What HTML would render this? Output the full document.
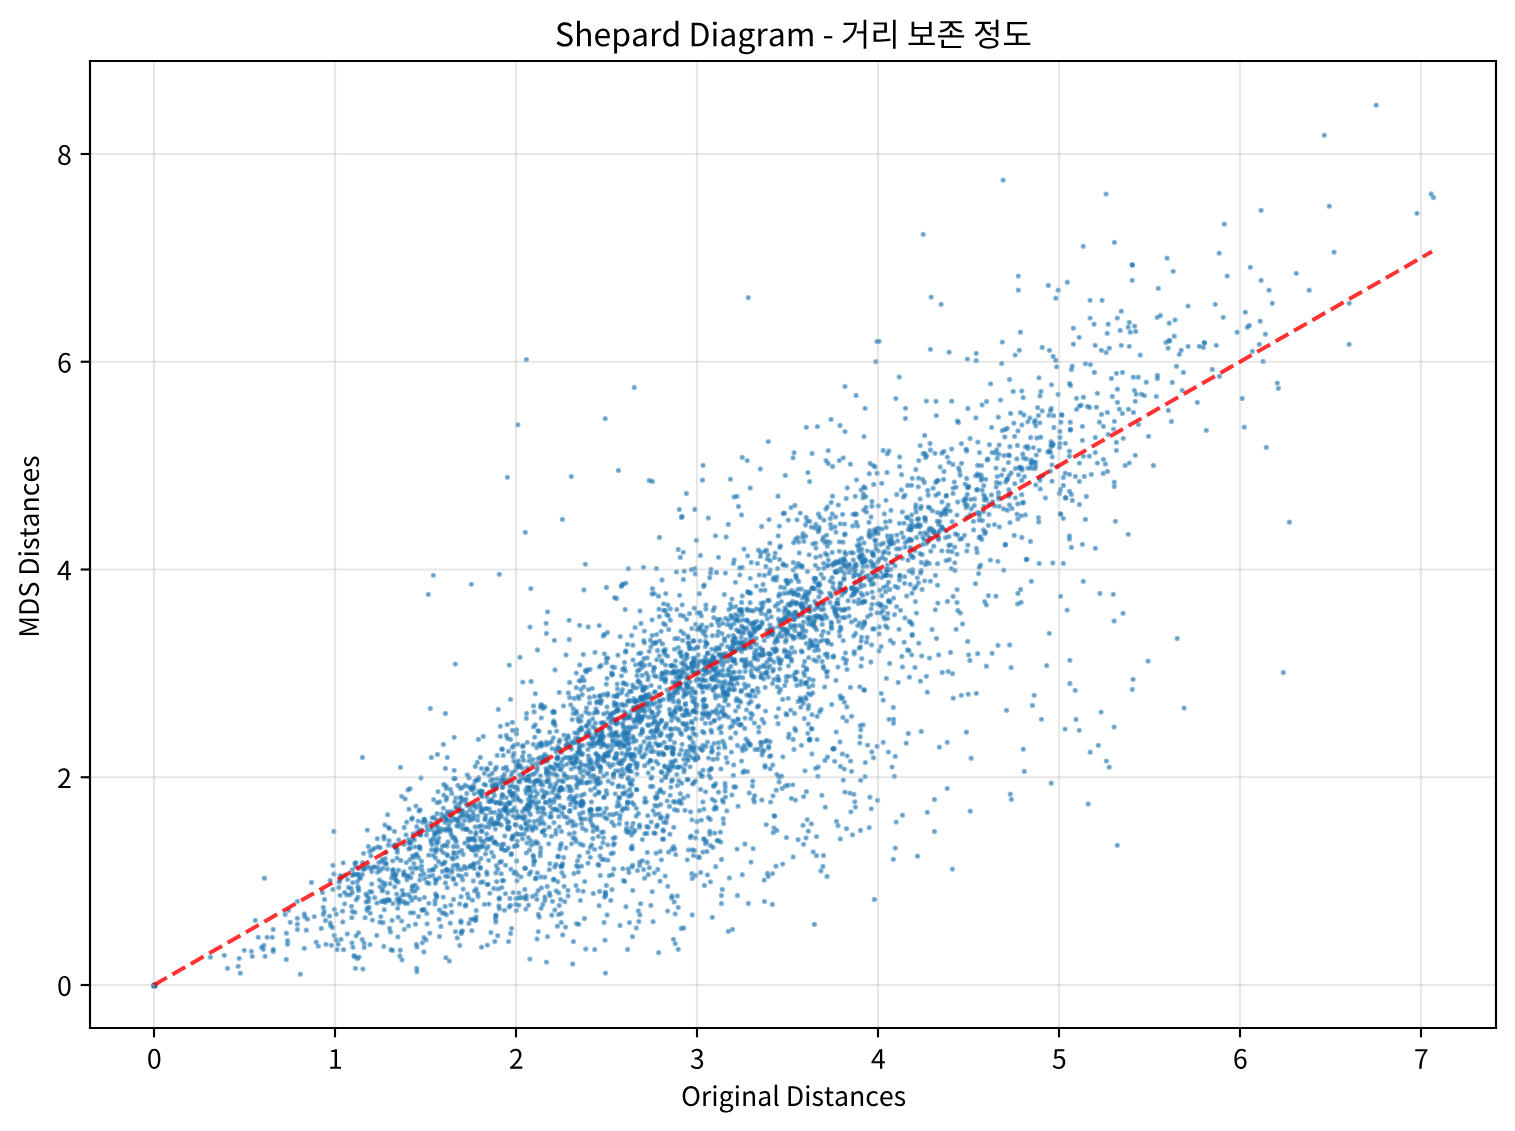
<!DOCTYPE html><html><head><meta charset="utf-8"><style>html,body{margin:0;padding:0;background:#fff;font-family:"Liberation Sans",sans-serif;}svg{display:block;width:1515px;height:1131px}</style></head><body><svg width="1515" height="1131" viewBox="0 0 568.125 424.125" version="1.1">
 
 <defs>
  <style type="text/css">*{stroke-linejoin: round; stroke-linecap: butt}</style>
 </defs>
 <defs><clipPath id="axclip"><rect x="90.0" y="61.0" width="1406.0" height="967.0"/></clipPath></defs><g id="figure_1">
  <g id="patch_1">
   <path d="M 0 424.125 
L 568.125 424.125 
L 568.125 0 
L 0 0 
z
" style="fill: #ffffff"/>
  </g>
  <g id="axes_1">
   <g id="patch_2">
    <path d="M 33.75 385.5 
L 561 385.5 
L 561 22.875 
L 33.75 22.875 
z
" style="fill: #ffffff"/>
   </g>
   <g transform="scale(0.375)"><g fill="#1f77b4" stroke="#1f77b4" fill-opacity="0.5" stroke-opacity="0.5" stroke-width="2.667" clip-path="url(#axclip)"><circle cx="154.45" cy="985.45" r="3.3" fill-opacity="1" stroke="none"/><circle cx="416.9" cy="971.8" r="1.333"/><circle cx="476.1" cy="916.9" r="1.333"/><circle cx="365.1" cy="917.7" r="1.333"/><circle cx="510.4" cy="905.3" r="1.333"/><circle cx="402.9" cy="894.6" r="1.333"/><circle cx="399.2" cy="899.9" r="1.333"/><circle cx="427.1" cy="923.8" r="1.333"/><circle cx="371.8" cy="892.0" r="1.333"/><circle cx="362.9" cy="969.0" r="1.333"/><circle cx="435.6" cy="893.9" r="1.333"/><circle cx="385.4" cy="902.3" r="1.333"/><circle cx="390.5" cy="931.9" r="1.333"/><circle cx="368.9" cy="898.4" r="1.333"/><circle cx="422.3" cy="909.8" r="1.333"/><circle cx="422.2" cy="910.2" r="1.333"/><circle cx="383.8" cy="946.5" r="1.333"/><circle cx="352.2" cy="892.4" r="1.333"/><circle cx="436.9" cy="896.9" r="1.333"/><circle cx="358.6" cy="890.6" r="1.333"/><circle cx="504.4" cy="910.3" r="1.333"/><circle cx="344.6" cy="903.8" r="1.333"/><circle cx="459.6" cy="903.9" r="1.333"/><circle cx="358.6" cy="932.8" r="1.333"/><circle cx="491.0" cy="932.5" r="1.333"/><circle cx="505.4" cy="893.6" r="1.333"/><circle cx="404.1" cy="894.6" r="1.333"/><circle cx="473.2" cy="919.1" r="1.333"/><circle cx="474.6" cy="890.9" r="1.333"/><circle cx="516.0" cy="898.6" r="1.333"/><circle cx="494.8" cy="941.5" r="1.333"/><circle cx="495.9" cy="915.1" r="1.333"/><circle cx="399.9" cy="897.8" r="1.333"/><circle cx="436.4" cy="895.8" r="1.333"/><circle cx="348.6" cy="887.4" r="1.333"/><circle cx="390.1" cy="883.7" r="1.333"/><circle cx="350.2" cy="894.8" r="1.333"/><circle cx="338.8" cy="887.5" r="1.333"/><circle cx="411.8" cy="891.0" r="1.333"/><circle cx="472.5" cy="900.2" r="1.333"/><circle cx="352.7" cy="882.6" r="1.333"/><circle cx="357.4" cy="958.6" r="1.333"/><circle cx="379.9" cy="922.2" r="1.333"/><circle cx="439.1" cy="919.2" r="1.333"/><circle cx="509.9" cy="898.5" r="1.333"/><circle cx="389.6" cy="900.3" r="1.333"/><circle cx="468.6" cy="897.9" r="1.333"/><circle cx="435.2" cy="900.5" r="1.333"/><circle cx="475.6" cy="920.5" r="1.333"/><circle cx="341.0" cy="939.4" r="1.333"/><circle cx="461.1" cy="896.7" r="1.333"/><circle cx="462.4" cy="930.8" r="1.333"/><circle cx="439.5" cy="909.9" r="1.333"/><circle cx="379.9" cy="886.8" r="1.333"/><circle cx="403.7" cy="901.5" r="1.333"/><circle cx="336.2" cy="914.2" r="1.333"/><circle cx="355.4" cy="968.3" r="1.333"/><circle cx="408.1" cy="894.6" r="1.333"/><circle cx="443.3" cy="897.1" r="1.333"/><circle cx="382.1" cy="882.1" r="1.333"/><circle cx="435.0" cy="904.1" r="1.333"/><circle cx="399.8" cy="956.0" r="1.333"/><circle cx="465.8" cy="904.8" r="1.333"/><circle cx="449.3" cy="961.0" r="1.333"/><circle cx="496.6" cy="881.6" r="1.333"/><circle cx="445.4" cy="882.9" r="1.333"/><circle cx="493.8" cy="888.5" r="1.333"/><circle cx="389.6" cy="928.3" r="1.333"/><circle cx="390.9" cy="949.7" r="1.333"/><circle cx="445.9" cy="957.7" r="1.333"/><circle cx="374.7" cy="897.7" r="1.333"/><circle cx="366.0" cy="894.1" r="1.333"/><circle cx="344.6" cy="892.3" r="1.333"/><circle cx="356.2" cy="899.8" r="1.333"/><circle cx="440.9" cy="926.4" r="1.333"/><circle cx="371.7" cy="883.9" r="1.333"/><circle cx="356.2" cy="935.8" r="1.333"/><circle cx="358.5" cy="888.5" r="1.333"/><circle cx="340.1" cy="895.3" r="1.333"/><circle cx="495.8" cy="915.9" r="1.333"/><circle cx="415.0" cy="891.2" r="1.333"/><circle cx="435.4" cy="883.3" r="1.333"/><circle cx="412.6" cy="885.9" r="1.333"/><circle cx="495.8" cy="922.0" r="1.333"/><circle cx="481.5" cy="947.2" r="1.333"/><circle cx="412.0" cy="900.3" r="1.333"/><circle cx="424.0" cy="937.7" r="1.333"/><circle cx="338.2" cy="944.2" r="1.333"/><circle cx="480.6" cy="882.5" r="1.333"/><circle cx="497.7" cy="935.7" r="1.333"/><circle cx="427.0" cy="882.7" r="1.333"/><circle cx="415.3" cy="897.4" r="1.333"/><circle cx="453.5" cy="899.5" r="1.333"/><circle cx="351.5" cy="906.3" r="1.333"/><circle cx="515.7" cy="904.3" r="1.333"/><circle cx="424.5" cy="909.5" r="1.333"/><circle cx="451.7" cy="912.2" r="1.333"/><circle cx="498.2" cy="888.9" r="1.333"/><circle cx="426.8" cy="913.5" r="1.333"/><circle cx="461.3" cy="933.4" r="1.333"/><circle cx="401.7" cy="921.1" r="1.333"/><circle cx="499.2" cy="898.9" r="1.333"/><circle cx="400.3" cy="901.6" r="1.333"/><circle cx="369.2" cy="907.5" r="1.333"/><circle cx="478.1" cy="896.6" r="1.333"/><circle cx="415.3" cy="885.1" r="1.333"/><circle cx="511.6" cy="928.3" r="1.333"/><circle cx="354.0" cy="955.6" r="1.333"/><circle cx="385.0" cy="883.5" r="1.333"/><circle cx="460.9" cy="920.9" r="1.333"/><circle cx="426.1" cy="939.9" r="1.333"/><circle cx="398.7" cy="903.4" r="1.333"/><circle cx="446.4" cy="914.8" r="1.333"/><circle cx="351.8" cy="917.7" r="1.333"/><circle cx="495.6" cy="918.7" r="1.333"/><circle cx="396.7" cy="894.1" r="1.333"/><circle cx="339.1" cy="882.2" r="1.333"/><circle cx="461.0" cy="922.6" r="1.333"/><circle cx="428.9" cy="883.5" r="1.333"/><circle cx="398.2" cy="917.2" r="1.333"/><circle cx="476.3" cy="889.0" r="1.333"/><circle cx="342.8" cy="922.0" r="1.333"/><circle cx="477.8" cy="893.4" r="1.333"/><circle cx="499.4" cy="898.0" r="1.333"/><circle cx="471.8" cy="930.7" r="1.333"/><circle cx="351.3" cy="888.4" r="1.333"/><circle cx="336.0" cy="939.9" r="1.333"/><circle cx="424.4" cy="897.4" r="1.333"/><circle cx="423.9" cy="951.9" r="1.333"/><circle cx="470.8" cy="919.3" r="1.333"/><circle cx="402.2" cy="890.3" r="1.333"/><circle cx="367.4" cy="908.1" r="1.333"/><circle cx="450.3" cy="923.2" r="1.333"/><circle cx="412.2" cy="887.6" r="1.333"/><circle cx="501.8" cy="887.6" r="1.333"/><circle cx="397.0" cy="899.5" r="1.333"/><circle cx="357.9" cy="897.2" r="1.333"/><circle cx="488.2" cy="884.3" r="1.333"/><circle cx="398.2" cy="882.2" r="1.333"/><circle cx="429.8" cy="933.1" r="1.333"/><circle cx="343.6" cy="949.7" r="1.333"/><circle cx="357.2" cy="881.9" r="1.333"/><circle cx="337.1" cy="949.6" r="1.333"/><circle cx="410.5" cy="912.8" r="1.333"/><circle cx="383.5" cy="901.4" r="1.333"/><circle cx="388.4" cy="900.2" r="1.333"/><circle cx="513.2" cy="892.6" r="1.333"/><circle cx="355.0" cy="912.4" r="1.333"/><circle cx="407.8" cy="903.2" r="1.333"/><circle cx="417.3" cy="888.2" r="1.333"/><circle cx="416.7" cy="968.4" r="1.333"/><circle cx="366.1" cy="901.9" r="1.333"/><circle cx="413.6" cy="912.8" r="1.333"/><circle cx="487.1" cy="884.6" r="1.333"/><circle cx="447.2" cy="887.7" r="1.333"/><circle cx="442.1" cy="913.0" r="1.333"/><circle cx="455.9" cy="884.1" r="1.333"/><circle cx="408.6" cy="925.9" r="1.333"/><circle cx="402.0" cy="959.8" r="1.333"/><circle cx="428.8" cy="903.3" r="1.333"/><circle cx="455.5" cy="931.6" r="1.333"/><circle cx="372.4" cy="920.1" r="1.333"/><circle cx="384.3" cy="885.5" r="1.333"/><circle cx="383.1" cy="922.7" r="1.333"/><circle cx="404.3" cy="929.3" r="1.333"/><circle cx="347.3" cy="933.9" r="1.333"/><circle cx="342.5" cy="911.2" r="1.333"/><circle cx="415.5" cy="924.2" r="1.333"/><circle cx="484.4" cy="904.3" r="1.333"/><circle cx="487.4" cy="945.1" r="1.333"/><circle cx="346.9" cy="895.0" r="1.333"/><circle cx="376.9" cy="903.1" r="1.333"/><circle cx="418.6" cy="916.5" r="1.333"/><circle cx="405.2" cy="903.3" r="1.333"/><circle cx="476.2" cy="910.5" r="1.333"/><circle cx="367.2" cy="896.0" r="1.333"/><circle cx="397.7" cy="908.3" r="1.333"/><circle cx="499.3" cy="908.8" r="1.333"/><circle cx="382.3" cy="891.1" r="1.333"/><circle cx="387.5" cy="899.4" r="1.333"/><circle cx="376.8" cy="935.4" r="1.333"/><circle cx="439.5" cy="936.5" r="1.333"/><circle cx="380.8" cy="916.6" r="1.333"/><circle cx="369.8" cy="891.6" r="1.333"/><circle cx="381.0" cy="901.6" r="1.333"/><circle cx="359.1" cy="957.1" r="1.333"/><circle cx="422.3" cy="942.8" r="1.333"/><circle cx="510.5" cy="933.4" r="1.333"/><circle cx="352.3" cy="911.5" r="1.333"/><circle cx="382.7" cy="889.3" r="1.333"/><circle cx="509.1" cy="907.0" r="1.333"/><circle cx="394.8" cy="886.8" r="1.333"/><circle cx="498.9" cy="905.9" r="1.333"/><circle cx="465.3" cy="905.9" r="1.333"/><circle cx="400.3" cy="950.2" r="1.333"/><circle cx="368.3" cy="901.5" r="1.333"/><circle cx="410.3" cy="897.0" r="1.333"/><circle cx="362.2" cy="939.5" r="1.333"/><circle cx="461.5" cy="931.9" r="1.333"/><circle cx="352.0" cy="943.0" r="1.333"/><circle cx="444.4" cy="913.1" r="1.333"/><circle cx="392.1" cy="920.3" r="1.333"/><circle cx="364.2" cy="947.4" r="1.333"/><circle cx="353.0" cy="947.3" r="1.333"/><circle cx="364.1" cy="943.1" r="1.333"/><circle cx="416.4" cy="944.3" r="1.333"/><circle cx="367.0" cy="910.3" r="1.333"/><circle cx="483.0" cy="881.8" r="1.333"/><circle cx="357.9" cy="886.6" r="1.333"/><circle cx="508.6" cy="941.6" r="1.333"/><circle cx="392.6" cy="950.4" r="1.333"/><circle cx="419.5" cy="899.4" r="1.333"/><circle cx="468.9" cy="923.4" r="1.333"/><circle cx="489.8" cy="893.3" r="1.333"/><circle cx="384.2" cy="900.2" r="1.333"/><circle cx="457.3" cy="937.9" r="1.333"/><circle cx="463.2" cy="889.1" r="1.333"/><circle cx="354.7" cy="956.7" r="1.333"/><circle cx="475.5" cy="919.6" r="1.333"/><circle cx="384.3" cy="909.7" r="1.333"/><circle cx="459.8" cy="945.5" r="1.333"/><circle cx="370.0" cy="944.6" r="1.333"/><circle cx="489.0" cy="904.1" r="1.333"/><circle cx="450.8" cy="905.1" r="1.333"/><circle cx="467.5" cy="894.0" r="1.333"/><circle cx="387.6" cy="892.7" r="1.333"/><circle cx="397.9" cy="936.9" r="1.333"/><circle cx="370.2" cy="913.2" r="1.333"/><circle cx="393.0" cy="903.6" r="1.333"/><circle cx="445.1" cy="906.4" r="1.333"/><circle cx="416.9" cy="947.1" r="1.333"/><circle cx="525.8" cy="909.1" r="1.333"/><circle cx="536.1" cy="894.6" r="1.333"/><circle cx="580.4" cy="900.4" r="1.333"/><circle cx="526.3" cy="895.6" r="1.333"/><circle cx="542.9" cy="904.5" r="1.333"/><circle cx="544.8" cy="896.9" r="1.333"/><circle cx="605.5" cy="973.1" r="1.333"/><circle cx="572.7" cy="963.9" r="1.333"/><circle cx="639.9" cy="914.9" r="1.333"/><circle cx="640.6" cy="903.7" r="1.333"/><circle cx="560.7" cy="899.5" r="1.333"/><circle cx="605.7" cy="893.5" r="1.333"/><circle cx="547.5" cy="936.6" r="1.333"/><circle cx="599.6" cy="891.4" r="1.333"/><circle cx="518.9" cy="905.2" r="1.333"/><circle cx="526.3" cy="899.0" r="1.333"/><circle cx="692.2" cy="914.9" r="1.333"/><circle cx="612.0" cy="889.6" r="1.333"/><circle cx="578.0" cy="890.5" r="1.333"/><circle cx="675.2" cy="914.0" r="1.333"/><circle cx="565.5" cy="927.1" r="1.333"/><circle cx="605.0" cy="940.2" r="1.333"/><circle cx="678.2" cy="949.3" r="1.333"/><circle cx="607.1" cy="914.9" r="1.333"/><circle cx="532.4" cy="896.5" r="1.333"/><circle cx="551.8" cy="915.2" r="1.333"/><circle cx="650.9" cy="905.4" r="1.333"/><circle cx="629.4" cy="922.6" r="1.333"/><circle cx="546.5" cy="962.1" r="1.333"/><circle cx="636.3" cy="928.0" r="1.333"/><circle cx="561.2" cy="922.5" r="1.333"/><circle cx="620.0" cy="925.4" r="1.333"/><circle cx="557.4" cy="926.2" r="1.333"/><circle cx="653.1" cy="921.7" r="1.333"/><circle cx="667.8" cy="886.3" r="1.333"/><circle cx="632.5" cy="936.7" r="1.333"/><circle cx="632.8" cy="890.4" r="1.333"/><circle cx="554.8" cy="910.0" r="1.333"/><circle cx="524.9" cy="898.2" r="1.333"/><circle cx="652.2" cy="891.7" r="1.333"/><circle cx="604.1" cy="922.5" r="1.333"/><circle cx="599.1" cy="905.7" r="1.333"/><circle cx="683.8" cy="928.0" r="1.333"/><circle cx="516.3" cy="910.6" r="1.333"/><circle cx="681.3" cy="928.4" r="1.333"/><circle cx="573.4" cy="941.6" r="1.333"/><circle cx="539.2" cy="917.1" r="1.333"/><circle cx="578.8" cy="924.3" r="1.333"/><circle cx="529.9" cy="959.1" r="1.333"/><circle cx="558.8" cy="892.9" r="1.333"/><circle cx="627.6" cy="949.5" r="1.333"/><circle cx="538.3" cy="914.3" r="1.333"/><circle cx="585.8" cy="949.0" r="1.333"/><circle cx="584.7" cy="881.6" r="1.333"/><circle cx="576.4" cy="923.6" r="1.333"/><circle cx="610.8" cy="900.4" r="1.333"/><circle cx="671.7" cy="897.9" r="1.333"/><circle cx="677.3" cy="896.0" r="1.333"/><circle cx="550.0" cy="895.7" r="1.333"/><circle cx="576.0" cy="885.6" r="1.333"/><circle cx="562.7" cy="934.9" r="1.333"/><circle cx="521.6" cy="897.5" r="1.333"/><circle cx="660.0" cy="881.2" r="1.333"/><circle cx="528.5" cy="905.2" r="1.333"/><circle cx="561.4" cy="913.5" r="1.333"/><circle cx="673.5" cy="939.3" r="1.333"/><circle cx="584.5" cy="918.5" r="1.333"/><circle cx="638.3" cy="910.9" r="1.333"/><circle cx="583.2" cy="891.3" r="1.333"/><circle cx="593.3" cy="893.5" r="1.333"/><circle cx="594.7" cy="949.5" r="1.333"/><circle cx="568.0" cy="890.3" r="1.333"/><circle cx="552.5" cy="901.3" r="1.333"/><circle cx="678.2" cy="907.3" r="1.333"/><circle cx="568.1" cy="895.9" r="1.333"/><circle cx="541.1" cy="908.3" r="1.333"/><circle cx="604.7" cy="897.1" r="1.333"/><circle cx="626.0" cy="906.7" r="1.333"/><circle cx="658.7" cy="952.7" r="1.333"/><circle cx="605.3" cy="892.2" r="1.333"/><circle cx="544.9" cy="900.5" r="1.333"/><circle cx="538.1" cy="890.6" r="1.333"/><circle cx="559.2" cy="905.5" r="1.333"/><circle cx="524.8" cy="889.4" r="1.333"/><circle cx="606.4" cy="885.4" r="1.333"/><circle cx="674.2" cy="901.9" r="1.333"/><circle cx="541.4" cy="887.9" r="1.333"/><circle cx="564.1" cy="886.3" r="1.333"/><circle cx="556.1" cy="890.8" r="1.333"/><circle cx="518.9" cy="892.8" r="1.333"/><circle cx="547.2" cy="886.5" r="1.333"/><circle cx="667.6" cy="911.1" r="1.333"/><circle cx="537.0" cy="939.0" r="1.333"/><circle cx="518.9" cy="897.9" r="1.333"/><circle cx="549.4" cy="893.0" r="1.333"/><circle cx="624.8" cy="881.6" r="1.333"/><circle cx="675.2" cy="943.6" r="1.333"/><circle cx="558.5" cy="914.6" r="1.333"/><circle cx="536.9" cy="899.3" r="1.333"/><circle cx="557.8" cy="881.7" r="1.333"/><circle cx="605.5" cy="895.5" r="1.333"/><circle cx="538.3" cy="931.6" r="1.333"/><circle cx="672.0" cy="895.9" r="1.333"/><circle cx="564.8" cy="901.7" r="1.333"/><circle cx="638.9" cy="921.4" r="1.333"/><circle cx="685.6" cy="665.5" r="1.333"/><circle cx="665.7" cy="671.3" r="1.333"/><circle cx="694.2" cy="648.9" r="1.333"/><circle cx="658.6" cy="596.2" r="1.333"/><circle cx="692.9" cy="671.9" r="1.333"/><circle cx="640.9" cy="653.0" r="1.333"/><circle cx="639.5" cy="669.8" r="1.333"/><circle cx="682.4" cy="672.6" r="1.333"/><circle cx="693.7" cy="640.9" r="1.333"/><circle cx="607.4" cy="632.5" r="1.333"/><circle cx="678.3" cy="647.6" r="1.333"/><circle cx="687.3" cy="668.8" r="1.333"/><circle cx="691.2" cy="667.3" r="1.333"/><circle cx="665.5" cy="665.1" r="1.333"/><circle cx="675.6" cy="660.8" r="1.333"/><circle cx="678.0" cy="638.5" r="1.333"/><circle cx="666.8" cy="614.5" r="1.333"/><circle cx="679.5" cy="652.6" r="1.333"/><circle cx="569.1" cy="620.3" r="1.333"/><circle cx="635.1" cy="627.6" r="1.333"/><circle cx="661.1" cy="631.3" r="1.333"/><circle cx="665.0" cy="654.6" r="1.333"/><circle cx="652.0" cy="594.0" r="1.333"/><circle cx="632.9" cy="645.2" r="1.333"/><circle cx="647.3" cy="657.9" r="1.333"/><circle cx="599.5" cy="666.9" r="1.333"/><circle cx="661.7" cy="660.3" r="1.333"/><circle cx="637.5" cy="671.0" r="1.333"/><circle cx="686.8" cy="655.1" r="1.333"/><circle cx="662.5" cy="673.1" r="1.333"/><circle cx="682.7" cy="669.2" r="1.333"/><circle cx="679.6" cy="671.6" r="1.333"/><circle cx="695.3" cy="573.9" r="1.333"/><circle cx="689.2" cy="646.3" r="1.333"/><circle cx="663.7" cy="610.3" r="1.333"/><circle cx="665.5" cy="610.5" r="1.333"/><circle cx="555.0" cy="669.9" r="1.333"/><circle cx="665.8" cy="593.6" r="1.333"/><circle cx="659.0" cy="609.2" r="1.333"/><circle cx="625.3" cy="670.9" r="1.333"/><circle cx="656.7" cy="659.8" r="1.333"/><circle cx="606.3" cy="662.7" r="1.333"/><circle cx="641.0" cy="623.4" r="1.333"/><circle cx="530.0" cy="627.1" r="1.333"/><circle cx="662.0" cy="580.0" r="1.333"/><circle cx="671.9" cy="665.9" r="1.333"/><circle cx="680.9" cy="631.1" r="1.333"/><circle cx="595.0" cy="652.3" r="1.333"/><circle cx="566.0" cy="654.9" r="1.333"/><circle cx="622.6" cy="669.4" r="1.333"/><circle cx="588.2" cy="626.9" r="1.333"/><circle cx="614.6" cy="667.5" r="1.333"/><circle cx="604.4" cy="653.8" r="1.333"/><circle cx="622.0" cy="585.0" r="1.333"/><circle cx="606.5" cy="587.4" r="1.333"/><circle cx="530.8" cy="588.6" r="1.333"/><circle cx="649.8" cy="664.7" r="1.333"/><circle cx="667.7" cy="656.2" r="1.333"/><circle cx="696.9" cy="667.0" r="1.333"/><circle cx="607.9" cy="658.0" r="1.333"/><circle cx="693.2" cy="663.4" r="1.333"/><circle cx="677.9" cy="670.9" r="1.333"/><circle cx="684.2" cy="571.2" r="1.333"/><circle cx="683.7" cy="616.1" r="1.333"/><circle cx="665.4" cy="624.8" r="1.333"/><circle cx="674.6" cy="649.2" r="1.333"/><circle cx="687.1" cy="657.7" r="1.333"/><circle cx="670.7" cy="665.6" r="1.333"/><circle cx="680.9" cy="655.3" r="1.333"/><circle cx="687.7" cy="667.8" r="1.333"/><circle cx="676.8" cy="609.5" r="1.333"/><circle cx="694.0" cy="661.3" r="1.333"/><circle cx="659.3" cy="655.8" r="1.333"/><circle cx="625.7" cy="652.0" r="1.333"/><circle cx="579.7" cy="664.9" r="1.333"/><circle cx="520.0" cy="657.3" r="1.333"/><circle cx="683.7" cy="633.7" r="1.333"/><circle cx="656.5" cy="634.6" r="1.333"/><circle cx="682.7" cy="640.4" r="1.333"/><circle cx="650.9" cy="647.0" r="1.333"/><circle cx="616.6" cy="598.5" r="1.333"/><circle cx="686.5" cy="619.3" r="1.333"/><circle cx="682.2" cy="604.8" r="1.333"/><circle cx="663.4" cy="651.0" r="1.333"/><circle cx="546.4" cy="633.4" r="1.333"/><circle cx="639.7" cy="664.0" r="1.333"/><circle cx="684.0" cy="672.2" r="1.333"/><circle cx="663.5" cy="623.5" r="1.333"/><circle cx="606.4" cy="658.7" r="1.333"/><circle cx="653.3" cy="671.6" r="1.333"/><circle cx="649.2" cy="651.3" r="1.333"/><circle cx="643.9" cy="658.4" r="1.333"/><circle cx="586.2" cy="671.9" r="1.333"/><circle cx="692.2" cy="671.3" r="1.333"/><circle cx="692.4" cy="667.1" r="1.333"/><circle cx="689.4" cy="648.3" r="1.333"/><circle cx="667.8" cy="605.0" r="1.333"/><circle cx="668.7" cy="672.6" r="1.333"/><circle cx="662.5" cy="643.9" r="1.333"/><circle cx="695.0" cy="672.9" r="1.333"/><circle cx="654.3" cy="593.7" r="1.333"/><circle cx="673.5" cy="671.5" r="1.333"/><circle cx="696.3" cy="672.1" r="1.333"/><circle cx="689.5" cy="613.7" r="1.333"/><circle cx="670.3" cy="608.9" r="1.333"/><circle cx="694.4" cy="608.2" r="1.333"/><circle cx="655.5" cy="643.3" r="1.333"/><circle cx="653.9" cy="668.3" r="1.333"/><circle cx="683.4" cy="579.5" r="1.333"/><circle cx="674.1" cy="672.0" r="1.333"/><circle cx="691.7" cy="663.3" r="1.333"/><circle cx="652.1" cy="619.9" r="1.333"/><circle cx="695.6" cy="624.3" r="1.333"/><circle cx="623.1" cy="584.2" r="1.333"/><circle cx="635.5" cy="664.8" r="1.333"/><circle cx="691.8" cy="663.6" r="1.333"/><circle cx="673.7" cy="672.1" r="1.333"/><circle cx="692.5" cy="667.1" r="1.333"/><circle cx="665.2" cy="649.4" r="1.333"/><circle cx="614.6" cy="597.6" r="1.333"/><circle cx="642.0" cy="662.3" r="1.333"/><circle cx="603.3" cy="636.0" r="1.333"/><circle cx="693.0" cy="663.4" r="1.333"/><circle cx="640.6" cy="664.0" r="1.333"/><circle cx="604.3" cy="634.4" r="1.333"/><circle cx="601.1" cy="665.4" r="1.333"/><circle cx="587.4" cy="669.9" r="1.333"/><circle cx="659.6" cy="640.9" r="1.333"/><circle cx="624.5" cy="662.5" r="1.333"/><circle cx="693.3" cy="640.8" r="1.333"/><circle cx="664.6" cy="651.6" r="1.333"/><circle cx="583.3" cy="654.5" r="1.333"/><circle cx="655.7" cy="642.1" r="1.333"/><circle cx="625.7" cy="650.9" r="1.333"/><circle cx="650.5" cy="640.2" r="1.333"/><circle cx="546.1" cy="623.3" r="1.333"/><circle cx="687.8" cy="636.0" r="1.333"/><circle cx="627.5" cy="644.4" r="1.333"/><circle cx="652.2" cy="635.4" r="1.333"/><circle cx="547.6" cy="611.8" r="1.333"/><circle cx="621.2" cy="586.4" r="1.333"/><circle cx="583.9" cy="589.9" r="1.333"/><circle cx="599.3" cy="625.6" r="1.333"/><circle cx="672.0" cy="673.3" r="1.333"/><circle cx="554.3" cy="640.3" r="1.333"/><circle cx="696.2" cy="665.2" r="1.333"/><circle cx="625.9" cy="583.1" r="1.333"/><circle cx="644.4" cy="631.1" r="1.333"/><circle cx="653.0" cy="643.4" r="1.333"/><circle cx="585.5" cy="670.5" r="1.333"/><circle cx="624.4" cy="668.0" r="1.333"/><circle cx="680.4" cy="615.2" r="1.333"/><circle cx="674.9" cy="638.7" r="1.333"/><circle cx="579.6" cy="625.3" r="1.333"/><circle cx="638.7" cy="653.6" r="1.333"/><circle cx="684.9" cy="660.0" r="1.333"/><circle cx="675.4" cy="666.5" r="1.333"/><circle cx="640.0" cy="611.0" r="1.333"/><circle cx="644.7" cy="665.4" r="1.333"/><circle cx="683.4" cy="664.2" r="1.333"/><circle cx="617.9" cy="655.2" r="1.333"/><circle cx="687.9" cy="643.1" r="1.333"/><circle cx="652.5" cy="588.7" r="1.333"/><circle cx="537.5" cy="650.0" r="1.333"/><circle cx="689.3" cy="643.3" r="1.333"/><circle cx="681.0" cy="651.8" r="1.333"/><circle cx="576.3" cy="673.1" r="1.333"/><circle cx="611.6" cy="673.0" r="1.333"/><circle cx="690.3" cy="648.7" r="1.333"/><circle cx="688.3" cy="637.9" r="1.333"/><circle cx="659.4" cy="616.6" r="1.333"/><circle cx="681.6" cy="663.0" r="1.333"/><circle cx="672.5" cy="665.3" r="1.333"/><circle cx="643.8" cy="640.7" r="1.333"/><circle cx="631.6" cy="635.5" r="1.333"/><circle cx="620.2" cy="636.6" r="1.333"/><circle cx="642.0" cy="667.4" r="1.333"/><circle cx="569.3" cy="639.5" r="1.333"/><circle cx="657.5" cy="650.5" r="1.333"/><circle cx="676.4" cy="571.9" r="1.333"/><circle cx="691.8" cy="628.6" r="1.333"/><circle cx="654.4" cy="667.4" r="1.333"/><circle cx="663.6" cy="603.8" r="1.333"/><circle cx="670.3" cy="620.2" r="1.333"/><circle cx="679.6" cy="595.3" r="1.333"/><circle cx="644.5" cy="642.8" r="1.333"/><circle cx="676.2" cy="673.2" r="1.333"/><circle cx="590.0" cy="669.4" r="1.333"/><circle cx="646.3" cy="673.2" r="1.333"/><circle cx="612.2" cy="666.8" r="1.333"/><circle cx="668.7" cy="629.5" r="1.333"/><circle cx="662.0" cy="662.5" r="1.333"/><circle cx="682.0" cy="656.8" r="1.333"/><circle cx="668.4" cy="615.8" r="1.333"/><circle cx="633.0" cy="659.9" r="1.333"/><circle cx="686.4" cy="654.2" r="1.333"/><circle cx="695.2" cy="658.2" r="1.333"/><circle cx="693.7" cy="661.4" r="1.333"/><circle cx="693.1" cy="658.1" r="1.333"/><circle cx="625.1" cy="609.5" r="1.333"/><circle cx="809.1" cy="554.8" r="1.333"/><circle cx="800.1" cy="565.9" r="1.333"/><circle cx="875.2" cy="532.3" r="1.333"/><circle cx="877.8" cy="562.1" r="1.333"/><circle cx="827.4" cy="546.2" r="1.333"/><circle cx="827.4" cy="506.8" r="1.333"/><circle cx="823.7" cy="568.3" r="1.333"/><circle cx="853.2" cy="559.9" r="1.333"/><circle cx="800.3" cy="513.1" r="1.333"/><circle cx="877.4" cy="568.2" r="1.333"/><circle cx="860.4" cy="559.0" r="1.333"/><circle cx="875.9" cy="544.9" r="1.333"/><circle cx="739.6" cy="568.0" r="1.333"/><circle cx="844.3" cy="565.9" r="1.333"/><circle cx="823.7" cy="563.3" r="1.333"/><circle cx="859.9" cy="544.3" r="1.333"/><circle cx="838.3" cy="505.0" r="1.333"/><circle cx="805.7" cy="536.2" r="1.333"/><circle cx="827.2" cy="555.1" r="1.333"/><circle cx="869.0" cy="522.3" r="1.333"/><circle cx="855.3" cy="496.3" r="1.333"/><circle cx="849.4" cy="564.4" r="1.333"/><circle cx="844.7" cy="534.8" r="1.333"/><circle cx="851.2" cy="569.1" r="1.333"/><circle cx="860.4" cy="556.3" r="1.333"/><circle cx="796.4" cy="566.8" r="1.333"/><circle cx="818.4" cy="568.7" r="1.333"/><circle cx="798.2" cy="563.3" r="1.333"/><circle cx="863.5" cy="562.0" r="1.333"/><circle cx="856.3" cy="514.4" r="1.333"/><circle cx="751.2" cy="562.4" r="1.333"/><circle cx="846.2" cy="498.5" r="1.333"/><circle cx="872.0" cy="501.4" r="1.333"/><circle cx="877.0" cy="531.9" r="1.333"/><circle cx="809.8" cy="521.3" r="1.333"/><circle cx="780.4" cy="546.0" r="1.333"/><circle cx="733.4" cy="563.4" r="1.333"/><circle cx="858.7" cy="550.8" r="1.333"/><circle cx="750.2" cy="488.0" r="1.333"/><circle cx="871.1" cy="517.0" r="1.333"/><circle cx="862.9" cy="566.5" r="1.333"/><circle cx="856.3" cy="522.4" r="1.333"/><circle cx="823.9" cy="520.2" r="1.333"/><circle cx="768.2" cy="554.8" r="1.333"/><circle cx="803.9" cy="541.3" r="1.333"/><circle cx="843.6" cy="558.9" r="1.333"/><circle cx="846.0" cy="565.9" r="1.333"/><circle cx="778.2" cy="535.8" r="1.333"/><circle cx="835.1" cy="561.9" r="1.333"/><circle cx="831.2" cy="502.5" r="1.333"/><circle cx="801.9" cy="565.7" r="1.333"/><circle cx="779.8" cy="547.4" r="1.333"/><circle cx="760.3" cy="469.0" r="1.333"/><circle cx="872.6" cy="554.3" r="1.333"/><circle cx="718.5" cy="557.3" r="1.333"/><circle cx="827.3" cy="566.1" r="1.333"/><circle cx="832.6" cy="466.5" r="1.333"/><circle cx="835.6" cy="517.0" r="1.333"/><circle cx="726.1" cy="537.0" r="1.333"/><circle cx="828.3" cy="560.1" r="1.333"/><circle cx="869.3" cy="473.7" r="1.333"/><circle cx="877.1" cy="473.2" r="1.333"/><circle cx="807.2" cy="521.1" r="1.333"/><circle cx="838.1" cy="562.8" r="1.333"/><circle cx="797.6" cy="537.6" r="1.333"/><circle cx="816.0" cy="548.0" r="1.333"/><circle cx="875.0" cy="540.1" r="1.333"/><circle cx="702.5" cy="480.2" r="1.333"/><circle cx="793.3" cy="562.5" r="1.333"/><circle cx="819.2" cy="527.3" r="1.333"/><circle cx="863.7" cy="510.1" r="1.333"/><circle cx="815.9" cy="524.5" r="1.333"/><circle cx="825.9" cy="509.1" r="1.333"/><circle cx="844.6" cy="524.1" r="1.333"/><circle cx="872.5" cy="563.5" r="1.333"/><circle cx="857.6" cy="526.1" r="1.333"/><circle cx="843.4" cy="563.6" r="1.333"/><circle cx="835.4" cy="563.7" r="1.333"/><circle cx="873.3" cy="534.7" r="1.333"/><circle cx="802.4" cy="537.2" r="1.333"/><circle cx="747.7" cy="555.9" r="1.333"/><circle cx="876.0" cy="548.8" r="1.333"/><circle cx="770.2" cy="560.7" r="1.333"/><circle cx="827.1" cy="541.3" r="1.333"/><circle cx="809.6" cy="481.6" r="1.333"/><circle cx="864.1" cy="542.9" r="1.333"/><circle cx="848.8" cy="565.1" r="1.333"/><circle cx="826.7" cy="535.1" r="1.333"/><circle cx="872.2" cy="566.4" r="1.333"/><circle cx="857.2" cy="545.4" r="1.333"/><circle cx="863.4" cy="494.2" r="1.333"/><circle cx="863.8" cy="486.8" r="1.333"/><circle cx="711.0" cy="569.3" r="1.333"/><circle cx="775.2" cy="553.1" r="1.333"/><circle cx="798.7" cy="542.0" r="1.333"/><circle cx="844.1" cy="559.5" r="1.333"/><circle cx="769.9" cy="543.2" r="1.333"/><circle cx="823.5" cy="537.2" r="1.333"/><circle cx="744.0" cy="549.1" r="1.333"/><circle cx="834.9" cy="526.9" r="1.333"/><circle cx="764.5" cy="551.4" r="1.333"/><circle cx="855.5" cy="563.8" r="1.333"/><circle cx="866.5" cy="512.1" r="1.333"/><circle cx="832.3" cy="513.9" r="1.333"/><circle cx="866.0" cy="507.4" r="1.333"/><circle cx="847.1" cy="568.6" r="1.333"/><circle cx="856.6" cy="565.4" r="1.333"/><circle cx="832.2" cy="552.4" r="1.333"/><circle cx="859.0" cy="556.6" r="1.333"/><circle cx="700.4" cy="555.5" r="1.333"/><circle cx="858.6" cy="540.1" r="1.333"/><circle cx="730.4" cy="479.2" r="1.333"/><circle cx="794.9" cy="505.5" r="1.333"/><circle cx="785.3" cy="475.4" r="1.333"/><circle cx="873.1" cy="553.9" r="1.333"/><circle cx="840.4" cy="559.8" r="1.333"/><circle cx="865.9" cy="496.6" r="1.333"/><circle cx="830.4" cy="518.5" r="1.333"/><circle cx="853.1" cy="514.3" r="1.333"/><circle cx="873.6" cy="555.9" r="1.333"/><circle cx="815.7" cy="543.1" r="1.333"/><circle cx="734.1" cy="496.9" r="1.333"/><circle cx="861.4" cy="538.1" r="1.333"/><circle cx="777.6" cy="568.6" r="1.333"/><circle cx="814.8" cy="528.1" r="1.333"/><circle cx="853.1" cy="552.9" r="1.333"/><circle cx="874.2" cy="529.9" r="1.333"/><circle cx="870.6" cy="561.4" r="1.333"/><circle cx="741.5" cy="514.9" r="1.333"/><circle cx="783.2" cy="563.9" r="1.333"/><circle cx="738.5" cy="506.4" r="1.333"/><circle cx="864.4" cy="559.0" r="1.333"/><circle cx="830.5" cy="524.5" r="1.333"/><circle cx="862.0" cy="562.0" r="1.333"/><circle cx="861.4" cy="553.6" r="1.333"/><circle cx="863.0" cy="497.9" r="1.333"/><circle cx="861.1" cy="489.8" r="1.333"/><circle cx="855.3" cy="514.0" r="1.333"/><circle cx="842.6" cy="514.3" r="1.333"/><circle cx="766.6" cy="550.2" r="1.333"/><circle cx="737.0" cy="496.3" r="1.333"/><circle cx="779.5" cy="559.4" r="1.333"/><circle cx="769.0" cy="519.6" r="1.333"/><circle cx="876.9" cy="528.9" r="1.333"/><circle cx="858.9" cy="547.5" r="1.333"/><circle cx="825.3" cy="553.5" r="1.333"/><circle cx="818.3" cy="531.7" r="1.333"/><circle cx="855.1" cy="569.0" r="1.333"/><circle cx="818.8" cy="529.9" r="1.333"/><circle cx="843.0" cy="542.2" r="1.333"/><circle cx="832.9" cy="563.9" r="1.333"/><circle cx="734.2" cy="559.8" r="1.333"/><circle cx="837.5" cy="561.7" r="1.333"/><circle cx="869.2" cy="533.6" r="1.333"/><circle cx="860.6" cy="557.6" r="1.333"/><circle cx="839.4" cy="541.8" r="1.333"/><circle cx="760.8" cy="552.6" r="1.333"/><circle cx="844.9" cy="552.2" r="1.333"/><circle cx="867.0" cy="566.2" r="1.333"/><circle cx="797.0" cy="519.8" r="1.333"/><circle cx="802.1" cy="567.2" r="1.333"/><circle cx="795.4" cy="539.5" r="1.333"/><circle cx="788.2" cy="520.1" r="1.333"/><circle cx="767.3" cy="559.0" r="1.333"/><circle cx="836.0" cy="532.2" r="1.333"/><circle cx="856.5" cy="479.8" r="1.333"/><circle cx="761.6" cy="526.5" r="1.333"/><circle cx="778.0" cy="496.2" r="1.333"/><circle cx="847.3" cy="487.9" r="1.333"/><circle cx="874.1" cy="565.3" r="1.333"/><circle cx="845.3" cy="561.5" r="1.333"/><circle cx="791.0" cy="507.6" r="1.333"/><circle cx="832.5" cy="496.2" r="1.333"/><circle cx="840.9" cy="562.4" r="1.333"/><circle cx="807.9" cy="472.6" r="1.333"/><circle cx="850.5" cy="552.6" r="1.333"/><circle cx="806.2" cy="517.4" r="1.333"/><circle cx="852.8" cy="526.0" r="1.333"/><circle cx="871.9" cy="506.2" r="1.333"/><circle cx="783.3" cy="565.1" r="1.333"/><circle cx="854.3" cy="566.3" r="1.333"/><circle cx="845.8" cy="554.5" r="1.333"/><circle cx="861.9" cy="549.3" r="1.333"/><circle cx="765.9" cy="566.4" r="1.333"/><circle cx="728.3" cy="524.4" r="1.333"/><circle cx="870.1" cy="537.1" r="1.333"/><circle cx="865.2" cy="488.1" r="1.333"/><circle cx="784.5" cy="513.2" r="1.333"/><circle cx="815.4" cy="565.3" r="1.333"/><circle cx="803.0" cy="533.6" r="1.333"/><circle cx="815.8" cy="557.3" r="1.333"/><circle cx="822.5" cy="540.0" r="1.333"/><circle cx="872.1" cy="552.1" r="1.333"/><circle cx="783.1" cy="513.4" r="1.333"/><circle cx="840.2" cy="523.8" r="1.333"/><circle cx="863.0" cy="555.6" r="1.333"/><circle cx="865.8" cy="560.5" r="1.333"/><circle cx="875.1" cy="466.9" r="1.333"/><circle cx="825.0" cy="542.7" r="1.333"/><circle cx="812.8" cy="543.8" r="1.333"/><circle cx="831.2" cy="528.4" r="1.333"/><circle cx="805.5" cy="525.0" r="1.333"/><circle cx="758.5" cy="550.2" r="1.333"/><circle cx="862.7" cy="562.6" r="1.333"/><circle cx="818.5" cy="514.0" r="1.333"/><circle cx="779.4" cy="526.1" r="1.333"/><circle cx="841.0" cy="568.4" r="1.333"/><circle cx="829.9" cy="542.5" r="1.333"/><circle cx="799.2" cy="552.9" r="1.333"/><circle cx="867.4" cy="550.8" r="1.333"/><circle cx="774.5" cy="557.5" r="1.333"/><circle cx="757.4" cy="563.5" r="1.333"/><circle cx="873.7" cy="484.4" r="1.333"/><circle cx="875.4" cy="540.6" r="1.333"/><circle cx="760.4" cy="556.4" r="1.333"/><circle cx="864.8" cy="560.7" r="1.333"/><circle cx="742.2" cy="567.5" r="1.333"/><circle cx="828.2" cy="565.1" r="1.333"/><circle cx="715.5" cy="535.8" r="1.333"/><circle cx="845.0" cy="533.9" r="1.333"/><circle cx="869.7" cy="530.7" r="1.333"/><circle cx="786.3" cy="565.6" r="1.333"/><circle cx="708.3" cy="518.0" r="1.333"/><circle cx="793.6" cy="542.8" r="1.333"/><circle cx="832.8" cy="565.2" r="1.333"/><circle cx="820.3" cy="556.1" r="1.333"/><circle cx="811.4" cy="527.1" r="1.333"/><circle cx="820.0" cy="517.3" r="1.333"/><circle cx="869.0" cy="535.6" r="1.333"/><circle cx="839.3" cy="551.3" r="1.333"/><circle cx="909.1" cy="571.0" r="1.333"/><circle cx="910.2" cy="584.4" r="1.333"/><circle cx="887.8" cy="613.5" r="1.333"/><circle cx="937.8" cy="603.1" r="1.333"/><circle cx="921.2" cy="570.5" r="1.333"/><circle cx="881.8" cy="595.7" r="1.333"/><circle cx="886.9" cy="569.8" r="1.333"/><circle cx="957.0" cy="602.5" r="1.333"/><circle cx="906.7" cy="596.0" r="1.333"/><circle cx="879.5" cy="603.9" r="1.333"/><circle cx="915.0" cy="667.4" r="1.333"/><circle cx="935.5" cy="575.5" r="1.333"/><circle cx="895.1" cy="586.4" r="1.333"/><circle cx="911.7" cy="654.8" r="1.333"/><circle cx="938.7" cy="654.9" r="1.333"/><circle cx="968.6" cy="654.8" r="1.333"/><circle cx="929.5" cy="658.1" r="1.333"/><circle cx="909.3" cy="621.4" r="1.333"/><circle cx="962.6" cy="623.9" r="1.333"/><circle cx="904.6" cy="583.3" r="1.333"/><circle cx="986.4" cy="604.9" r="1.333"/><circle cx="879.1" cy="633.9" r="1.333"/><circle cx="986.4" cy="666.2" r="1.333"/><circle cx="936.5" cy="638.5" r="1.333"/><circle cx="899.7" cy="576.2" r="1.333"/><circle cx="920.5" cy="573.0" r="1.333"/><circle cx="978.6" cy="573.6" r="1.333"/><circle cx="957.1" cy="589.6" r="1.333"/><circle cx="1046.7" cy="665.6" r="1.333"/><circle cx="909.0" cy="650.7" r="1.333"/><circle cx="922.1" cy="589.4" r="1.333"/><circle cx="904.2" cy="642.2" r="1.333"/><circle cx="977.7" cy="653.7" r="1.333"/><circle cx="950.6" cy="652.4" r="1.333"/><circle cx="942.2" cy="672.4" r="1.333"/><circle cx="896.6" cy="606.6" r="1.333"/><circle cx="879.3" cy="627.0" r="1.333"/><circle cx="893.3" cy="643.1" r="1.333"/><circle cx="881.3" cy="604.9" r="1.333"/><circle cx="918.8" cy="643.2" r="1.333"/><circle cx="886.7" cy="586.0" r="1.333"/><circle cx="902.5" cy="667.0" r="1.333"/><circle cx="916.4" cy="613.1" r="1.333"/><circle cx="912.5" cy="569.7" r="1.333"/><circle cx="967.7" cy="641.4" r="1.333"/><circle cx="995.9" cy="596.2" r="1.333"/><circle cx="887.4" cy="627.8" r="1.333"/><circle cx="880.8" cy="571.8" r="1.333"/><circle cx="916.0" cy="586.7" r="1.333"/><circle cx="890.8" cy="575.8" r="1.333"/><circle cx="894.5" cy="614.7" r="1.333"/><circle cx="988.4" cy="595.7" r="1.333"/><circle cx="886.8" cy="574.8" r="1.333"/><circle cx="914.1" cy="588.6" r="1.333"/><circle cx="881.7" cy="577.6" r="1.333"/><circle cx="975.5" cy="583.7" r="1.333"/><circle cx="881.1" cy="606.3" r="1.333"/><circle cx="992.1" cy="653.3" r="1.333"/><circle cx="885.7" cy="607.0" r="1.333"/><circle cx="1009.7" cy="644.9" r="1.333"/><circle cx="1003.8" cy="570.2" r="1.333"/><circle cx="960.4" cy="613.1" r="1.333"/><circle cx="888.6" cy="600.5" r="1.333"/><circle cx="924.7" cy="580.8" r="1.333"/><circle cx="1031.4" cy="581.3" r="1.333"/><circle cx="884.8" cy="619.1" r="1.333"/><circle cx="904.6" cy="576.7" r="1.333"/><circle cx="899.1" cy="629.3" r="1.333"/><circle cx="948.2" cy="671.5" r="1.333"/><circle cx="1020.6" cy="589.4" r="1.333"/><circle cx="886.8" cy="571.3" r="1.333"/><circle cx="888.6" cy="582.2" r="1.333"/><circle cx="912.6" cy="573.0" r="1.333"/><circle cx="887.7" cy="618.6" r="1.333"/><circle cx="947.4" cy="601.4" r="1.333"/><circle cx="899.8" cy="575.1" r="1.333"/><circle cx="899.5" cy="579.9" r="1.333"/><circle cx="881.2" cy="646.7" r="1.333"/><circle cx="885.3" cy="575.6" r="1.333"/><circle cx="912.2" cy="624.5" r="1.333"/><circle cx="921.7" cy="656.0" r="1.333"/><circle cx="889.6" cy="663.4" r="1.333"/><circle cx="904.9" cy="617.9" r="1.333"/><circle cx="957.8" cy="610.5" r="1.333"/><circle cx="998.0" cy="645.3" r="1.333"/><circle cx="915.4" cy="601.6" r="1.333"/><circle cx="882.9" cy="610.7" r="1.333"/><circle cx="879.0" cy="651.0" r="1.333"/><circle cx="889.7" cy="589.5" r="1.333"/><circle cx="912.1" cy="635.4" r="1.333"/><circle cx="935.3" cy="609.8" r="1.333"/><circle cx="1049.3" cy="633.3" r="1.333"/><circle cx="879.7" cy="590.2" r="1.333"/><circle cx="912.3" cy="634.3" r="1.333"/><circle cx="888.7" cy="601.6" r="1.333"/><circle cx="897.9" cy="587.7" r="1.333"/><circle cx="912.0" cy="593.2" r="1.333"/><circle cx="1021.1" cy="602.3" r="1.333"/><circle cx="953.1" cy="596.5" r="1.333"/><circle cx="893.6" cy="598.1" r="1.333"/><circle cx="917.3" cy="577.8" r="1.333"/><circle cx="890.2" cy="602.0" r="1.333"/><circle cx="885.6" cy="591.7" r="1.333"/><circle cx="886.2" cy="575.2" r="1.333"/><circle cx="883.7" cy="575.5" r="1.333"/><circle cx="901.9" cy="656.4" r="1.333"/><circle cx="1011.1" cy="667.6" r="1.333"/><circle cx="880.6" cy="612.8" r="1.333"/><circle cx="932.1" cy="629.5" r="1.333"/><circle cx="885.5" cy="625.8" r="1.333"/><circle cx="883.6" cy="616.8" r="1.333"/><circle cx="955.0" cy="570.4" r="1.333"/><circle cx="918.4" cy="582.9" r="1.333"/><circle cx="907.5" cy="649.9" r="1.333"/><circle cx="890.4" cy="640.5" r="1.333"/><circle cx="910.8" cy="622.5" r="1.333"/><circle cx="969.9" cy="660.4" r="1.333"/><circle cx="883.5" cy="587.3" r="1.333"/><circle cx="930.4" cy="581.2" r="1.333"/><circle cx="984.6" cy="601.6" r="1.333"/><circle cx="1017.7" cy="603.9" r="1.333"/><circle cx="900.5" cy="610.3" r="1.333"/><circle cx="1017.9" cy="593.4" r="1.333"/><circle cx="956.1" cy="629.3" r="1.333"/><circle cx="937.6" cy="585.2" r="1.333"/><circle cx="1047.8" cy="452.0" r="1.333"/><circle cx="989.4" cy="444.7" r="1.333"/><circle cx="1009.4" cy="455.6" r="1.333"/><circle cx="977.9" cy="442.1" r="1.333"/><circle cx="1051.1" cy="446.5" r="1.333"/><circle cx="1001.6" cy="363.4" r="1.333"/><circle cx="925.0" cy="453.4" r="1.333"/><circle cx="1020.5" cy="412.7" r="1.333"/><circle cx="1040.8" cy="437.2" r="1.333"/><circle cx="1039.9" cy="422.8" r="1.333"/><circle cx="1050.6" cy="452.2" r="1.333"/><circle cx="998.3" cy="417.2" r="1.333"/><circle cx="961.6" cy="463.3" r="1.333"/><circle cx="1051.5" cy="384.8" r="1.333"/><circle cx="1031.5" cy="459.8" r="1.333"/><circle cx="1013.9" cy="423.2" r="1.333"/><circle cx="941.9" cy="453.2" r="1.333"/><circle cx="899.2" cy="377.0" r="1.333"/><circle cx="1052.0" cy="464.8" r="1.333"/><circle cx="943.9" cy="451.4" r="1.333"/><circle cx="1009.9" cy="446.7" r="1.333"/><circle cx="1004.0" cy="455.6" r="1.333"/><circle cx="966.1" cy="449.2" r="1.333"/><circle cx="951.7" cy="449.0" r="1.333"/><circle cx="947.3" cy="457.1" r="1.333"/><circle cx="1048.9" cy="415.3" r="1.333"/><circle cx="961.4" cy="443.6" r="1.333"/><circle cx="1035.8" cy="425.8" r="1.333"/><circle cx="982.1" cy="404.9" r="1.333"/><circle cx="899.7" cy="457.0" r="1.333"/><circle cx="1053.3" cy="443.8" r="1.333"/><circle cx="1040.0" cy="395.9" r="1.333"/><circle cx="1036.3" cy="455.1" r="1.333"/><circle cx="905.4" cy="418.4" r="1.333"/><circle cx="986.6" cy="401.5" r="1.333"/><circle cx="926.4" cy="401.1" r="1.333"/><circle cx="1005.1" cy="429.5" r="1.333"/><circle cx="1008.4" cy="455.0" r="1.333"/><circle cx="918.8" cy="460.6" r="1.333"/><circle cx="975.9" cy="417.9" r="1.333"/><circle cx="920.2" cy="445.6" r="1.333"/><circle cx="1027.6" cy="446.3" r="1.333"/><circle cx="1028.0" cy="448.6" r="1.333"/><circle cx="1041.0" cy="391.5" r="1.333"/><circle cx="1052.2" cy="456.8" r="1.333"/><circle cx="991.6" cy="427.4" r="1.333"/><circle cx="1000.6" cy="400.1" r="1.333"/><circle cx="977.7" cy="465.4" r="1.333"/><circle cx="997.2" cy="458.4" r="1.333"/><circle cx="1056.6" cy="366.8" r="1.333"/><circle cx="1021.8" cy="391.0" r="1.333"/><circle cx="1018.0" cy="430.9" r="1.333"/><circle cx="966.7" cy="451.0" r="1.333"/><circle cx="1039.0" cy="377.8" r="1.333"/><circle cx="987.1" cy="460.0" r="1.333"/><circle cx="1050.5" cy="410.8" r="1.333"/><circle cx="998.9" cy="454.2" r="1.333"/><circle cx="936.3" cy="415.6" r="1.333"/><circle cx="883.2" cy="450.5" r="1.333"/><circle cx="905.5" cy="408.3" r="1.333"/><circle cx="1036.9" cy="438.0" r="1.333"/><circle cx="1037.7" cy="407.7" r="1.333"/><circle cx="996.7" cy="449.8" r="1.333"/><circle cx="979.5" cy="452.6" r="1.333"/><circle cx="1031.2" cy="464.2" r="1.333"/><circle cx="1035.7" cy="462.2" r="1.333"/><circle cx="999.2" cy="445.0" r="1.333"/><circle cx="1058.1" cy="394.5" r="1.333"/><circle cx="1021.9" cy="425.0" r="1.333"/><circle cx="1010.6" cy="413.4" r="1.333"/><circle cx="1029.9" cy="418.0" r="1.333"/><circle cx="926.6" cy="455.8" r="1.333"/><circle cx="949.0" cy="462.3" r="1.333"/><circle cx="936.0" cy="401.3" r="1.333"/><circle cx="1053.6" cy="415.7" r="1.333"/><circle cx="1008.4" cy="462.6" r="1.333"/><circle cx="987.9" cy="459.0" r="1.333"/><circle cx="895.8" cy="398.6" r="1.333"/><circle cx="951.7" cy="401.2" r="1.333"/><circle cx="1023.2" cy="397.6" r="1.333"/><circle cx="1027.8" cy="421.8" r="1.333"/><circle cx="957.4" cy="421.0" r="1.333"/><circle cx="1022.8" cy="453.9" r="1.333"/><circle cx="967.9" cy="408.5" r="1.333"/><circle cx="1013.2" cy="391.4" r="1.333"/><circle cx="1033.4" cy="447.6" r="1.333"/><circle cx="1014.6" cy="436.4" r="1.333"/><circle cx="970.1" cy="438.5" r="1.333"/><circle cx="1034.4" cy="422.4" r="1.333"/><circle cx="1053.9" cy="427.5" r="1.333"/><circle cx="1002.3" cy="430.6" r="1.333"/><circle cx="1023.9" cy="415.0" r="1.333"/><circle cx="952.9" cy="464.5" r="1.333"/><circle cx="1023.5" cy="458.0" r="1.333"/><circle cx="992.0" cy="452.6" r="1.333"/><circle cx="1052.7" cy="445.6" r="1.333"/><circle cx="1009.6" cy="379.5" r="1.333"/><circle cx="924.7" cy="435.4" r="1.333"/><circle cx="1051.1" cy="441.6" r="1.333"/><circle cx="1042.2" cy="410.9" r="1.333"/><circle cx="1017.5" cy="445.4" r="1.333"/><circle cx="1016.8" cy="458.9" r="1.333"/><circle cx="1039.2" cy="450.3" r="1.333"/><circle cx="1007.3" cy="428.5" r="1.333"/><circle cx="930.5" cy="450.0" r="1.333"/><circle cx="1051.2" cy="408.4" r="1.333"/><circle cx="1051.3" cy="444.3" r="1.333"/><circle cx="1026.4" cy="458.9" r="1.333"/><circle cx="1049.4" cy="450.9" r="1.333"/><circle cx="930.0" cy="443.5" r="1.333"/><circle cx="923.1" cy="453.7" r="1.333"/><circle cx="958.4" cy="422.5" r="1.333"/><circle cx="1033.8" cy="462.3" r="1.333"/><circle cx="889.0" cy="450.9" r="1.333"/><circle cx="1004.8" cy="436.9" r="1.333"/><circle cx="990.6" cy="383.8" r="1.333"/><circle cx="887.4" cy="453.8" r="1.333"/><circle cx="1038.4" cy="415.6" r="1.333"/><circle cx="1030.6" cy="437.5" r="1.333"/><circle cx="1025.4" cy="446.8" r="1.333"/><circle cx="925.5" cy="457.5" r="1.333"/><circle cx="935.0" cy="453.3" r="1.333"/><circle cx="995.3" cy="453.0" r="1.333"/><circle cx="1035.2" cy="420.4" r="1.333"/><circle cx="1031.0" cy="462.1" r="1.333"/><circle cx="803.6" cy="796.6" r="1.333"/><circle cx="697.8" cy="857.0" r="1.333"/><circle cx="718.5" cy="792.2" r="1.333"/><circle cx="766.2" cy="824.6" r="1.333"/><circle cx="725.5" cy="797.1" r="1.333"/><circle cx="701.3" cy="820.1" r="1.333"/><circle cx="723.2" cy="818.7" r="1.333"/><circle cx="713.5" cy="786.2" r="1.333"/><circle cx="710.3" cy="819.5" r="1.333"/><circle cx="793.2" cy="856.9" r="1.333"/><circle cx="813.2" cy="852.0" r="1.333"/><circle cx="703.9" cy="838.9" r="1.333"/><circle cx="788.1" cy="785.1" r="1.333"/><circle cx="860.5" cy="830.4" r="1.333"/><circle cx="714.2" cy="785.8" r="1.333"/><circle cx="708.4" cy="817.7" r="1.333"/><circle cx="767.4" cy="873.5" r="1.333"/><circle cx="816.5" cy="836.6" r="1.333"/><circle cx="720.8" cy="842.1" r="1.333"/><circle cx="709.8" cy="831.2" r="1.333"/><circle cx="852.5" cy="834.8" r="1.333"/><circle cx="827.0" cy="876.5" r="1.333"/><circle cx="853.9" cy="794.3" r="1.333"/><circle cx="737.0" cy="849.1" r="1.333"/><circle cx="704.1" cy="839.5" r="1.333"/><circle cx="710.4" cy="845.6" r="1.333"/><circle cx="753.6" cy="799.1" r="1.333"/><circle cx="840.3" cy="839.0" r="1.333"/><circle cx="821.9" cy="795.3" r="1.333"/><circle cx="725.1" cy="791.2" r="1.333"/><circle cx="806.0" cy="837.9" r="1.333"/><circle cx="869.9" cy="797.2" r="1.333"/><circle cx="877.6" cy="800.3" r="1.333"/><circle cx="773.0" cy="795.8" r="1.333"/><circle cx="705.6" cy="791.8" r="1.333"/><circle cx="850.9" cy="811.8" r="1.333"/><circle cx="770.6" cy="802.1" r="1.333"/><circle cx="725.0" cy="783.4" r="1.333"/><circle cx="726.8" cy="810.9" r="1.333"/><circle cx="713.0" cy="847.4" r="1.333"/><circle cx="838.0" cy="825.6" r="1.333"/><circle cx="702.9" cy="802.0" r="1.333"/><circle cx="808.3" cy="831.2" r="1.333"/><circle cx="703.8" cy="809.2" r="1.333"/><circle cx="761.9" cy="800.0" r="1.333"/><circle cx="705.6" cy="843.7" r="1.333"/><circle cx="779.1" cy="781.9" r="1.333"/><circle cx="738.1" cy="806.2" r="1.333"/><circle cx="855.4" cy="807.1" r="1.333"/><circle cx="844.9" cy="792.1" r="1.333"/><circle cx="795.5" cy="800.1" r="1.333"/><circle cx="744.9" cy="844.0" r="1.333"/><circle cx="716.4" cy="808.5" r="1.333"/><circle cx="754.3" cy="801.9" r="1.333"/><circle cx="836.5" cy="821.3" r="1.333"/><circle cx="849.8" cy="793.1" r="1.333"/><circle cx="776.8" cy="830.4" r="1.333"/><circle cx="722.4" cy="799.9" r="1.333"/><circle cx="776.0" cy="866.2" r="1.333"/><circle cx="742.3" cy="874.7" r="1.333"/><circle cx="773.9" cy="827.8" r="1.333"/><circle cx="749.2" cy="793.0" r="1.333"/><circle cx="714.1" cy="809.2" r="1.333"/><circle cx="752.8" cy="781.2" r="1.333"/><circle cx="715.6" cy="783.7" r="1.333"/><circle cx="823.0" cy="866.4" r="1.333"/><circle cx="820.9" cy="871.0" r="1.333"/><circle cx="843.3" cy="780.1" r="1.333"/><circle cx="715.4" cy="806.8" r="1.333"/><circle cx="706.6" cy="841.4" r="1.333"/><circle cx="721.5" cy="859.4" r="1.333"/><circle cx="807.2" cy="819.6" r="1.333"/><circle cx="725.3" cy="787.1" r="1.333"/><circle cx="702.9" cy="852.1" r="1.333"/><circle cx="723.6" cy="823.5" r="1.333"/><circle cx="806.4" cy="791.7" r="1.333"/><circle cx="753.2" cy="848.6" r="1.333"/><circle cx="718.5" cy="840.7" r="1.333"/><circle cx="715.0" cy="801.1" r="1.333"/><circle cx="792.8" cy="784.8" r="1.333"/><circle cx="751.1" cy="862.1" r="1.333"/><circle cx="712.2" cy="799.3" r="1.333"/><circle cx="854.8" cy="801.8" r="1.333"/><circle cx="782.7" cy="864.1" r="1.333"/><circle cx="785.6" cy="785.9" r="1.333"/><circle cx="707.0" cy="851.4" r="1.333"/><circle cx="791.4" cy="798.3" r="1.333"/><circle cx="715.7" cy="866.7" r="1.333"/><circle cx="700.7" cy="872.5" r="1.333"/><circle cx="754.6" cy="795.6" r="1.333"/><circle cx="707.4" cy="874.9" r="1.333"/><circle cx="714.8" cy="833.1" r="1.333"/><circle cx="803.6" cy="844.3" r="1.333"/><circle cx="786.4" cy="837.6" r="1.333"/><circle cx="869.2" cy="827.6" r="1.333"/><circle cx="772.5" cy="873.6" r="1.333"/><circle cx="710.6" cy="778.1" r="1.333"/><circle cx="860.7" cy="780.3" r="1.333"/><circle cx="733.8" cy="787.0" r="1.333"/><circle cx="798.1" cy="839.7" r="1.333"/><circle cx="717.0" cy="840.6" r="1.333"/><circle cx="871.2" cy="808.8" r="1.333"/><circle cx="729.4" cy="877.9" r="1.333"/><circle cx="773.2" cy="832.7" r="1.333"/><circle cx="709.9" cy="834.2" r="1.333"/><circle cx="720.4" cy="832.2" r="1.333"/><circle cx="735.7" cy="787.0" r="1.333"/><circle cx="774.2" cy="815.6" r="1.333"/><circle cx="699.3" cy="810.7" r="1.333"/><circle cx="782.1" cy="788.5" r="1.333"/><circle cx="803.0" cy="825.3" r="1.333"/><circle cx="816.5" cy="855.7" r="1.333"/><circle cx="699.5" cy="857.5" r="1.333"/><circle cx="768.3" cy="876.6" r="1.333"/><circle cx="723.3" cy="802.2" r="1.333"/><circle cx="731.9" cy="795.0" r="1.333"/><circle cx="764.2" cy="880.2" r="1.333"/><circle cx="823.5" cy="855.5" r="1.333"/><circle cx="825.3" cy="807.2" r="1.333"/><circle cx="700.6" cy="789.4" r="1.333"/><circle cx="776.2" cy="790.2" r="1.333"/><circle cx="811.4" cy="823.8" r="1.333"/><circle cx="774.6" cy="816.3" r="1.333"/><circle cx="846.5" cy="828.7" r="1.333"/><circle cx="752.5" cy="786.1" r="1.333"/><circle cx="960.2" cy="475.2" r="1.333"/><circle cx="705.3" cy="657.0" r="1.333"/><circle cx="518.1" cy="766.1" r="1.333"/><circle cx="690.8" cy="692.5" r="1.333"/><circle cx="678.9" cy="720.6" r="1.333"/><circle cx="613.6" cy="774.4" r="1.333"/><circle cx="441.8" cy="814.2" r="1.333"/><circle cx="821.2" cy="618.6" r="1.333"/><circle cx="425.6" cy="822.1" r="1.333"/><circle cx="790.6" cy="635.3" r="1.333"/><circle cx="706.7" cy="712.7" r="1.333"/><circle cx="878.3" cy="550.8" r="1.333"/><circle cx="831.7" cy="704.4" r="1.333"/><circle cx="624.7" cy="746.7" r="1.333"/><circle cx="1052.0" cy="481.2" r="1.333"/><circle cx="911.4" cy="520.7" r="1.333"/><circle cx="695.7" cy="875.5" r="1.333"/><circle cx="795.5" cy="678.7" r="1.333"/><circle cx="584.2" cy="794.2" r="1.333"/><circle cx="738.4" cy="649.4" r="1.333"/><circle cx="1014.8" cy="483.7" r="1.333"/><circle cx="713.5" cy="657.9" r="1.333"/><circle cx="623.9" cy="773.5" r="1.333"/><circle cx="645.1" cy="711.1" r="1.333"/><circle cx="673.8" cy="827.3" r="1.333"/><circle cx="703.4" cy="705.4" r="1.333"/><circle cx="800.8" cy="684.6" r="1.333"/><circle cx="528.8" cy="806.4" r="1.333"/><circle cx="492.4" cy="787.0" r="1.333"/><circle cx="798.1" cy="589.2" r="1.333"/><circle cx="767.4" cy="636.4" r="1.333"/><circle cx="778.8" cy="596.2" r="1.333"/><circle cx="730.6" cy="625.2" r="1.333"/><circle cx="810.2" cy="640.1" r="1.333"/><circle cx="568.0" cy="786.3" r="1.333"/><circle cx="946.5" cy="508.4" r="1.333"/><circle cx="538.7" cy="808.2" r="1.333"/><circle cx="695.6" cy="759.5" r="1.333"/><circle cx="591.6" cy="744.0" r="1.333"/><circle cx="621.5" cy="675.8" r="1.333"/><circle cx="473.3" cy="846.8" r="1.333"/><circle cx="985.7" cy="479.3" r="1.333"/><circle cx="624.2" cy="717.7" r="1.333"/><circle cx="601.8" cy="733.6" r="1.333"/><circle cx="605.1" cy="723.9" r="1.333"/><circle cx="925.3" cy="520.9" r="1.333"/><circle cx="723.6" cy="696.2" r="1.333"/><circle cx="1009.4" cy="493.8" r="1.333"/><circle cx="944.0" cy="471.5" r="1.333"/><circle cx="971.2" cy="508.9" r="1.333"/><circle cx="872.6" cy="628.9" r="1.333"/><circle cx="529.2" cy="874.2" r="1.333"/><circle cx="702.9" cy="745.4" r="1.333"/><circle cx="673.5" cy="701.7" r="1.333"/><circle cx="681.7" cy="783.2" r="1.333"/><circle cx="517.1" cy="787.2" r="1.333"/><circle cx="710.6" cy="723.1" r="1.333"/><circle cx="584.5" cy="765.1" r="1.333"/><circle cx="636.2" cy="740.7" r="1.333"/><circle cx="677.1" cy="718.6" r="1.333"/><circle cx="822.1" cy="661.4" r="1.333"/><circle cx="541.3" cy="717.9" r="1.333"/><circle cx="378.9" cy="862.4" r="1.333"/><circle cx="717.4" cy="635.6" r="1.333"/><circle cx="730.1" cy="727.5" r="1.333"/><circle cx="568.9" cy="798.5" r="1.333"/><circle cx="389.1" cy="840.7" r="1.333"/><circle cx="818.9" cy="596.9" r="1.333"/><circle cx="712.4" cy="750.7" r="1.333"/><circle cx="732.0" cy="679.1" r="1.333"/><circle cx="603.0" cy="842.7" r="1.333"/><circle cx="816.6" cy="629.8" r="1.333"/><circle cx="540.4" cy="775.8" r="1.333"/><circle cx="677.4" cy="810.5" r="1.333"/><circle cx="382.5" cy="862.0" r="1.333"/><circle cx="555.2" cy="774.3" r="1.333"/><circle cx="875.4" cy="575.5" r="1.333"/><circle cx="626.4" cy="732.5" r="1.333"/><circle cx="941.6" cy="526.6" r="1.333"/><circle cx="710.6" cy="573.1" r="1.333"/><circle cx="588.6" cy="760.0" r="1.333"/><circle cx="979.5" cy="515.6" r="1.333"/><circle cx="642.2" cy="730.8" r="1.333"/><circle cx="729.2" cy="689.5" r="1.333"/><circle cx="557.8" cy="765.8" r="1.333"/><circle cx="526.6" cy="828.6" r="1.333"/><circle cx="793.3" cy="615.7" r="1.333"/><circle cx="678.7" cy="729.4" r="1.333"/><circle cx="677.7" cy="692.7" r="1.333"/><circle cx="840.3" cy="626.8" r="1.333"/><circle cx="592.9" cy="815.3" r="1.333"/><circle cx="745.6" cy="648.4" r="1.333"/><circle cx="369.7" cy="851.4" r="1.333"/><circle cx="446.0" cy="830.6" r="1.333"/><circle cx="809.3" cy="610.8" r="1.333"/><circle cx="538.7" cy="801.9" r="1.333"/><circle cx="451.3" cy="835.0" r="1.333"/><circle cx="419.6" cy="830.9" r="1.333"/><circle cx="611.2" cy="749.9" r="1.333"/><circle cx="546.8" cy="781.7" r="1.333"/><circle cx="618.9" cy="770.8" r="1.333"/><circle cx="701.8" cy="625.0" r="1.333"/><circle cx="716.6" cy="667.2" r="1.333"/><circle cx="626.2" cy="713.4" r="1.333"/><circle cx="891.4" cy="535.8" r="1.333"/><circle cx="741.7" cy="611.7" r="1.333"/><circle cx="999.8" cy="483.2" r="1.333"/><circle cx="518.8" cy="799.8" r="1.333"/><circle cx="762.7" cy="654.0" r="1.333"/><circle cx="897.0" cy="556.2" r="1.333"/><circle cx="705.9" cy="605.0" r="1.333"/><circle cx="609.0" cy="752.1" r="1.333"/><circle cx="543.0" cy="708.5" r="1.333"/><circle cx="675.1" cy="713.1" r="1.333"/><circle cx="630.3" cy="755.5" r="1.333"/><circle cx="805.2" cy="608.6" r="1.333"/><circle cx="743.0" cy="643.0" r="1.333"/><circle cx="561.1" cy="787.4" r="1.333"/><circle cx="661.5" cy="817.2" r="1.333"/><circle cx="421.5" cy="866.2" r="1.333"/><circle cx="475.9" cy="855.2" r="1.333"/><circle cx="1003.8" cy="469.6" r="1.333"/><circle cx="451.7" cy="821.0" r="1.333"/><circle cx="601.6" cy="700.7" r="1.333"/><circle cx="553.8" cy="789.6" r="1.333"/><circle cx="911.6" cy="527.3" r="1.333"/><circle cx="420.0" cy="848.9" r="1.333"/><circle cx="685.4" cy="764.2" r="1.333"/><circle cx="533.5" cy="857.0" r="1.333"/><circle cx="580.5" cy="772.6" r="1.333"/><circle cx="416.7" cy="854.2" r="1.333"/><circle cx="466.0" cy="799.2" r="1.333"/><circle cx="762.3" cy="751.5" r="1.333"/><circle cx="715.6" cy="698.1" r="1.333"/><circle cx="599.6" cy="696.2" r="1.333"/><circle cx="535.8" cy="878.2" r="1.333"/><circle cx="661.1" cy="732.8" r="1.333"/><circle cx="574.9" cy="742.7" r="1.333"/><circle cx="770.4" cy="654.1" r="1.333"/><circle cx="412.7" cy="838.2" r="1.333"/><circle cx="557.3" cy="758.5" r="1.333"/><circle cx="419.3" cy="847.0" r="1.333"/><circle cx="793.4" cy="676.0" r="1.333"/><circle cx="606.9" cy="794.1" r="1.333"/><circle cx="695.5" cy="780.9" r="1.333"/><circle cx="600.9" cy="815.0" r="1.333"/><circle cx="612.1" cy="734.4" r="1.333"/><circle cx="849.1" cy="616.2" r="1.333"/><circle cx="861.8" cy="658.6" r="1.333"/><circle cx="658.1" cy="763.8" r="1.333"/><circle cx="787.4" cy="593.0" r="1.333"/><circle cx="612.3" cy="783.6" r="1.333"/><circle cx="586.9" cy="726.2" r="1.333"/><circle cx="556.0" cy="830.4" r="1.333"/><circle cx="568.3" cy="692.9" r="1.333"/><circle cx="620.0" cy="763.4" r="1.333"/><circle cx="432.0" cy="827.1" r="1.333"/><circle cx="587.9" cy="749.4" r="1.333"/><circle cx="453.5" cy="879.6" r="1.333"/><circle cx="625.0" cy="740.0" r="1.333"/><circle cx="534.9" cy="843.6" r="1.333"/><circle cx="610.3" cy="766.6" r="1.333"/><circle cx="726.1" cy="757.6" r="1.333"/><circle cx="457.7" cy="869.1" r="1.333"/><circle cx="665.5" cy="777.2" r="1.333"/><circle cx="377.9" cy="867.5" r="1.333"/><circle cx="468.9" cy="846.8" r="1.333"/><circle cx="559.3" cy="826.8" r="1.333"/><circle cx="754.4" cy="723.1" r="1.333"/><circle cx="592.5" cy="739.2" r="1.333"/><circle cx="699.7" cy="748.2" r="1.333"/><circle cx="581.1" cy="804.5" r="1.333"/><circle cx="821.3" cy="592.8" r="1.333"/><circle cx="635.0" cy="708.5" r="1.333"/><circle cx="637.0" cy="774.1" r="1.333"/><circle cx="842.5" cy="617.6" r="1.333"/><circle cx="747.0" cy="620.5" r="1.333"/><circle cx="513.0" cy="810.6" r="1.333"/><circle cx="843.2" cy="640.6" r="1.333"/><circle cx="846.6" cy="721.0" r="1.333"/><circle cx="669.5" cy="806.5" r="1.333"/><circle cx="562.5" cy="759.6" r="1.333"/><circle cx="398.7" cy="839.8" r="1.333"/><circle cx="1022.0" cy="470.0" r="1.333"/><circle cx="675.2" cy="683.2" r="1.333"/><circle cx="694.4" cy="850.4" r="1.333"/><circle cx="466.1" cy="874.5" r="1.333"/><circle cx="649.0" cy="705.5" r="1.333"/><circle cx="391.6" cy="878.0" r="1.333"/><circle cx="815.6" cy="768.3" r="1.333"/><circle cx="476.0" cy="848.0" r="1.333"/><circle cx="628.5" cy="738.8" r="1.333"/><circle cx="902.2" cy="558.3" r="1.333"/><circle cx="435.9" cy="851.9" r="1.333"/><circle cx="753.0" cy="623.7" r="1.333"/><circle cx="649.6" cy="743.4" r="1.333"/><circle cx="527.3" cy="742.3" r="1.333"/><circle cx="615.7" cy="721.5" r="1.333"/><circle cx="758.2" cy="692.1" r="1.333"/><circle cx="637.2" cy="706.7" r="1.333"/><circle cx="816.5" cy="617.7" r="1.333"/><circle cx="837.8" cy="599.5" r="1.333"/><circle cx="711.4" cy="679.2" r="1.333"/><circle cx="773.3" cy="669.3" r="1.333"/><circle cx="461.3" cy="869.4" r="1.333"/><circle cx="802.9" cy="608.6" r="1.333"/><circle cx="854.2" cy="654.1" r="1.333"/><circle cx="686.0" cy="677.4" r="1.333"/><circle cx="543.5" cy="756.7" r="1.333"/><circle cx="528.9" cy="790.0" r="1.333"/><circle cx="804.9" cy="594.8" r="1.333"/><circle cx="624.4" cy="732.1" r="1.333"/><circle cx="715.1" cy="669.3" r="1.333"/><circle cx="531.1" cy="791.9" r="1.333"/><circle cx="872.6" cy="577.9" r="1.333"/><circle cx="556.5" cy="795.5" r="1.333"/><circle cx="503.8" cy="779.8" r="1.333"/><circle cx="561.3" cy="843.6" r="1.333"/><circle cx="639.6" cy="722.4" r="1.333"/><circle cx="739.3" cy="610.6" r="1.333"/><circle cx="540.2" cy="763.2" r="1.333"/><circle cx="937.4" cy="512.6" r="1.333"/><circle cx="996.4" cy="482.4" r="1.333"/><circle cx="915.6" cy="526.4" r="1.333"/><circle cx="594.8" cy="788.1" r="1.333"/><circle cx="950.2" cy="510.9" r="1.333"/><circle cx="659.8" cy="735.6" r="1.333"/><circle cx="735.2" cy="637.8" r="1.333"/><circle cx="604.5" cy="761.4" r="1.333"/><circle cx="507.6" cy="822.3" r="1.333"/><circle cx="728.9" cy="609.4" r="1.333"/><circle cx="758.8" cy="627.5" r="1.333"/><circle cx="655.2" cy="691.7" r="1.333"/><circle cx="651.5" cy="697.1" r="1.333"/><circle cx="787.3" cy="633.2" r="1.333"/><circle cx="597.8" cy="765.5" r="1.333"/><circle cx="785.4" cy="629.0" r="1.333"/><circle cx="660.4" cy="818.2" r="1.333"/><circle cx="438.1" cy="832.8" r="1.333"/><circle cx="487.0" cy="874.4" r="1.333"/><circle cx="750.7" cy="593.2" r="1.333"/><circle cx="474.2" cy="793.8" r="1.333"/><circle cx="525.7" cy="790.2" r="1.333"/><circle cx="522.6" cy="811.7" r="1.333"/><circle cx="490.5" cy="801.4" r="1.333"/><circle cx="528.8" cy="775.8" r="1.333"/><circle cx="629.1" cy="771.0" r="1.333"/><circle cx="855.8" cy="588.7" r="1.333"/><circle cx="740.2" cy="610.4" r="1.333"/><circle cx="787.4" cy="656.7" r="1.333"/><circle cx="695.6" cy="692.8" r="1.333"/><circle cx="880.7" cy="544.5" r="1.333"/><circle cx="899.6" cy="466.6" r="1.333"/><circle cx="512.0" cy="838.8" r="1.333"/><circle cx="692.5" cy="701.2" r="1.333"/><circle cx="855.4" cy="582.4" r="1.333"/><circle cx="719.4" cy="671.4" r="1.333"/><circle cx="698.5" cy="661.2" r="1.333"/><circle cx="581.5" cy="739.1" r="1.333"/><circle cx="1057.7" cy="466.3" r="1.333"/><circle cx="800.9" cy="604.3" r="1.333"/><circle cx="354.9" cy="874.1" r="1.333"/><circle cx="805.6" cy="591.7" r="1.333"/><circle cx="532.2" cy="764.4" r="1.333"/><circle cx="597.1" cy="778.0" r="1.333"/><circle cx="394.9" cy="877.0" r="1.333"/><circle cx="562.1" cy="865.8" r="1.333"/><circle cx="759.7" cy="667.2" r="1.333"/><circle cx="777.8" cy="603.7" r="1.333"/><circle cx="920.4" cy="525.2" r="1.333"/><circle cx="578.5" cy="739.1" r="1.333"/><circle cx="967.8" cy="487.9" r="1.333"/><circle cx="916.6" cy="537.5" r="1.333"/><circle cx="610.2" cy="728.0" r="1.333"/><circle cx="721.7" cy="644.8" r="1.333"/><circle cx="572.4" cy="763.3" r="1.333"/><circle cx="819.8" cy="584.8" r="1.333"/><circle cx="747.2" cy="609.0" r="1.333"/><circle cx="953.1" cy="493.4" r="1.333"/><circle cx="922.8" cy="479.5" r="1.333"/><circle cx="692.7" cy="749.5" r="1.333"/><circle cx="660.7" cy="744.7" r="1.333"/><circle cx="450.3" cy="829.8" r="1.333"/><circle cx="773.4" cy="628.1" r="1.333"/><circle cx="623.0" cy="761.0" r="1.333"/><circle cx="832.9" cy="587.4" r="1.333"/><circle cx="368.5" cy="846.4" r="1.333"/><circle cx="922.9" cy="537.4" r="1.333"/><circle cx="796.5" cy="616.0" r="1.333"/><circle cx="626.8" cy="823.5" r="1.333"/><circle cx="741.9" cy="609.7" r="1.333"/><circle cx="1006.7" cy="479.4" r="1.333"/><circle cx="773.9" cy="679.4" r="1.333"/><circle cx="931.3" cy="528.7" r="1.333"/><circle cx="507.9" cy="814.1" r="1.333"/><circle cx="685.2" cy="704.8" r="1.333"/><circle cx="719.8" cy="655.4" r="1.333"/><circle cx="780.3" cy="632.8" r="1.333"/><circle cx="749.1" cy="646.8" r="1.333"/><circle cx="651.1" cy="778.3" r="1.333"/><circle cx="642.9" cy="690.2" r="1.333"/><circle cx="813.3" cy="626.1" r="1.333"/><circle cx="781.6" cy="776.2" r="1.333"/><circle cx="760.8" cy="590.3" r="1.333"/><circle cx="866.2" cy="576.7" r="1.333"/><circle cx="927.1" cy="534.7" r="1.333"/><circle cx="776.7" cy="649.9" r="1.333"/><circle cx="652.9" cy="704.4" r="1.333"/><circle cx="704.9" cy="661.3" r="1.333"/><circle cx="666.7" cy="818.2" r="1.333"/><circle cx="760.4" cy="626.3" r="1.333"/><circle cx="1019.7" cy="468.1" r="1.333"/><circle cx="576.5" cy="713.7" r="1.333"/><circle cx="711.0" cy="730.1" r="1.333"/><circle cx="974.2" cy="505.7" r="1.333"/><circle cx="653.8" cy="832.9" r="1.333"/><circle cx="489.2" cy="792.7" r="1.333"/><circle cx="612.5" cy="736.4" r="1.333"/><circle cx="768.0" cy="668.0" r="1.333"/><circle cx="664.2" cy="742.3" r="1.333"/><circle cx="654.8" cy="737.6" r="1.333"/><circle cx="791.5" cy="661.2" r="1.333"/><circle cx="790.5" cy="624.9" r="1.333"/><circle cx="718.7" cy="654.6" r="1.333"/><circle cx="530.5" cy="814.5" r="1.333"/><circle cx="713.4" cy="679.8" r="1.333"/><circle cx="587.4" cy="782.4" r="1.333"/><circle cx="492.0" cy="799.1" r="1.333"/><circle cx="835.4" cy="614.0" r="1.333"/><circle cx="458.8" cy="826.4" r="1.333"/><circle cx="845.5" cy="653.0" r="1.333"/><circle cx="689.0" cy="755.2" r="1.333"/><circle cx="580.1" cy="844.0" r="1.333"/><circle cx="724.2" cy="692.9" r="1.333"/><circle cx="846.5" cy="660.1" r="1.333"/><circle cx="957.0" cy="515.1" r="1.333"/><circle cx="732.5" cy="660.3" r="1.333"/><circle cx="576.4" cy="796.0" r="1.333"/><circle cx="474.9" cy="804.6" r="1.333"/><circle cx="522.5" cy="818.1" r="1.333"/><circle cx="787.9" cy="583.1" r="1.333"/><circle cx="582.2" cy="804.2" r="1.333"/><circle cx="735.3" cy="679.2" r="1.333"/><circle cx="1034.9" cy="468.7" r="1.333"/><circle cx="1015.4" cy="497.8" r="1.333"/><circle cx="670.1" cy="713.0" r="1.333"/><circle cx="561.9" cy="872.6" r="1.333"/><circle cx="501.8" cy="848.9" r="1.333"/><circle cx="481.9" cy="791.4" r="1.333"/><circle cx="588.5" cy="689.6" r="1.333"/><circle cx="563.6" cy="857.4" r="1.333"/><circle cx="648.0" cy="745.9" r="1.333"/><circle cx="655.6" cy="743.2" r="1.333"/><circle cx="812.8" cy="685.5" r="1.333"/><circle cx="470.5" cy="865.6" r="1.333"/><circle cx="660.7" cy="804.5" r="1.333"/><circle cx="581.9" cy="729.2" r="1.333"/><circle cx="385.8" cy="852.7" r="1.333"/><circle cx="650.6" cy="702.2" r="1.333"/><circle cx="589.4" cy="810.3" r="1.333"/><circle cx="629.5" cy="748.6" r="1.333"/><circle cx="456.5" cy="864.8" r="1.333"/><circle cx="857.9" cy="625.6" r="1.333"/><circle cx="650.3" cy="760.4" r="1.333"/><circle cx="678.8" cy="676.1" r="1.333"/><circle cx="628.0" cy="779.1" r="1.333"/><circle cx="672.4" cy="779.7" r="1.333"/><circle cx="600.1" cy="856.0" r="1.333"/><circle cx="703.1" cy="770.1" r="1.333"/><circle cx="578.8" cy="783.4" r="1.333"/><circle cx="640.2" cy="701.4" r="1.333"/><circle cx="1012.0" cy="508.5" r="1.333"/><circle cx="778.9" cy="680.0" r="1.333"/><circle cx="445.0" cy="816.8" r="1.333"/><circle cx="798.1" cy="701.4" r="1.333"/><circle cx="581.2" cy="795.5" r="1.333"/><circle cx="778.9" cy="777.1" r="1.333"/><circle cx="438.0" cy="791.6" r="1.333"/><circle cx="704.3" cy="584.8" r="1.333"/><circle cx="581.0" cy="680.8" r="1.333"/><circle cx="692.5" cy="729.0" r="1.333"/><circle cx="466.8" cy="793.5" r="1.333"/><circle cx="555.2" cy="725.3" r="1.333"/><circle cx="478.1" cy="850.0" r="1.333"/><circle cx="904.0" cy="523.2" r="1.333"/><circle cx="800.3" cy="698.0" r="1.333"/><circle cx="818.6" cy="586.0" r="1.333"/><circle cx="765.0" cy="767.3" r="1.333"/><circle cx="699.8" cy="627.4" r="1.333"/><circle cx="899.4" cy="523.3" r="1.333"/><circle cx="466.9" cy="805.6" r="1.333"/><circle cx="452.0" cy="857.8" r="1.333"/><circle cx="550.1" cy="801.7" r="1.333"/><circle cx="499.7" cy="862.5" r="1.333"/><circle cx="600.5" cy="736.3" r="1.333"/><circle cx="811.0" cy="642.4" r="1.333"/><circle cx="450.4" cy="815.6" r="1.333"/><circle cx="597.2" cy="759.2" r="1.333"/><circle cx="519.8" cy="782.1" r="1.333"/><circle cx="675.9" cy="677.3" r="1.333"/><circle cx="613.4" cy="845.0" r="1.333"/><circle cx="592.0" cy="769.3" r="1.333"/><circle cx="600.2" cy="808.8" r="1.333"/><circle cx="794.0" cy="749.5" r="1.333"/><circle cx="618.0" cy="708.3" r="1.333"/><circle cx="719.5" cy="681.8" r="1.333"/><circle cx="623.9" cy="683.7" r="1.333"/><circle cx="410.9" cy="843.0" r="1.333"/><circle cx="920.2" cy="499.0" r="1.333"/><circle cx="733.6" cy="643.5" r="1.333"/><circle cx="779.8" cy="668.8" r="1.333"/><circle cx="617.4" cy="743.5" r="1.333"/><circle cx="484.0" cy="784.3" r="1.333"/><circle cx="699.4" cy="670.9" r="1.333"/><circle cx="814.6" cy="620.9" r="1.333"/><circle cx="627.9" cy="738.4" r="1.333"/><circle cx="571.8" cy="777.3" r="1.333"/><circle cx="528.9" cy="789.2" r="1.333"/><circle cx="550.2" cy="806.0" r="1.333"/><circle cx="634.6" cy="710.0" r="1.333"/><circle cx="882.3" cy="557.4" r="1.333"/><circle cx="623.4" cy="717.6" r="1.333"/><circle cx="780.4" cy="663.6" r="1.333"/><circle cx="545.0" cy="792.2" r="1.333"/><circle cx="661.7" cy="780.6" r="1.333"/><circle cx="462.7" cy="824.8" r="1.333"/><circle cx="501.2" cy="780.6" r="1.333"/><circle cx="685.3" cy="754.8" r="1.333"/><circle cx="506.5" cy="811.4" r="1.333"/><circle cx="395.9" cy="847.8" r="1.333"/><circle cx="702.4" cy="731.5" r="1.333"/><circle cx="606.8" cy="773.7" r="1.333"/><circle cx="486.7" cy="838.8" r="1.333"/><circle cx="504.7" cy="781.5" r="1.333"/><circle cx="420.4" cy="833.7" r="1.333"/><circle cx="630.3" cy="765.1" r="1.333"/><circle cx="470.7" cy="838.9" r="1.333"/><circle cx="798.7" cy="581.4" r="1.333"/><circle cx="482.2" cy="791.5" r="1.333"/><circle cx="826.8" cy="640.3" r="1.333"/><circle cx="710.1" cy="661.6" r="1.333"/><circle cx="966.0" cy="507.6" r="1.333"/><circle cx="787.2" cy="619.5" r="1.333"/><circle cx="616.6" cy="813.4" r="1.333"/><circle cx="740.3" cy="609.4" r="1.333"/><circle cx="485.2" cy="818.1" r="1.333"/><circle cx="513.3" cy="836.1" r="1.333"/><circle cx="615.0" cy="722.9" r="1.333"/><circle cx="498.8" cy="817.9" r="1.333"/><circle cx="581.7" cy="754.7" r="1.333"/><circle cx="711.3" cy="768.6" r="1.333"/><circle cx="582.9" cy="801.6" r="1.333"/><circle cx="528.3" cy="799.7" r="1.333"/><circle cx="421.9" cy="870.3" r="1.333"/><circle cx="563.9" cy="735.1" r="1.333"/><circle cx="687.8" cy="678.8" r="1.333"/><circle cx="355.7" cy="866.8" r="1.333"/><circle cx="620.2" cy="747.7" r="1.333"/><circle cx="730.7" cy="737.9" r="1.333"/><circle cx="538.0" cy="843.3" r="1.333"/><circle cx="709.0" cy="775.6" r="1.333"/><circle cx="671.6" cy="729.2" r="1.333"/><circle cx="735.5" cy="582.3" r="1.333"/><circle cx="505.0" cy="804.1" r="1.333"/><circle cx="685.6" cy="703.5" r="1.333"/><circle cx="610.7" cy="722.7" r="1.333"/><circle cx="370.9" cy="855.8" r="1.333"/><circle cx="769.8" cy="654.5" r="1.333"/><circle cx="501.8" cy="777.4" r="1.333"/><circle cx="725.6" cy="618.4" r="1.333"/><circle cx="595.3" cy="723.2" r="1.333"/><circle cx="656.6" cy="826.7" r="1.333"/><circle cx="789.3" cy="656.4" r="1.333"/><circle cx="648.3" cy="676.5" r="1.333"/><circle cx="602.4" cy="740.4" r="1.333"/><circle cx="559.1" cy="797.6" r="1.333"/><circle cx="511.4" cy="853.6" r="1.333"/><circle cx="802.1" cy="598.1" r="1.333"/><circle cx="458.5" cy="875.3" r="1.333"/><circle cx="549.1" cy="827.2" r="1.333"/><circle cx="515.2" cy="787.5" r="1.333"/><circle cx="638.1" cy="719.0" r="1.333"/><circle cx="464.7" cy="843.1" r="1.333"/><circle cx="385.2" cy="858.7" r="1.333"/><circle cx="631.8" cy="827.4" r="1.333"/><circle cx="680.4" cy="732.7" r="1.333"/><circle cx="773.2" cy="579.7" r="1.333"/><circle cx="456.4" cy="808.1" r="1.333"/><circle cx="428.8" cy="855.2" r="1.333"/><circle cx="433.7" cy="838.3" r="1.333"/><circle cx="815.6" cy="578.3" r="1.333"/><circle cx="714.3" cy="658.1" r="1.333"/><circle cx="579.3" cy="856.2" r="1.333"/><circle cx="538.3" cy="820.2" r="1.333"/><circle cx="640.5" cy="720.6" r="1.333"/><circle cx="340.1" cy="875.7" r="1.333"/><circle cx="685.7" cy="694.6" r="1.333"/><circle cx="487.0" cy="796.9" r="1.333"/><circle cx="363.5" cy="869.8" r="1.333"/><circle cx="769.0" cy="659.4" r="1.333"/><circle cx="723.3" cy="655.0" r="1.333"/><circle cx="442.5" cy="846.1" r="1.333"/><circle cx="362.4" cy="874.7" r="1.333"/><circle cx="712.4" cy="689.1" r="1.333"/><circle cx="519.6" cy="774.9" r="1.333"/><circle cx="527.2" cy="787.4" r="1.333"/><circle cx="779.5" cy="662.7" r="1.333"/><circle cx="709.6" cy="714.2" r="1.333"/><circle cx="347.6" cy="879.6" r="1.333"/><circle cx="622.1" cy="810.8" r="1.333"/><circle cx="523.1" cy="745.4" r="1.333"/><circle cx="622.5" cy="723.4" r="1.333"/><circle cx="573.9" cy="873.5" r="1.333"/><circle cx="543.3" cy="759.2" r="1.333"/><circle cx="633.5" cy="719.4" r="1.333"/><circle cx="682.7" cy="723.3" r="1.333"/><circle cx="560.6" cy="788.0" r="1.333"/><circle cx="542.7" cy="831.4" r="1.333"/><circle cx="466.4" cy="828.8" r="1.333"/><circle cx="522.3" cy="768.2" r="1.333"/><circle cx="667.5" cy="773.6" r="1.333"/><circle cx="484.2" cy="841.7" r="1.333"/><circle cx="447.1" cy="846.0" r="1.333"/><circle cx="929.8" cy="508.0" r="1.333"/><circle cx="719.2" cy="648.8" r="1.333"/><circle cx="393.1" cy="869.7" r="1.333"/><circle cx="641.7" cy="698.5" r="1.333"/><circle cx="517.0" cy="796.7" r="1.333"/><circle cx="509.9" cy="791.5" r="1.333"/><circle cx="556.6" cy="731.1" r="1.333"/><circle cx="498.1" cy="815.5" r="1.333"/><circle cx="734.5" cy="650.8" r="1.333"/><circle cx="642.4" cy="732.4" r="1.333"/><circle cx="808.4" cy="619.8" r="1.333"/><circle cx="577.3" cy="752.4" r="1.333"/><circle cx="546.3" cy="745.0" r="1.333"/><circle cx="707.7" cy="652.9" r="1.333"/><circle cx="737.4" cy="683.6" r="1.333"/><circle cx="547.9" cy="776.2" r="1.333"/><circle cx="589.1" cy="721.2" r="1.333"/><circle cx="414.0" cy="863.6" r="1.333"/><circle cx="471.8" cy="819.6" r="1.333"/><circle cx="495.0" cy="802.1" r="1.333"/><circle cx="741.2" cy="637.5" r="1.333"/><circle cx="404.1" cy="875.3" r="1.333"/><circle cx="432.1" cy="844.8" r="1.333"/><circle cx="495.7" cy="788.9" r="1.333"/><circle cx="461.1" cy="802.1" r="1.333"/><circle cx="370.3" cy="868.3" r="1.333"/><circle cx="640.8" cy="718.1" r="1.333"/><circle cx="759.8" cy="654.5" r="1.333"/><circle cx="392.9" cy="870.5" r="1.333"/><circle cx="655.3" cy="721.4" r="1.333"/><circle cx="427.0" cy="830.6" r="1.333"/><circle cx="486.5" cy="848.8" r="1.333"/><circle cx="772.7" cy="634.2" r="1.333"/><circle cx="553.4" cy="737.8" r="1.333"/><circle cx="530.5" cy="801.9" r="1.333"/><circle cx="513.4" cy="800.2" r="1.333"/><circle cx="481.4" cy="841.3" r="1.333"/><circle cx="461.4" cy="876.3" r="1.333"/><circle cx="678.5" cy="703.0" r="1.333"/><circle cx="494.2" cy="824.5" r="1.333"/><circle cx="589.6" cy="703.0" r="1.333"/><circle cx="591.0" cy="746.4" r="1.333"/><circle cx="822.8" cy="604.7" r="1.333"/><circle cx="590.9" cy="737.5" r="1.333"/><circle cx="741.4" cy="690.6" r="1.333"/><circle cx="714.0" cy="721.1" r="1.333"/><circle cx="703.3" cy="699.7" r="1.333"/><circle cx="496.2" cy="865.6" r="1.333"/><circle cx="646.9" cy="695.1" r="1.333"/><circle cx="883.2" cy="553.0" r="1.333"/><circle cx="475.9" cy="808.0" r="1.333"/><circle cx="589.7" cy="762.8" r="1.333"/><circle cx="446.8" cy="854.3" r="1.333"/><circle cx="612.6" cy="741.9" r="1.333"/><circle cx="533.4" cy="744.5" r="1.333"/><circle cx="512.8" cy="795.8" r="1.333"/><circle cx="761.5" cy="655.8" r="1.333"/><circle cx="527.1" cy="809.0" r="1.333"/><circle cx="656.4" cy="729.8" r="1.333"/><circle cx="502.1" cy="880.6" r="1.333"/><circle cx="548.8" cy="771.8" r="1.333"/><circle cx="770.9" cy="659.5" r="1.333"/><circle cx="497.1" cy="783.9" r="1.333"/><circle cx="613.6" cy="696.2" r="1.333"/><circle cx="492.3" cy="824.0" r="1.333"/><circle cx="673.6" cy="717.0" r="1.333"/><circle cx="671.0" cy="762.0" r="1.333"/><circle cx="657.2" cy="797.0" r="1.333"/><circle cx="839.3" cy="608.8" r="1.333"/><circle cx="620.8" cy="774.9" r="1.333"/><circle cx="635.0" cy="830.3" r="1.333"/><circle cx="424.1" cy="819.5" r="1.333"/><circle cx="633.4" cy="687.7" r="1.333"/><circle cx="814.9" cy="582.1" r="1.333"/><circle cx="600.6" cy="768.8" r="1.333"/><circle cx="866.6" cy="642.2" r="1.333"/><circle cx="742.6" cy="647.9" r="1.333"/><circle cx="598.2" cy="761.2" r="1.333"/><circle cx="818.2" cy="607.7" r="1.333"/><circle cx="636.5" cy="721.2" r="1.333"/><circle cx="778.6" cy="609.9" r="1.333"/><circle cx="607.8" cy="693.4" r="1.333"/><circle cx="640.8" cy="746.2" r="1.333"/><circle cx="937.2" cy="521.2" r="1.333"/><circle cx="721.1" cy="732.7" r="1.333"/><circle cx="821.1" cy="709.4" r="1.333"/><circle cx="506.1" cy="809.6" r="1.333"/><circle cx="536.8" cy="747.7" r="1.333"/><circle cx="809.6" cy="739.8" r="1.333"/><circle cx="860.7" cy="587.1" r="1.333"/><circle cx="914.8" cy="550.6" r="1.333"/><circle cx="530.8" cy="871.8" r="1.333"/><circle cx="912.1" cy="524.6" r="1.333"/><circle cx="578.1" cy="866.9" r="1.333"/><circle cx="600.3" cy="766.3" r="1.333"/><circle cx="791.0" cy="627.6" r="1.333"/><circle cx="747.5" cy="771.6" r="1.333"/><circle cx="601.6" cy="758.8" r="1.333"/><circle cx="578.3" cy="872.1" r="1.333"/><circle cx="706.7" cy="627.3" r="1.333"/><circle cx="806.0" cy="683.7" r="1.333"/><circle cx="753.2" cy="610.9" r="1.333"/><circle cx="377.3" cy="838.7" r="1.333"/><circle cx="707.4" cy="742.2" r="1.333"/><circle cx="597.9" cy="809.1" r="1.333"/><circle cx="439.3" cy="877.9" r="1.333"/><circle cx="458.8" cy="811.5" r="1.333"/><circle cx="738.1" cy="719.3" r="1.333"/><circle cx="549.9" cy="816.8" r="1.333"/><circle cx="474.2" cy="850.7" r="1.333"/><circle cx="916.1" cy="511.9" r="1.333"/><circle cx="784.5" cy="587.8" r="1.333"/><circle cx="470.1" cy="809.4" r="1.333"/><circle cx="704.2" cy="669.3" r="1.333"/><circle cx="623.7" cy="735.8" r="1.333"/><circle cx="453.7" cy="852.3" r="1.333"/><circle cx="515.4" cy="824.6" r="1.333"/><circle cx="728.8" cy="671.6" r="1.333"/><circle cx="786.3" cy="656.2" r="1.333"/><circle cx="571.2" cy="769.1" r="1.333"/><circle cx="479.8" cy="790.9" r="1.333"/><circle cx="816.9" cy="647.0" r="1.333"/><circle cx="554.7" cy="787.2" r="1.333"/><circle cx="497.1" cy="778.8" r="1.333"/><circle cx="387.5" cy="869.0" r="1.333"/><circle cx="424.7" cy="878.7" r="1.333"/><circle cx="575.3" cy="762.9" r="1.333"/><circle cx="677.0" cy="688.7" r="1.333"/><circle cx="449.0" cy="829.1" r="1.333"/><circle cx="415.0" cy="846.8" r="1.333"/><circle cx="838.6" cy="621.3" r="1.333"/><circle cx="443.1" cy="852.6" r="1.333"/><circle cx="706.2" cy="706.5" r="1.333"/><circle cx="383.0" cy="868.2" r="1.333"/><circle cx="576.7" cy="787.7" r="1.333"/><circle cx="447.5" cy="871.2" r="1.333"/><circle cx="799.3" cy="625.4" r="1.333"/><circle cx="582.1" cy="782.9" r="1.333"/><circle cx="599.0" cy="756.6" r="1.333"/><circle cx="520.9" cy="834.7" r="1.333"/><circle cx="635.3" cy="763.5" r="1.333"/><circle cx="512.6" cy="836.1" r="1.333"/><circle cx="517.7" cy="744.2" r="1.333"/><circle cx="620.0" cy="741.7" r="1.333"/><circle cx="820.1" cy="616.3" r="1.333"/><circle cx="516.7" cy="798.7" r="1.333"/><circle cx="471.7" cy="849.4" r="1.333"/><circle cx="820.0" cy="641.3" r="1.333"/><circle cx="744.2" cy="771.0" r="1.333"/><circle cx="740.7" cy="702.2" r="1.333"/><circle cx="572.8" cy="825.8" r="1.333"/><circle cx="728.5" cy="636.2" r="1.333"/><circle cx="802.2" cy="607.1" r="1.333"/><circle cx="417.5" cy="868.2" r="1.333"/><circle cx="655.7" cy="730.8" r="1.333"/><circle cx="504.5" cy="810.2" r="1.333"/><circle cx="633.3" cy="741.9" r="1.333"/><circle cx="559.2" cy="692.4" r="1.333"/><circle cx="583.0" cy="745.3" r="1.333"/><circle cx="742.9" cy="619.9" r="1.333"/><circle cx="422.6" cy="822.3" r="1.333"/><circle cx="844.9" cy="617.7" r="1.333"/><circle cx="571.7" cy="790.5" r="1.333"/><circle cx="680.1" cy="676.4" r="1.333"/><circle cx="708.6" cy="717.5" r="1.333"/><circle cx="559.8" cy="849.1" r="1.333"/><circle cx="625.1" cy="733.1" r="1.333"/><circle cx="745.0" cy="718.1" r="1.333"/><circle cx="588.8" cy="723.4" r="1.333"/><circle cx="638.0" cy="681.7" r="1.333"/><circle cx="479.8" cy="803.5" r="1.333"/><circle cx="804.9" cy="636.4" r="1.333"/><circle cx="404.2" cy="827.5" r="1.333"/><circle cx="582.2" cy="694.7" r="1.333"/><circle cx="669.9" cy="834.2" r="1.333"/><circle cx="591.8" cy="844.8" r="1.333"/><circle cx="666.0" cy="725.8" r="1.333"/><circle cx="573.6" cy="798.2" r="1.333"/><circle cx="808.7" cy="687.1" r="1.333"/><circle cx="748.4" cy="685.7" r="1.333"/><circle cx="1026.3" cy="559.5" r="1.333"/><circle cx="735.7" cy="733.0" r="1.333"/><circle cx="1040.0" cy="480.3" r="1.333"/><circle cx="673.4" cy="761.9" r="1.333"/><circle cx="603.9" cy="797.7" r="1.333"/><circle cx="541.1" cy="817.3" r="1.333"/><circle cx="746.9" cy="695.0" r="1.333"/><circle cx="864.3" cy="690.3" r="1.333"/><circle cx="579.6" cy="744.7" r="1.333"/><circle cx="741.5" cy="761.1" r="1.333"/><circle cx="624.3" cy="719.7" r="1.333"/><circle cx="705.9" cy="686.4" r="1.333"/><circle cx="665.6" cy="777.2" r="1.333"/><circle cx="481.0" cy="858.5" r="1.333"/><circle cx="592.7" cy="718.9" r="1.333"/><circle cx="725.4" cy="573.1" r="1.333"/><circle cx="621.5" cy="764.0" r="1.333"/><circle cx="623.7" cy="793.8" r="1.333"/><circle cx="455.2" cy="778.6" r="1.333"/><circle cx="608.4" cy="763.9" r="1.333"/><circle cx="546.2" cy="742.1" r="1.333"/><circle cx="607.1" cy="678.3" r="1.333"/><circle cx="439.7" cy="801.8" r="1.333"/><circle cx="397.0" cy="858.2" r="1.333"/><circle cx="779.4" cy="622.7" r="1.333"/><circle cx="699.3" cy="593.7" r="1.333"/><circle cx="764.4" cy="666.7" r="1.333"/><circle cx="443.7" cy="784.4" r="1.333"/><circle cx="811.9" cy="729.0" r="1.333"/><circle cx="606.9" cy="818.8" r="1.333"/><circle cx="624.6" cy="745.1" r="1.333"/><circle cx="732.3" cy="725.7" r="1.333"/><circle cx="814.7" cy="650.6" r="1.333"/><circle cx="764.0" cy="750.5" r="1.333"/><circle cx="619.3" cy="823.8" r="1.333"/><circle cx="741.3" cy="660.1" r="1.333"/><circle cx="688.1" cy="779.4" r="1.333"/><circle cx="674.8" cy="849.2" r="1.333"/><circle cx="668.5" cy="770.0" r="1.333"/><circle cx="618.3" cy="710.8" r="1.333"/><circle cx="358.5" cy="874.4" r="1.333"/><circle cx="932.5" cy="510.9" r="1.333"/><circle cx="651.8" cy="730.9" r="1.333"/><circle cx="697.4" cy="673.4" r="1.333"/><circle cx="737.8" cy="648.2" r="1.333"/><circle cx="607.8" cy="844.8" r="1.333"/><circle cx="860.3" cy="579.5" r="1.333"/><circle cx="884.3" cy="513.9" r="1.333"/><circle cx="1019.7" cy="467.2" r="1.333"/><circle cx="946.5" cy="495.3" r="1.333"/><circle cx="797.9" cy="595.3" r="1.333"/><circle cx="867.6" cy="616.7" r="1.333"/><circle cx="674.9" cy="691.5" r="1.333"/><circle cx="758.3" cy="627.5" r="1.333"/><circle cx="724.4" cy="638.4" r="1.333"/><circle cx="614.2" cy="702.3" r="1.333"/><circle cx="433.4" cy="869.6" r="1.333"/><circle cx="454.5" cy="819.1" r="1.333"/><circle cx="928.8" cy="530.9" r="1.333"/><circle cx="446.5" cy="819.5" r="1.333"/><circle cx="575.2" cy="762.1" r="1.333"/><circle cx="680.3" cy="793.7" r="1.333"/><circle cx="598.9" cy="778.7" r="1.333"/><circle cx="431.3" cy="842.1" r="1.333"/><circle cx="531.3" cy="845.2" r="1.333"/><circle cx="734.5" cy="659.4" r="1.333"/><circle cx="911.7" cy="514.9" r="1.333"/><circle cx="570.3" cy="747.2" r="1.333"/><circle cx="775.4" cy="606.1" r="1.333"/><circle cx="535.1" cy="790.7" r="1.333"/><circle cx="669.2" cy="700.0" r="1.333"/><circle cx="518.8" cy="766.3" r="1.333"/><circle cx="933.4" cy="530.5" r="1.333"/><circle cx="505.7" cy="807.3" r="1.333"/><circle cx="839.4" cy="587.7" r="1.333"/><circle cx="536.1" cy="804.2" r="1.333"/><circle cx="471.4" cy="789.5" r="1.333"/><circle cx="730.5" cy="649.9" r="1.333"/><circle cx="514.2" cy="846.5" r="1.333"/><circle cx="352.3" cy="875.4" r="1.333"/><circle cx="531.7" cy="801.2" r="1.333"/><circle cx="462.6" cy="879.9" r="1.333"/><circle cx="692.2" cy="849.8" r="1.333"/><circle cx="727.6" cy="646.7" r="1.333"/><circle cx="907.8" cy="540.9" r="1.333"/><circle cx="468.5" cy="846.4" r="1.333"/><circle cx="525.3" cy="808.7" r="1.333"/><circle cx="616.8" cy="753.4" r="1.333"/><circle cx="502.8" cy="786.9" r="1.333"/><circle cx="862.4" cy="571.7" r="1.333"/><circle cx="495.0" cy="841.7" r="1.333"/><circle cx="794.0" cy="619.2" r="1.333"/><circle cx="695.2" cy="703.9" r="1.333"/><circle cx="814.9" cy="588.8" r="1.333"/><circle cx="732.4" cy="640.9" r="1.333"/><circle cx="860.3" cy="575.2" r="1.333"/><circle cx="527.7" cy="804.9" r="1.333"/><circle cx="670.2" cy="736.0" r="1.333"/><circle cx="701.1" cy="686.8" r="1.333"/><circle cx="628.8" cy="742.9" r="1.333"/><circle cx="733.5" cy="618.4" r="1.333"/><circle cx="513.1" cy="815.9" r="1.333"/><circle cx="652.3" cy="712.4" r="1.333"/><circle cx="623.7" cy="745.3" r="1.333"/><circle cx="659.0" cy="711.6" r="1.333"/><circle cx="765.2" cy="687.4" r="1.333"/><circle cx="702.1" cy="660.8" r="1.333"/><circle cx="946.1" cy="496.2" r="1.333"/><circle cx="823.6" cy="609.2" r="1.333"/><circle cx="662.9" cy="829.9" r="1.333"/><circle cx="421.0" cy="778.0" r="1.333"/><circle cx="473.6" cy="818.5" r="1.333"/><circle cx="622.9" cy="868.7" r="1.333"/><circle cx="928.5" cy="541.3" r="1.333"/><circle cx="984.8" cy="533.7" r="1.333"/><circle cx="609.3" cy="875.7" r="1.333"/><circle cx="533.5" cy="705.9" r="1.333"/><circle cx="581.6" cy="866.2" r="1.333"/><circle cx="616.1" cy="754.4" r="1.333"/><circle cx="528.4" cy="837.6" r="1.333"/><circle cx="460.8" cy="797.1" r="1.333"/><circle cx="655.2" cy="814.5" r="1.333"/><circle cx="845.5" cy="590.4" r="1.333"/><circle cx="860.5" cy="646.9" r="1.333"/><circle cx="712.7" cy="660.1" r="1.333"/><circle cx="594.1" cy="745.8" r="1.333"/><circle cx="660.8" cy="734.8" r="1.333"/><circle cx="597.6" cy="809.2" r="1.333"/><circle cx="801.4" cy="745.3" r="1.333"/><circle cx="514.4" cy="808.0" r="1.333"/><circle cx="825.2" cy="654.4" r="1.333"/><circle cx="648.2" cy="762.9" r="1.333"/><circle cx="806.1" cy="699.2" r="1.333"/><circle cx="639.6" cy="824.9" r="1.333"/><circle cx="435.4" cy="850.0" r="1.333"/><circle cx="809.8" cy="611.5" r="1.333"/><circle cx="704.6" cy="699.3" r="1.333"/><circle cx="823.3" cy="666.3" r="1.333"/><circle cx="558.4" cy="810.4" r="1.333"/><circle cx="591.6" cy="762.4" r="1.333"/><circle cx="813.2" cy="680.1" r="1.333"/><circle cx="619.7" cy="798.0" r="1.333"/><circle cx="749.8" cy="745.2" r="1.333"/><circle cx="655.2" cy="833.3" r="1.333"/><circle cx="768.3" cy="677.0" r="1.333"/><circle cx="977.6" cy="473.8" r="1.333"/><circle cx="827.3" cy="654.0" r="1.333"/><circle cx="956.1" cy="487.2" r="1.333"/><circle cx="471.8" cy="788.9" r="1.333"/><circle cx="687.3" cy="758.8" r="1.333"/><circle cx="633.1" cy="823.3" r="1.333"/><circle cx="717.5" cy="714.1" r="1.333"/><circle cx="671.7" cy="734.4" r="1.333"/><circle cx="643.4" cy="756.9" r="1.333"/><circle cx="531.1" cy="681.4" r="1.333"/><circle cx="942.8" cy="529.0" r="1.333"/><circle cx="824.9" cy="760.4" r="1.333"/><circle cx="786.0" cy="580.7" r="1.333"/><circle cx="655.9" cy="761.3" r="1.333"/><circle cx="604.1" cy="859.5" r="1.333"/><circle cx="807.5" cy="600.0" r="1.333"/><circle cx="834.7" cy="761.4" r="1.333"/><circle cx="734.6" cy="689.5" r="1.333"/><circle cx="871.1" cy="608.8" r="1.333"/><circle cx="615.2" cy="837.5" r="1.333"/><circle cx="930.8" cy="551.2" r="1.333"/><circle cx="541.1" cy="704.7" r="1.333"/><circle cx="830.0" cy="581.1" r="1.333"/><circle cx="687.0" cy="723.6" r="1.333"/><circle cx="626.0" cy="755.5" r="1.333"/><circle cx="599.7" cy="701.1" r="1.333"/><circle cx="864.0" cy="689.7" r="1.333"/><circle cx="688.1" cy="728.1" r="1.333"/><circle cx="661.4" cy="859.8" r="1.333"/><circle cx="671.1" cy="715.5" r="1.333"/><circle cx="622.5" cy="689.6" r="1.333"/><circle cx="521.4" cy="816.8" r="1.333"/><circle cx="535.3" cy="724.9" r="1.333"/><circle cx="583.9" cy="686.8" r="1.333"/><circle cx="766.8" cy="740.4" r="1.333"/><circle cx="891.6" cy="541.1" r="1.333"/><circle cx="443.8" cy="863.7" r="1.333"/><circle cx="731.4" cy="752.1" r="1.333"/><circle cx="778.4" cy="619.0" r="1.333"/><circle cx="755.1" cy="749.5" r="1.333"/><circle cx="860.2" cy="736.7" r="1.333"/><circle cx="582.5" cy="753.7" r="1.333"/><circle cx="724.2" cy="662.0" r="1.333"/><circle cx="406.1" cy="834.8" r="1.333"/><circle cx="596.7" cy="702.8" r="1.333"/><circle cx="750.5" cy="640.2" r="1.333"/><circle cx="546.0" cy="802.2" r="1.333"/><circle cx="821.1" cy="574.3" r="1.333"/><circle cx="496.4" cy="787.3" r="1.333"/><circle cx="616.6" cy="710.4" r="1.333"/><circle cx="646.9" cy="833.4" r="1.333"/><circle cx="590.5" cy="781.9" r="1.333"/><circle cx="686.2" cy="751.4" r="1.333"/><circle cx="886.9" cy="569.3" r="1.333"/><circle cx="728.7" cy="689.0" r="1.333"/><circle cx="599.4" cy="740.4" r="1.333"/><circle cx="573.2" cy="708.7" r="1.333"/><circle cx="831.5" cy="623.8" r="1.333"/><circle cx="446.2" cy="869.4" r="1.333"/><circle cx="802.5" cy="626.3" r="1.333"/><circle cx="504.6" cy="850.6" r="1.333"/><circle cx="809.9" cy="619.7" r="1.333"/><circle cx="432.7" cy="875.5" r="1.333"/><circle cx="616.4" cy="724.1" r="1.333"/><circle cx="626.7" cy="684.5" r="1.333"/><circle cx="919.5" cy="526.8" r="1.333"/><circle cx="614.2" cy="758.0" r="1.333"/><circle cx="472.9" cy="812.1" r="1.333"/><circle cx="711.8" cy="747.2" r="1.333"/><circle cx="648.2" cy="773.0" r="1.333"/><circle cx="622.7" cy="733.5" r="1.333"/><circle cx="675.6" cy="760.4" r="1.333"/><circle cx="555.9" cy="749.3" r="1.333"/><circle cx="354.8" cy="863.3" r="1.333"/><circle cx="739.3" cy="700.5" r="1.333"/><circle cx="432.2" cy="817.8" r="1.333"/><circle cx="551.5" cy="773.9" r="1.333"/><circle cx="632.2" cy="848.9" r="1.333"/><circle cx="578.9" cy="698.6" r="1.333"/><circle cx="627.3" cy="768.9" r="1.333"/><circle cx="514.5" cy="793.7" r="1.333"/><circle cx="448.2" cy="876.5" r="1.333"/><circle cx="661.7" cy="721.0" r="1.333"/><circle cx="687.4" cy="674.8" r="1.333"/><circle cx="544.8" cy="754.5" r="1.333"/><circle cx="533.5" cy="726.8" r="1.333"/><circle cx="544.1" cy="823.8" r="1.333"/><circle cx="527.0" cy="843.0" r="1.333"/><circle cx="946.1" cy="560.6" r="1.333"/><circle cx="611.7" cy="719.6" r="1.333"/><circle cx="732.0" cy="599.1" r="1.333"/><circle cx="697.0" cy="821.5" r="1.333"/><circle cx="549.3" cy="869.7" r="1.333"/><circle cx="814.8" cy="601.3" r="1.333"/><circle cx="433.2" cy="855.3" r="1.333"/><circle cx="648.3" cy="827.3" r="1.333"/><circle cx="507.0" cy="782.6" r="1.333"/><circle cx="909.5" cy="526.0" r="1.333"/><circle cx="352.2" cy="869.8" r="1.333"/><circle cx="566.0" cy="745.9" r="1.333"/><circle cx="879.1" cy="559.3" r="1.333"/><circle cx="779.5" cy="593.9" r="1.333"/><circle cx="535.2" cy="797.2" r="1.333"/><circle cx="534.1" cy="783.0" r="1.333"/><circle cx="615.6" cy="711.9" r="1.333"/><circle cx="481.1" cy="794.3" r="1.333"/><circle cx="611.1" cy="853.7" r="1.333"/><circle cx="454.2" cy="853.8" r="1.333"/><circle cx="785.5" cy="641.9" r="1.333"/><circle cx="870.8" cy="614.6" r="1.333"/><circle cx="629.4" cy="691.5" r="1.333"/><circle cx="925.3" cy="518.4" r="1.333"/><circle cx="637.0" cy="675.7" r="1.333"/><circle cx="910.8" cy="530.0" r="1.333"/><circle cx="749.9" cy="634.8" r="1.333"/><circle cx="601.6" cy="832.3" r="1.333"/><circle cx="632.9" cy="736.5" r="1.333"/><circle cx="707.6" cy="653.5" r="1.333"/><circle cx="579.3" cy="767.8" r="1.333"/><circle cx="566.9" cy="764.3" r="1.333"/><circle cx="604.0" cy="756.7" r="1.333"/><circle cx="508.7" cy="829.2" r="1.333"/><circle cx="408.8" cy="843.1" r="1.333"/><circle cx="692.1" cy="722.8" r="1.333"/><circle cx="474.2" cy="863.9" r="1.333"/><circle cx="528.1" cy="769.8" r="1.333"/><circle cx="666.2" cy="747.6" r="1.333"/><circle cx="658.1" cy="729.9" r="1.333"/><circle cx="713.9" cy="617.7" r="1.333"/><circle cx="577.6" cy="733.5" r="1.333"/><circle cx="787.4" cy="583.6" r="1.333"/><circle cx="541.4" cy="781.6" r="1.333"/><circle cx="537.9" cy="758.8" r="1.333"/><circle cx="490.7" cy="780.7" r="1.333"/><circle cx="965.8" cy="498.0" r="1.333"/><circle cx="494.1" cy="788.4" r="1.333"/><circle cx="817.4" cy="605.9" r="1.333"/><circle cx="600.5" cy="772.0" r="1.333"/><circle cx="534.8" cy="860.9" r="1.333"/><circle cx="631.4" cy="691.4" r="1.333"/><circle cx="1005.7" cy="482.1" r="1.333"/><circle cx="600.4" cy="736.2" r="1.333"/><circle cx="714.8" cy="711.8" r="1.333"/><circle cx="770.1" cy="570.0" r="1.333"/><circle cx="395.4" cy="879.5" r="1.333"/><circle cx="495.0" cy="842.8" r="1.333"/><circle cx="983.6" cy="511.8" r="1.333"/><circle cx="447.8" cy="813.3" r="1.333"/><circle cx="727.3" cy="624.6" r="1.333"/><circle cx="641.9" cy="719.5" r="1.333"/><circle cx="564.0" cy="876.2" r="1.333"/><circle cx="813.4" cy="624.1" r="1.333"/><circle cx="722.9" cy="670.3" r="1.333"/><circle cx="697.5" cy="678.6" r="1.333"/><circle cx="462.5" cy="828.8" r="1.333"/><circle cx="626.0" cy="791.8" r="1.333"/><circle cx="506.0" cy="807.4" r="1.333"/><circle cx="749.4" cy="592.8" r="1.333"/><circle cx="457.5" cy="820.8" r="1.333"/><circle cx="705.8" cy="636.2" r="1.333"/><circle cx="623.0" cy="725.8" r="1.333"/><circle cx="538.1" cy="811.9" r="1.333"/><circle cx="878.3" cy="505.8" r="1.333"/><circle cx="935.8" cy="495.3" r="1.333"/><circle cx="826.2" cy="672.1" r="1.333"/><circle cx="977.1" cy="552.5" r="1.333"/><circle cx="778.1" cy="723.7" r="1.333"/><circle cx="716.4" cy="709.5" r="1.333"/><circle cx="783.8" cy="593.5" r="1.333"/><circle cx="835.2" cy="571.5" r="1.333"/><circle cx="855.3" cy="620.0" r="1.333"/><circle cx="871.8" cy="752.0" r="1.333"/><circle cx="868.0" cy="575.6" r="1.333"/><circle cx="863.8" cy="625.0" r="1.333"/><circle cx="747.8" cy="591.7" r="1.333"/><circle cx="841.9" cy="610.2" r="1.333"/><circle cx="881.8" cy="483.3" r="1.333"/><circle cx="658.2" cy="745.2" r="1.333"/><circle cx="637.4" cy="870.6" r="1.333"/><circle cx="908.0" cy="517.9" r="1.333"/><circle cx="797.0" cy="671.9" r="1.333"/><circle cx="764.4" cy="575.4" r="1.333"/><circle cx="1025.4" cy="514.9" r="1.333"/><circle cx="924.3" cy="482.5" r="1.333"/><circle cx="952.5" cy="673.7" r="1.333"/><circle cx="779.2" cy="660.3" r="1.333"/><circle cx="593.1" cy="831.3" r="1.333"/><circle cx="770.1" cy="632.9" r="1.333"/><circle cx="657.8" cy="869.4" r="1.333"/><circle cx="479.7" cy="806.7" r="1.333"/><circle cx="842.4" cy="753.9" r="1.333"/><circle cx="928.2" cy="495.2" r="1.333"/><circle cx="805.3" cy="697.4" r="1.333"/><circle cx="994.5" cy="524.6" r="1.333"/><circle cx="954.8" cy="547.1" r="1.333"/><circle cx="873.2" cy="597.6" r="1.333"/><circle cx="827.7" cy="643.0" r="1.333"/><circle cx="655.0" cy="717.0" r="1.333"/><circle cx="526.6" cy="713.4" r="1.333"/><circle cx="696.8" cy="831.7" r="1.333"/><circle cx="493.9" cy="842.7" r="1.333"/><circle cx="806.1" cy="599.0" r="1.333"/><circle cx="851.5" cy="621.9" r="1.333"/><circle cx="881.8" cy="529.1" r="1.333"/><circle cx="718.4" cy="631.6" r="1.333"/><circle cx="754.2" cy="677.0" r="1.333"/><circle cx="967.3" cy="494.3" r="1.333"/><circle cx="700.2" cy="612.7" r="1.333"/><circle cx="676.0" cy="707.5" r="1.333"/><circle cx="778.6" cy="708.6" r="1.333"/><circle cx="1005.4" cy="544.5" r="1.333"/><circle cx="836.7" cy="616.8" r="1.333"/><circle cx="976.4" cy="548.4" r="1.333"/><circle cx="569.6" cy="682.4" r="1.333"/><circle cx="782.7" cy="699.4" r="1.333"/><circle cx="731.0" cy="627.8" r="1.333"/><circle cx="901.6" cy="474.7" r="1.333"/><circle cx="574.2" cy="698.4" r="1.333"/><circle cx="844.3" cy="769.1" r="1.333"/><circle cx="877.1" cy="746.3" r="1.333"/><circle cx="593.2" cy="826.8" r="1.333"/><circle cx="701.8" cy="750.1" r="1.333"/><circle cx="925.4" cy="564.7" r="1.333"/><circle cx="578.0" cy="718.7" r="1.333"/><circle cx="508.3" cy="847.9" r="1.333"/><circle cx="819.2" cy="591.1" r="1.333"/><circle cx="601.1" cy="746.8" r="1.333"/><circle cx="664.1" cy="679.6" r="1.333"/><circle cx="463.1" cy="854.5" r="1.333"/><circle cx="546.3" cy="773.2" r="1.333"/><circle cx="465.4" cy="829.2" r="1.333"/><circle cx="789.0" cy="734.1" r="1.333"/><circle cx="653.3" cy="735.1" r="1.333"/><circle cx="563.5" cy="705.9" r="1.333"/><circle cx="702.3" cy="713.4" r="1.333"/><circle cx="477.8" cy="846.8" r="1.333"/><circle cx="703.8" cy="708.5" r="1.333"/><circle cx="702.4" cy="750.0" r="1.333"/><circle cx="725.8" cy="698.8" r="1.333"/><circle cx="771.2" cy="616.8" r="1.333"/><circle cx="641.9" cy="756.5" r="1.333"/><circle cx="563.1" cy="808.1" r="1.333"/><circle cx="516.3" cy="833.8" r="1.333"/><circle cx="447.8" cy="855.8" r="1.333"/><circle cx="717.8" cy="673.7" r="1.333"/><circle cx="555.9" cy="783.9" r="1.333"/><circle cx="517.9" cy="815.7" r="1.333"/><circle cx="751.8" cy="666.3" r="1.333"/><circle cx="503.6" cy="809.4" r="1.333"/><circle cx="722.6" cy="688.7" r="1.333"/><circle cx="568.8" cy="744.9" r="1.333"/><circle cx="434.3" cy="834.9" r="1.333"/><circle cx="478.4" cy="875.5" r="1.333"/><circle cx="469.2" cy="820.5" r="1.333"/><circle cx="516.3" cy="766.2" r="1.333"/><circle cx="595.1" cy="794.8" r="1.333"/><circle cx="636.4" cy="808.3" r="1.333"/><circle cx="551.2" cy="816.8" r="1.333"/><circle cx="451.3" cy="811.4" r="1.333"/><circle cx="677.8" cy="767.0" r="1.333"/><circle cx="522.6" cy="838.8" r="1.333"/><circle cx="812.5" cy="588.0" r="1.333"/><circle cx="727.4" cy="693.6" r="1.333"/><circle cx="961.9" cy="538.6" r="1.333"/><circle cx="754.9" cy="623.6" r="1.333"/><circle cx="786.2" cy="610.1" r="1.333"/><circle cx="861.1" cy="641.1" r="1.333"/><circle cx="420.1" cy="809.8" r="1.333"/><circle cx="410.5" cy="848.0" r="1.333"/><circle cx="646.5" cy="697.3" r="1.333"/><circle cx="708.5" cy="758.1" r="1.333"/><circle cx="397.3" cy="852.3" r="1.333"/><circle cx="581.5" cy="800.9" r="1.333"/><circle cx="598.4" cy="836.3" r="1.333"/><circle cx="504.0" cy="777.8" r="1.333"/><circle cx="795.8" cy="679.7" r="1.333"/><circle cx="537.3" cy="767.7" r="1.333"/><circle cx="741.0" cy="691.5" r="1.333"/><circle cx="648.3" cy="874.7" r="1.333"/><circle cx="440.5" cy="831.5" r="1.333"/><circle cx="890.1" cy="544.2" r="1.333"/><circle cx="607.5" cy="695.6" r="1.333"/><circle cx="844.3" cy="592.4" r="1.333"/><circle cx="726.0" cy="695.2" r="1.333"/><circle cx="713.6" cy="658.6" r="1.333"/><circle cx="741.2" cy="643.1" r="1.333"/><circle cx="762.0" cy="742.6" r="1.333"/><circle cx="910.9" cy="529.3" r="1.333"/><circle cx="966.8" cy="517.4" r="1.333"/><circle cx="686.7" cy="714.5" r="1.333"/><circle cx="1035.6" cy="465.9" r="1.333"/><circle cx="754.7" cy="655.2" r="1.333"/><circle cx="877.4" cy="576.5" r="1.333"/><circle cx="818.0" cy="584.4" r="1.333"/><circle cx="610.2" cy="716.5" r="1.333"/><circle cx="741.6" cy="626.2" r="1.333"/><circle cx="767.2" cy="618.9" r="1.333"/><circle cx="815.2" cy="627.2" r="1.333"/><circle cx="357.5" cy="874.5" r="1.333"/><circle cx="954.8" cy="562.8" r="1.333"/><circle cx="572.1" cy="801.1" r="1.333"/><circle cx="860.1" cy="579.5" r="1.333"/><circle cx="888.0" cy="547.7" r="1.333"/><circle cx="600.9" cy="722.8" r="1.333"/><circle cx="602.6" cy="723.4" r="1.333"/><circle cx="572.0" cy="743.6" r="1.333"/><circle cx="722.9" cy="707.7" r="1.333"/><circle cx="769.3" cy="633.6" r="1.333"/><circle cx="652.1" cy="712.9" r="1.333"/><circle cx="939.3" cy="530.7" r="1.333"/><circle cx="762.7" cy="606.6" r="1.333"/><circle cx="480.3" cy="867.3" r="1.333"/><circle cx="796.7" cy="578.6" r="1.333"/><circle cx="590.6" cy="809.4" r="1.333"/><circle cx="709.0" cy="662.9" r="1.333"/><circle cx="608.1" cy="718.5" r="1.333"/><circle cx="1008.8" cy="489.7" r="1.333"/><circle cx="628.5" cy="777.4" r="1.333"/><circle cx="827.6" cy="657.3" r="1.333"/><circle cx="996.0" cy="468.1" r="1.333"/><circle cx="957.5" cy="534.8" r="1.333"/><circle cx="543.1" cy="797.6" r="1.333"/><circle cx="564.1" cy="816.4" r="1.333"/><circle cx="595.8" cy="743.4" r="1.333"/><circle cx="685.7" cy="682.8" r="1.333"/><circle cx="814.0" cy="616.7" r="1.333"/><circle cx="854.1" cy="574.3" r="1.333"/><circle cx="769.1" cy="600.5" r="1.333"/><circle cx="455.7" cy="806.8" r="1.333"/><circle cx="691.7" cy="696.6" r="1.333"/><circle cx="658.0" cy="724.0" r="1.333"/><circle cx="909.3" cy="539.0" r="1.333"/><circle cx="554.6" cy="798.9" r="1.333"/><circle cx="618.0" cy="802.0" r="1.333"/><circle cx="559.8" cy="740.0" r="1.333"/><circle cx="805.4" cy="603.3" r="1.333"/><circle cx="632.6" cy="780.2" r="1.333"/><circle cx="683.4" cy="696.8" r="1.333"/><circle cx="733.7" cy="764.9" r="1.333"/><circle cx="655.6" cy="703.0" r="1.333"/><circle cx="636.7" cy="789.5" r="1.333"/><circle cx="471.4" cy="787.3" r="1.333"/><circle cx="968.8" cy="486.4" r="1.333"/><circle cx="753.3" cy="643.0" r="1.333"/><circle cx="597.6" cy="712.3" r="1.333"/><circle cx="715.4" cy="672.4" r="1.333"/><circle cx="935.8" cy="535.6" r="1.333"/><circle cx="678.5" cy="700.7" r="1.333"/><circle cx="517.9" cy="817.4" r="1.333"/><circle cx="579.9" cy="750.9" r="1.333"/><circle cx="543.4" cy="796.2" r="1.333"/><circle cx="749.0" cy="632.0" r="1.333"/><circle cx="451.7" cy="793.4" r="1.333"/><circle cx="526.7" cy="830.0" r="1.333"/><circle cx="711.7" cy="669.9" r="1.333"/><circle cx="832.7" cy="607.0" r="1.333"/><circle cx="663.3" cy="699.4" r="1.333"/><circle cx="601.2" cy="730.7" r="1.333"/><circle cx="521.3" cy="778.5" r="1.333"/><circle cx="641.7" cy="697.1" r="1.333"/><circle cx="720.5" cy="660.2" r="1.333"/><circle cx="542.8" cy="785.2" r="1.333"/><circle cx="438.2" cy="830.7" r="1.333"/><circle cx="802.7" cy="611.7" r="1.333"/><circle cx="562.9" cy="766.2" r="1.333"/><circle cx="653.1" cy="810.6" r="1.333"/><circle cx="621.3" cy="743.1" r="1.333"/><circle cx="601.6" cy="732.0" r="1.333"/><circle cx="414.3" cy="839.9" r="1.333"/><circle cx="581.1" cy="727.4" r="1.333"/><circle cx="692.6" cy="689.0" r="1.333"/><circle cx="570.8" cy="757.5" r="1.333"/><circle cx="924.6" cy="517.7" r="1.333"/><circle cx="646.6" cy="687.3" r="1.333"/><circle cx="891.4" cy="539.1" r="1.333"/><circle cx="679.4" cy="686.5" r="1.333"/><circle cx="946.0" cy="530.8" r="1.333"/><circle cx="498.6" cy="802.1" r="1.333"/><circle cx="621.6" cy="776.7" r="1.333"/><circle cx="750.9" cy="633.8" r="1.333"/><circle cx="482.2" cy="810.2" r="1.333"/><circle cx="471.7" cy="849.2" r="1.333"/><circle cx="567.3" cy="776.9" r="1.333"/><circle cx="783.0" cy="619.9" r="1.333"/><circle cx="567.3" cy="778.0" r="1.333"/><circle cx="488.1" cy="846.4" r="1.333"/><circle cx="697.4" cy="647.4" r="1.333"/><circle cx="639.7" cy="862.1" r="1.333"/><circle cx="501.2" cy="873.7" r="1.333"/><circle cx="509.8" cy="786.3" r="1.333"/><circle cx="505.9" cy="818.9" r="1.333"/><circle cx="588.8" cy="730.3" r="1.333"/><circle cx="835.7" cy="572.0" r="1.333"/><circle cx="645.0" cy="695.4" r="1.333"/><circle cx="569.1" cy="790.4" r="1.333"/><circle cx="478.6" cy="777.6" r="1.333"/><circle cx="966.7" cy="478.4" r="1.333"/><circle cx="716.1" cy="647.9" r="1.333"/><circle cx="625.2" cy="808.0" r="1.333"/><circle cx="542.4" cy="760.4" r="1.333"/><circle cx="1018.5" cy="474.9" r="1.333"/><circle cx="678.9" cy="686.8" r="1.333"/><circle cx="588.4" cy="733.1" r="1.333"/><circle cx="607.9" cy="860.2" r="1.333"/><circle cx="933.7" cy="546.2" r="1.333"/><circle cx="616.5" cy="736.2" r="1.333"/><circle cx="517.2" cy="841.1" r="1.333"/><circle cx="525.0" cy="816.1" r="1.333"/><circle cx="622.0" cy="753.3" r="1.333"/><circle cx="704.4" cy="662.7" r="1.333"/><circle cx="537.5" cy="793.7" r="1.333"/><circle cx="603.7" cy="713.9" r="1.333"/><circle cx="342.0" cy="877.0" r="1.333"/><circle cx="814.5" cy="609.6" r="1.333"/><circle cx="458.5" cy="852.3" r="1.333"/><circle cx="448.9" cy="825.1" r="1.333"/><circle cx="918.6" cy="518.7" r="1.333"/><circle cx="557.9" cy="747.0" r="1.333"/><circle cx="649.4" cy="867.7" r="1.333"/><circle cx="508.7" cy="779.7" r="1.333"/><circle cx="446.1" cy="800.1" r="1.333"/><circle cx="776.9" cy="576.9" r="1.333"/><circle cx="622.8" cy="808.8" r="1.333"/><circle cx="669.5" cy="709.3" r="1.333"/><circle cx="781.6" cy="636.4" r="1.333"/><circle cx="518.7" cy="767.0" r="1.333"/><circle cx="495.6" cy="823.4" r="1.333"/><circle cx="455.8" cy="798.0" r="1.333"/><circle cx="674.5" cy="809.7" r="1.333"/><circle cx="734.4" cy="672.2" r="1.333"/><circle cx="853.6" cy="590.9" r="1.333"/><circle cx="551.7" cy="741.4" r="1.333"/><circle cx="596.7" cy="827.2" r="1.333"/><circle cx="784.7" cy="650.0" r="1.333"/><circle cx="628.7" cy="718.0" r="1.333"/><circle cx="891.0" cy="510.3" r="1.333"/><circle cx="510.4" cy="810.8" r="1.333"/><circle cx="724.8" cy="701.1" r="1.333"/><circle cx="822.2" cy="624.4" r="1.333"/><circle cx="644.2" cy="687.0" r="1.333"/><circle cx="640.8" cy="708.5" r="1.333"/><circle cx="822.7" cy="619.2" r="1.333"/><circle cx="948.2" cy="504.9" r="1.333"/><circle cx="713.2" cy="690.4" r="1.333"/><circle cx="920.6" cy="508.6" r="1.333"/><circle cx="627.0" cy="694.9" r="1.333"/><circle cx="734.8" cy="638.8" r="1.333"/><circle cx="689.9" cy="746.3" r="1.333"/><circle cx="485.3" cy="826.8" r="1.333"/><circle cx="808.3" cy="593.6" r="1.333"/><circle cx="636.2" cy="816.2" r="1.333"/><circle cx="735.7" cy="606.7" r="1.333"/><circle cx="821.6" cy="635.3" r="1.333"/><circle cx="776.3" cy="716.8" r="1.333"/><circle cx="663.8" cy="754.6" r="1.333"/><circle cx="523.6" cy="760.3" r="1.333"/><circle cx="772.5" cy="649.1" r="1.333"/><circle cx="651.9" cy="777.1" r="1.333"/><circle cx="624.0" cy="737.9" r="1.333"/><circle cx="515.5" cy="871.9" r="1.333"/><circle cx="551.4" cy="836.3" r="1.333"/><circle cx="628.3" cy="796.0" r="1.333"/><circle cx="768.3" cy="653.5" r="1.333"/><circle cx="469.4" cy="867.1" r="1.333"/><circle cx="558.2" cy="856.8" r="1.333"/><circle cx="466.4" cy="803.3" r="1.333"/><circle cx="446.1" cy="786.0" r="1.333"/><circle cx="694.3" cy="701.5" r="1.333"/><circle cx="533.6" cy="864.7" r="1.333"/><circle cx="786.9" cy="714.9" r="1.333"/><circle cx="633.7" cy="832.3" r="1.333"/><circle cx="841.1" cy="628.9" r="1.333"/><circle cx="679.5" cy="802.5" r="1.333"/><circle cx="618.1" cy="786.7" r="1.333"/><circle cx="632.1" cy="845.9" r="1.333"/><circle cx="804.3" cy="718.5" r="1.333"/><circle cx="644.8" cy="833.6" r="1.333"/><circle cx="674.5" cy="742.7" r="1.333"/><circle cx="672.7" cy="753.6" r="1.333"/><circle cx="842.7" cy="697.8" r="1.333"/><circle cx="687.3" cy="859.8" r="1.333"/><circle cx="703.1" cy="680.6" r="1.333"/><circle cx="895.1" cy="565.8" r="1.333"/><circle cx="592.3" cy="824.6" r="1.333"/><circle cx="694.4" cy="752.0" r="1.333"/><circle cx="530.9" cy="840.9" r="1.333"/><circle cx="691.1" cy="747.3" r="1.333"/><circle cx="558.2" cy="780.6" r="1.333"/><circle cx="644.7" cy="802.2" r="1.333"/><circle cx="808.3" cy="724.0" r="1.333"/><circle cx="644.6" cy="878.2" r="1.333"/><circle cx="669.6" cy="765.7" r="1.333"/><circle cx="546.1" cy="768.5" r="1.333"/><circle cx="641.1" cy="697.4" r="1.333"/><circle cx="705.0" cy="631.1" r="1.333"/><circle cx="529.1" cy="804.2" r="1.333"/><circle cx="885.4" cy="559.3" r="1.333"/><circle cx="785.6" cy="635.0" r="1.333"/><circle cx="816.5" cy="661.2" r="1.333"/><circle cx="598.2" cy="756.1" r="1.333"/><circle cx="416.7" cy="826.7" r="1.333"/><circle cx="769.1" cy="611.4" r="1.333"/><circle cx="823.3" cy="631.4" r="1.333"/><circle cx="561.0" cy="769.9" r="1.333"/><circle cx="424.6" cy="819.4" r="1.333"/><circle cx="434.8" cy="832.0" r="1.333"/><circle cx="599.1" cy="743.2" r="1.333"/><circle cx="664.6" cy="727.8" r="1.333"/><circle cx="509.2" cy="802.5" r="1.333"/><circle cx="377.5" cy="872.3" r="1.333"/><circle cx="600.6" cy="703.4" r="1.333"/><circle cx="720.2" cy="619.3" r="1.333"/><circle cx="491.6" cy="818.6" r="1.333"/><circle cx="742.9" cy="677.7" r="1.333"/><circle cx="400.8" cy="860.4" r="1.333"/><circle cx="635.9" cy="749.0" r="1.333"/><circle cx="481.4" cy="830.8" r="1.333"/><circle cx="848.1" cy="600.7" r="1.333"/><circle cx="453.2" cy="878.2" r="1.333"/><circle cx="408.3" cy="876.0" r="1.333"/><circle cx="557.1" cy="775.6" r="1.333"/><circle cx="652.7" cy="717.4" r="1.333"/><circle cx="542.3" cy="831.9" r="1.333"/><circle cx="604.0" cy="796.8" r="1.333"/><circle cx="517.1" cy="845.7" r="1.333"/><circle cx="528.5" cy="778.0" r="1.333"/><circle cx="648.6" cy="717.2" r="1.333"/><circle cx="837.6" cy="603.6" r="1.333"/><circle cx="475.7" cy="835.0" r="1.333"/><circle cx="509.5" cy="827.2" r="1.333"/><circle cx="818.4" cy="616.4" r="1.333"/><circle cx="730.5" cy="682.4" r="1.333"/><circle cx="576.3" cy="803.2" r="1.333"/><circle cx="795.7" cy="602.5" r="1.333"/><circle cx="754.9" cy="631.0" r="1.333"/><circle cx="673.7" cy="695.1" r="1.333"/><circle cx="584.1" cy="770.6" r="1.333"/><circle cx="673.8" cy="748.8" r="1.333"/><circle cx="626.0" cy="705.0" r="1.333"/><circle cx="795.2" cy="592.1" r="1.333"/><circle cx="445.0" cy="861.9" r="1.333"/><circle cx="494.8" cy="784.2" r="1.333"/><circle cx="870.9" cy="580.7" r="1.333"/><circle cx="631.1" cy="758.6" r="1.333"/><circle cx="667.0" cy="689.9" r="1.333"/><circle cx="732.9" cy="689.7" r="1.333"/><circle cx="544.6" cy="829.8" r="1.333"/><circle cx="657.4" cy="714.5" r="1.333"/><circle cx="718.5" cy="747.8" r="1.333"/><circle cx="659.6" cy="687.2" r="1.333"/><circle cx="638.4" cy="680.7" r="1.333"/><circle cx="628.1" cy="766.8" r="1.333"/><circle cx="774.0" cy="662.0" r="1.333"/><circle cx="557.9" cy="856.2" r="1.333"/><circle cx="613.1" cy="838.3" r="1.333"/><circle cx="808.9" cy="607.3" r="1.333"/><circle cx="792.9" cy="636.5" r="1.333"/><circle cx="958.6" cy="468.0" r="1.333"/><circle cx="732.7" cy="645.7" r="1.333"/><circle cx="495.3" cy="829.1" r="1.333"/><circle cx="669.6" cy="693.5" r="1.333"/><circle cx="541.0" cy="746.3" r="1.333"/><circle cx="650.8" cy="731.9" r="1.333"/><circle cx="570.0" cy="760.8" r="1.333"/><circle cx="795.8" cy="612.2" r="1.333"/><circle cx="736.6" cy="629.8" r="1.333"/><circle cx="733.4" cy="660.9" r="1.333"/><circle cx="794.8" cy="728.5" r="1.333"/><circle cx="628.6" cy="733.7" r="1.333"/><circle cx="796.8" cy="685.5" r="1.333"/><circle cx="578.9" cy="730.0" r="1.333"/><circle cx="598.0" cy="864.4" r="1.333"/><circle cx="613.5" cy="774.4" r="1.333"/><circle cx="848.6" cy="608.3" r="1.333"/><circle cx="686.5" cy="709.7" r="1.333"/><circle cx="490.1" cy="820.7" r="1.333"/><circle cx="617.4" cy="688.9" r="1.333"/><circle cx="788.5" cy="665.9" r="1.333"/><circle cx="539.6" cy="823.8" r="1.333"/><circle cx="755.2" cy="657.9" r="1.333"/><circle cx="753.5" cy="622.5" r="1.333"/><circle cx="681.9" cy="689.1" r="1.333"/><circle cx="810.2" cy="617.3" r="1.333"/><circle cx="735.7" cy="663.6" r="1.333"/><circle cx="977.2" cy="512.9" r="1.333"/><circle cx="967.9" cy="486.8" r="1.333"/><circle cx="656.0" cy="732.3" r="1.333"/><circle cx="867.6" cy="745.1" r="1.333"/><circle cx="1022.2" cy="502.9" r="1.333"/><circle cx="747.9" cy="741.5" r="1.333"/><circle cx="560.5" cy="845.8" r="1.333"/><circle cx="554.3" cy="712.4" r="1.333"/><circle cx="684.2" cy="769.2" r="1.333"/><circle cx="542.4" cy="807.8" r="1.333"/><circle cx="790.9" cy="580.9" r="1.333"/><circle cx="501.4" cy="861.4" r="1.333"/><circle cx="549.9" cy="766.6" r="1.333"/><circle cx="604.6" cy="754.2" r="1.333"/><circle cx="389.7" cy="828.4" r="1.333"/><circle cx="847.2" cy="755.8" r="1.333"/><circle cx="685.7" cy="729.8" r="1.333"/><circle cx="921.2" cy="506.5" r="1.333"/><circle cx="835.9" cy="680.4" r="1.333"/><circle cx="732.8" cy="720.7" r="1.333"/><circle cx="671.4" cy="720.5" r="1.333"/><circle cx="901.3" cy="490.0" r="1.333"/><circle cx="754.0" cy="632.1" r="1.333"/><circle cx="673.0" cy="747.8" r="1.333"/><circle cx="1021.7" cy="480.4" r="1.333"/><circle cx="770.8" cy="755.6" r="1.333"/><circle cx="842.9" cy="717.4" r="1.333"/><circle cx="935.7" cy="482.6" r="1.333"/><circle cx="530.2" cy="781.3" r="1.333"/><circle cx="797.0" cy="603.1" r="1.333"/><circle cx="1007.4" cy="510.2" r="1.333"/><circle cx="981.6" cy="478.2" r="1.333"/><circle cx="746.9" cy="627.8" r="1.333"/><circle cx="872.1" cy="604.3" r="1.333"/><circle cx="727.6" cy="684.1" r="1.333"/><circle cx="819.6" cy="711.9" r="1.333"/><circle cx="867.2" cy="637.4" r="1.333"/><circle cx="613.6" cy="712.7" r="1.333"/><circle cx="929.8" cy="538.1" r="1.333"/><circle cx="981.8" cy="539.4" r="1.333"/><circle cx="1026.9" cy="559.3" r="1.333"/><circle cx="978.1" cy="475.8" r="1.333"/><circle cx="640.3" cy="682.9" r="1.333"/><circle cx="851.6" cy="771.3" r="1.333"/><circle cx="769.8" cy="666.0" r="1.333"/><circle cx="854.2" cy="601.4" r="1.333"/><circle cx="730.5" cy="657.2" r="1.333"/><circle cx="751.6" cy="624.7" r="1.333"/><circle cx="652.6" cy="768.3" r="1.333"/><circle cx="754.7" cy="652.5" r="1.333"/><circle cx="965.1" cy="484.1" r="1.333"/><circle cx="703.0" cy="675.2" r="1.333"/><circle cx="948.9" cy="536.5" r="1.333"/><circle cx="596.2" cy="763.0" r="1.333"/><circle cx="733.3" cy="635.3" r="1.333"/><circle cx="890.7" cy="569.3" r="1.333"/><circle cx="694.4" cy="710.2" r="1.333"/><circle cx="365.5" cy="868.3" r="1.333"/><circle cx="590.2" cy="813.6" r="1.333"/><circle cx="723.2" cy="692.4" r="1.333"/><circle cx="594.1" cy="737.7" r="1.333"/><circle cx="757.9" cy="670.1" r="1.333"/><circle cx="559.1" cy="742.2" r="1.333"/><circle cx="597.0" cy="735.6" r="1.333"/><circle cx="397.2" cy="849.3" r="1.333"/><circle cx="703.4" cy="714.0" r="1.333"/><circle cx="406.9" cy="879.8" r="1.333"/><circle cx="599.6" cy="740.7" r="1.333"/><circle cx="395.5" cy="844.6" r="1.333"/><circle cx="537.1" cy="780.6" r="1.333"/><circle cx="668.3" cy="768.4" r="1.333"/><circle cx="494.4" cy="812.3" r="1.333"/><circle cx="661.2" cy="679.0" r="1.333"/><circle cx="558.8" cy="791.4" r="1.333"/><circle cx="500.7" cy="783.2" r="1.333"/><circle cx="580.6" cy="730.0" r="1.333"/><circle cx="654.3" cy="675.8" r="1.333"/><circle cx="864.1" cy="601.6" r="1.333"/><circle cx="534.7" cy="773.6" r="1.333"/><circle cx="578.2" cy="738.6" r="1.333"/><circle cx="638.5" cy="716.6" r="1.333"/><circle cx="562.0" cy="813.1" r="1.333"/><circle cx="478.4" cy="862.5" r="1.333"/><circle cx="569.7" cy="697.5" r="1.333"/><circle cx="521.9" cy="828.6" r="1.333"/><circle cx="756.3" cy="650.0" r="1.333"/><circle cx="536.5" cy="763.7" r="1.333"/><circle cx="532.3" cy="830.3" r="1.333"/><circle cx="512.1" cy="838.8" r="1.333"/><circle cx="819.1" cy="582.8" r="1.333"/><circle cx="704.2" cy="732.8" r="1.333"/><circle cx="942.6" cy="528.2" r="1.333"/><circle cx="501.8" cy="816.6" r="1.333"/><circle cx="683.8" cy="759.2" r="1.333"/><circle cx="616.8" cy="719.2" r="1.333"/><circle cx="385.9" cy="863.4" r="1.333"/><circle cx="576.4" cy="711.2" r="1.333"/><circle cx="789.9" cy="605.3" r="1.333"/><circle cx="610.6" cy="714.4" r="1.333"/><circle cx="744.7" cy="666.1" r="1.333"/><circle cx="929.4" cy="528.7" r="1.333"/><circle cx="623.3" cy="786.9" r="1.333"/><circle cx="1005.3" cy="544.9" r="1.333"/><circle cx="926.7" cy="561.8" r="1.333"/><circle cx="601.4" cy="743.6" r="1.333"/><circle cx="862.0" cy="602.8" r="1.333"/><circle cx="823.9" cy="603.1" r="1.333"/><circle cx="680.8" cy="766.8" r="1.333"/><circle cx="941.4" cy="513.2" r="1.333"/><circle cx="905.4" cy="542.6" r="1.333"/><circle cx="772.8" cy="765.0" r="1.333"/><circle cx="710.2" cy="660.0" r="1.333"/><circle cx="803.7" cy="672.5" r="1.333"/><circle cx="604.3" cy="744.6" r="1.333"/><circle cx="763.6" cy="679.1" r="1.333"/><circle cx="785.8" cy="618.6" r="1.333"/><circle cx="717.6" cy="619.3" r="1.333"/><circle cx="482.0" cy="812.2" r="1.333"/><circle cx="877.4" cy="603.8" r="1.333"/><circle cx="1021.8" cy="537.5" r="1.333"/><circle cx="699.9" cy="773.1" r="1.333"/><circle cx="1021.1" cy="515.8" r="1.333"/><circle cx="855.6" cy="633.5" r="1.333"/><circle cx="1017.8" cy="503.9" r="1.333"/><circle cx="577.4" cy="741.9" r="1.333"/><circle cx="731.6" cy="607.5" r="1.333"/><circle cx="746.1" cy="659.3" r="1.333"/><circle cx="675.0" cy="710.5" r="1.333"/><circle cx="870.9" cy="662.0" r="1.333"/><circle cx="790.1" cy="592.5" r="1.333"/><circle cx="576.1" cy="758.4" r="1.333"/><circle cx="697.8" cy="758.0" r="1.333"/><circle cx="813.4" cy="621.9" r="1.333"/><circle cx="742.3" cy="647.0" r="1.333"/><circle cx="785.0" cy="607.8" r="1.333"/><circle cx="755.1" cy="696.2" r="1.333"/><circle cx="706.6" cy="643.5" r="1.333"/><circle cx="646.2" cy="706.1" r="1.333"/><circle cx="991.5" cy="495.0" r="1.333"/><circle cx="742.2" cy="595.9" r="1.333"/><circle cx="822.9" cy="640.1" r="1.333"/><circle cx="875.1" cy="569.6" r="1.333"/><circle cx="964.9" cy="503.8" r="1.333"/><circle cx="620.5" cy="760.8" r="1.333"/><circle cx="887.4" cy="535.9" r="1.333"/><circle cx="491.9" cy="837.4" r="1.333"/><circle cx="643.1" cy="707.6" r="1.333"/><circle cx="616.3" cy="741.0" r="1.333"/><circle cx="903.5" cy="497.1" r="1.333"/><circle cx="716.4" cy="680.2" r="1.333"/><circle cx="626.9" cy="753.8" r="1.333"/><circle cx="594.0" cy="713.3" r="1.333"/><circle cx="752.2" cy="690.7" r="1.333"/><circle cx="757.8" cy="659.7" r="1.333"/><circle cx="718.7" cy="647.9" r="1.333"/><circle cx="406.7" cy="822.2" r="1.333"/><circle cx="767.7" cy="600.4" r="1.333"/><circle cx="928.3" cy="507.2" r="1.333"/><circle cx="642.9" cy="698.8" r="1.333"/><circle cx="798.0" cy="616.6" r="1.333"/><circle cx="911.6" cy="485.3" r="1.333"/><circle cx="706.1" cy="660.2" r="1.333"/><circle cx="748.9" cy="703.5" r="1.333"/><circle cx="776.9" cy="638.4" r="1.333"/><circle cx="996.2" cy="487.1" r="1.333"/><circle cx="504.8" cy="808.3" r="1.333"/><circle cx="662.2" cy="772.8" r="1.333"/><circle cx="490.5" cy="839.2" r="1.333"/><circle cx="761.8" cy="622.0" r="1.333"/><circle cx="751.4" cy="674.3" r="1.333"/><circle cx="741.0" cy="724.3" r="1.333"/><circle cx="486.7" cy="871.8" r="1.333"/><circle cx="690.7" cy="738.7" r="1.333"/><circle cx="630.3" cy="729.6" r="1.333"/><circle cx="786.8" cy="580.3" r="1.333"/><circle cx="619.9" cy="744.6" r="1.333"/><circle cx="999.4" cy="526.9" r="1.333"/><circle cx="810.7" cy="694.8" r="1.333"/><circle cx="567.7" cy="743.1" r="1.333"/><circle cx="853.5" cy="593.8" r="1.333"/><circle cx="981.2" cy="480.3" r="1.333"/><circle cx="831.3" cy="627.0" r="1.333"/><circle cx="737.2" cy="678.2" r="1.333"/><circle cx="737.8" cy="719.2" r="1.333"/><circle cx="716.5" cy="572.4" r="1.333"/><circle cx="517.5" cy="789.8" r="1.333"/><circle cx="530.7" cy="796.2" r="1.333"/><circle cx="979.1" cy="537.7" r="1.333"/><circle cx="762.4" cy="650.5" r="1.333"/><circle cx="576.5" cy="865.7" r="1.333"/><circle cx="675.5" cy="683.0" r="1.333"/><circle cx="628.9" cy="700.5" r="1.333"/><circle cx="877.0" cy="612.8" r="1.333"/><circle cx="643.4" cy="710.6" r="1.333"/><circle cx="588.4" cy="755.8" r="1.333"/><circle cx="742.0" cy="747.8" r="1.333"/><circle cx="823.7" cy="668.5" r="1.333"/><circle cx="728.5" cy="717.2" r="1.333"/><circle cx="637.0" cy="765.8" r="1.333"/><circle cx="874.4" cy="628.9" r="1.333"/><circle cx="703.2" cy="701.3" r="1.333"/><circle cx="965.5" cy="499.9" r="1.333"/><circle cx="844.7" cy="609.1" r="1.333"/><circle cx="907.7" cy="485.5" r="1.333"/><circle cx="912.0" cy="556.7" r="1.333"/><circle cx="561.8" cy="780.9" r="1.333"/><circle cx="685.3" cy="711.2" r="1.333"/><circle cx="808.7" cy="705.5" r="1.333"/><circle cx="527.5" cy="767.8" r="1.333"/><circle cx="600.7" cy="847.6" r="1.333"/><circle cx="523.5" cy="752.3" r="1.333"/><circle cx="714.9" cy="676.7" r="1.333"/><circle cx="579.2" cy="680.8" r="1.333"/><circle cx="728.5" cy="620.0" r="1.333"/><circle cx="762.1" cy="754.9" r="1.333"/><circle cx="465.2" cy="785.2" r="1.333"/><circle cx="790.6" cy="653.0" r="1.333"/><circle cx="534.3" cy="826.2" r="1.333"/><circle cx="1052.8" cy="563.0" r="1.333"/><circle cx="862.1" cy="627.7" r="1.333"/><circle cx="809.4" cy="740.0" r="1.333"/><circle cx="812.7" cy="692.9" r="1.333"/><circle cx="827.4" cy="671.5" r="1.333"/><circle cx="617.1" cy="744.7" r="1.333"/><circle cx="1042.6" cy="475.8" r="1.333"/><circle cx="857.2" cy="590.0" r="1.333"/><circle cx="674.1" cy="692.3" r="1.333"/><circle cx="695.9" cy="711.6" r="1.333"/><circle cx="805.9" cy="631.1" r="1.333"/><circle cx="629.4" cy="717.5" r="1.333"/><circle cx="617.2" cy="684.1" r="1.333"/><circle cx="750.2" cy="578.3" r="1.333"/><circle cx="597.5" cy="742.5" r="1.333"/><circle cx="989.0" cy="514.4" r="1.333"/><circle cx="769.5" cy="756.6" r="1.333"/><circle cx="942.0" cy="501.9" r="1.333"/><circle cx="793.5" cy="638.8" r="1.333"/><circle cx="723.6" cy="675.5" r="1.333"/><circle cx="983.4" cy="530.0" r="1.333"/><circle cx="697.4" cy="612.9" r="1.333"/><circle cx="948.8" cy="545.5" r="1.333"/><circle cx="997.9" cy="561.3" r="1.333"/><circle cx="738.8" cy="724.6" r="1.333"/><circle cx="1038.7" cy="521.9" r="1.333"/><circle cx="603.7" cy="776.1" r="1.333"/><circle cx="825.0" cy="615.1" r="1.333"/><circle cx="741.6" cy="651.4" r="1.333"/><circle cx="485.5" cy="853.9" r="1.333"/><circle cx="1009.0" cy="475.6" r="1.333"/><circle cx="498.9" cy="823.6" r="1.333"/><circle cx="508.6" cy="821.9" r="1.333"/><circle cx="608.8" cy="727.3" r="1.333"/><circle cx="854.8" cy="571.0" r="1.333"/><circle cx="891.1" cy="543.6" r="1.333"/><circle cx="413.2" cy="833.9" r="1.333"/><circle cx="619.0" cy="797.4" r="1.333"/><circle cx="698.9" cy="685.3" r="1.333"/><circle cx="737.1" cy="619.5" r="1.333"/><circle cx="678.8" cy="685.5" r="1.333"/><circle cx="652.4" cy="723.9" r="1.333"/><circle cx="393.2" cy="845.7" r="1.333"/><circle cx="436.5" cy="848.9" r="1.333"/><circle cx="745.7" cy="666.4" r="1.333"/><circle cx="680.0" cy="678.0" r="1.333"/><circle cx="443.4" cy="808.2" r="1.333"/><circle cx="449.1" cy="820.8" r="1.333"/><circle cx="616.3" cy="732.2" r="1.333"/><circle cx="571.6" cy="843.8" r="1.333"/><circle cx="836.5" cy="572.4" r="1.333"/><circle cx="581.1" cy="764.7" r="1.333"/><circle cx="746.9" cy="620.1" r="1.333"/><circle cx="682.1" cy="744.3" r="1.333"/><circle cx="739.0" cy="621.0" r="1.333"/><circle cx="450.4" cy="832.0" r="1.333"/><circle cx="586.2" cy="725.8" r="1.333"/><circle cx="725.7" cy="653.3" r="1.333"/><circle cx="887.0" cy="472.4" r="1.333"/><circle cx="663.5" cy="831.1" r="1.333"/><circle cx="722.0" cy="633.6" r="1.333"/><circle cx="944.4" cy="510.0" r="1.333"/><circle cx="574.8" cy="767.1" r="1.333"/><circle cx="715.0" cy="686.9" r="1.333"/><circle cx="597.2" cy="731.7" r="1.333"/><circle cx="656.1" cy="798.5" r="1.333"/><circle cx="518.5" cy="781.2" r="1.333"/><circle cx="715.2" cy="687.4" r="1.333"/><circle cx="670.1" cy="728.9" r="1.333"/><circle cx="556.2" cy="752.1" r="1.333"/><circle cx="728.1" cy="695.0" r="1.333"/><circle cx="736.2" cy="700.8" r="1.333"/><circle cx="421.4" cy="861.2" r="1.333"/><circle cx="473.5" cy="864.0" r="1.333"/><circle cx="732.8" cy="648.4" r="1.333"/><circle cx="897.5" cy="540.9" r="1.333"/><circle cx="633.2" cy="727.2" r="1.333"/><circle cx="816.3" cy="603.9" r="1.333"/><circle cx="1031.2" cy="468.2" r="1.333"/><circle cx="761.4" cy="613.4" r="1.333"/><circle cx="749.0" cy="622.6" r="1.333"/><circle cx="959.6" cy="471.1" r="1.333"/><circle cx="574.7" cy="732.8" r="1.333"/><circle cx="612.1" cy="675.1" r="1.333"/><circle cx="654.3" cy="872.8" r="1.333"/><circle cx="726.4" cy="692.0" r="1.333"/><circle cx="684.4" cy="715.4" r="1.333"/><circle cx="629.5" cy="765.7" r="1.333"/><circle cx="408.0" cy="789.9" r="1.333"/><circle cx="703.6" cy="586.5" r="1.333"/><circle cx="413.6" cy="857.5" r="1.333"/><circle cx="520.5" cy="826.6" r="1.333"/><circle cx="734.1" cy="660.4" r="1.333"/><circle cx="973.4" cy="521.3" r="1.333"/><circle cx="646.7" cy="703.6" r="1.333"/><circle cx="859.9" cy="623.0" r="1.333"/><circle cx="696.0" cy="680.6" r="1.333"/><circle cx="714.7" cy="720.3" r="1.333"/><circle cx="526.3" cy="718.3" r="1.333"/><circle cx="624.5" cy="759.0" r="1.333"/><circle cx="455.7" cy="839.8" r="1.333"/><circle cx="502.7" cy="794.8" r="1.333"/><circle cx="1015.5" cy="468.5" r="1.333"/><circle cx="639.5" cy="827.2" r="1.333"/><circle cx="705.8" cy="746.5" r="1.333"/><circle cx="921.3" cy="562.5" r="1.333"/><circle cx="744.7" cy="728.4" r="1.333"/><circle cx="529.4" cy="756.0" r="1.333"/><circle cx="792.5" cy="601.4" r="1.333"/><circle cx="554.8" cy="867.1" r="1.333"/><circle cx="826.8" cy="617.7" r="1.333"/><circle cx="886.1" cy="527.4" r="1.333"/><circle cx="691.4" cy="721.5" r="1.333"/><circle cx="702.5" cy="776.0" r="1.333"/><circle cx="955.4" cy="533.9" r="1.333"/><circle cx="634.8" cy="756.2" r="1.333"/><circle cx="795.2" cy="672.7" r="1.333"/><circle cx="813.9" cy="578.5" r="1.333"/><circle cx="623.6" cy="711.3" r="1.333"/><circle cx="938.6" cy="533.0" r="1.333"/><circle cx="693.0" cy="711.4" r="1.333"/><circle cx="776.2" cy="580.2" r="1.333"/><circle cx="795.9" cy="575.2" r="1.333"/><circle cx="476.0" cy="832.4" r="1.333"/><circle cx="692.3" cy="757.6" r="1.333"/><circle cx="933.4" cy="532.4" r="1.333"/><circle cx="621.4" cy="692.9" r="1.333"/><circle cx="656.5" cy="676.6" r="1.333"/><circle cx="645.7" cy="696.5" r="1.333"/><circle cx="745.7" cy="662.1" r="1.333"/><circle cx="840.6" cy="588.8" r="1.333"/><circle cx="760.8" cy="677.2" r="1.333"/><circle cx="742.1" cy="614.7" r="1.333"/><circle cx="871.3" cy="584.5" r="1.333"/><circle cx="1009.0" cy="496.2" r="1.333"/><circle cx="498.0" cy="820.3" r="1.333"/><circle cx="727.3" cy="762.6" r="1.333"/><circle cx="701.3" cy="615.9" r="1.333"/><circle cx="758.8" cy="732.1" r="1.333"/><circle cx="1040.3" cy="488.9" r="1.333"/><circle cx="672.1" cy="751.9" r="1.333"/><circle cx="631.5" cy="771.6" r="1.333"/><circle cx="711.7" cy="732.3" r="1.333"/><circle cx="750.8" cy="636.7" r="1.333"/><circle cx="887.4" cy="565.0" r="1.333"/><circle cx="527.2" cy="805.9" r="1.333"/><circle cx="794.8" cy="652.0" r="1.333"/><circle cx="700.7" cy="684.8" r="1.333"/><circle cx="998.7" cy="496.8" r="1.333"/><circle cx="676.8" cy="774.6" r="1.333"/><circle cx="608.2" cy="755.7" r="1.333"/><circle cx="533.8" cy="860.8" r="1.333"/><circle cx="638.6" cy="713.0" r="1.333"/><circle cx="436.4" cy="880.3" r="1.333"/><circle cx="918.6" cy="478.2" r="1.333"/><circle cx="980.3" cy="536.7" r="1.333"/><circle cx="782.9" cy="756.8" r="1.333"/><circle cx="759.8" cy="610.1" r="1.333"/><circle cx="834.4" cy="610.7" r="1.333"/><circle cx="854.3" cy="594.1" r="1.333"/><circle cx="464.3" cy="866.4" r="1.333"/><circle cx="1038.4" cy="517.6" r="1.333"/><circle cx="1017.9" cy="519.1" r="1.333"/><circle cx="793.1" cy="739.5" r="1.333"/><circle cx="723.5" cy="691.4" r="1.333"/><circle cx="630.0" cy="715.1" r="1.333"/><circle cx="803.5" cy="622.2" r="1.333"/><circle cx="580.9" cy="720.9" r="1.333"/><circle cx="738.1" cy="615.9" r="1.333"/><circle cx="1030.4" cy="541.4" r="1.333"/><circle cx="856.1" cy="591.3" r="1.333"/><circle cx="524.1" cy="833.9" r="1.333"/><circle cx="763.0" cy="584.5" r="1.333"/><circle cx="575.9" cy="776.8" r="1.333"/><circle cx="799.5" cy="634.3" r="1.333"/><circle cx="671.2" cy="695.9" r="1.333"/><circle cx="612.7" cy="740.0" r="1.333"/><circle cx="963.4" cy="500.3" r="1.333"/><circle cx="578.6" cy="781.0" r="1.333"/><circle cx="437.2" cy="802.8" r="1.333"/><circle cx="687.1" cy="779.7" r="1.333"/><circle cx="803.5" cy="665.8" r="1.333"/><circle cx="823.5" cy="578.2" r="1.333"/><circle cx="807.5" cy="617.4" r="1.333"/><circle cx="835.8" cy="609.9" r="1.333"/><circle cx="688.5" cy="850.0" r="1.333"/><circle cx="709.4" cy="685.4" r="1.333"/><circle cx="860.2" cy="725.6" r="1.333"/><circle cx="742.7" cy="750.7" r="1.333"/><circle cx="630.0" cy="782.7" r="1.333"/><circle cx="688.0" cy="760.4" r="1.333"/><circle cx="733.0" cy="652.3" r="1.333"/><circle cx="363.5" cy="867.9" r="1.333"/><circle cx="1009.5" cy="505.0" r="1.333"/><circle cx="388.4" cy="845.2" r="1.333"/><circle cx="431.5" cy="849.8" r="1.333"/><circle cx="681.6" cy="734.4" r="1.333"/><circle cx="804.4" cy="596.3" r="1.333"/><circle cx="967.9" cy="545.1" r="1.333"/><circle cx="772.8" cy="671.3" r="1.333"/><circle cx="438.2" cy="841.7" r="1.333"/><circle cx="558.2" cy="796.1" r="1.333"/><circle cx="742.7" cy="659.9" r="1.333"/><circle cx="634.6" cy="701.3" r="1.333"/><circle cx="859.1" cy="648.2" r="1.333"/><circle cx="621.8" cy="704.2" r="1.333"/><circle cx="644.0" cy="741.8" r="1.333"/><circle cx="392.5" cy="874.3" r="1.333"/><circle cx="441.6" cy="864.1" r="1.333"/><circle cx="703.0" cy="679.6" r="1.333"/><circle cx="468.1" cy="841.0" r="1.333"/><circle cx="696.1" cy="707.0" r="1.333"/><circle cx="459.5" cy="808.0" r="1.333"/><circle cx="543.6" cy="809.1" r="1.333"/><circle cx="497.4" cy="844.4" r="1.333"/><circle cx="697.7" cy="758.0" r="1.333"/><circle cx="453.2" cy="865.6" r="1.333"/><circle cx="724.3" cy="594.5" r="1.333"/><circle cx="512.7" cy="793.1" r="1.333"/><circle cx="764.2" cy="640.4" r="1.333"/><circle cx="540.1" cy="757.5" r="1.333"/><circle cx="541.0" cy="744.6" r="1.333"/><circle cx="661.3" cy="720.1" r="1.333"/><circle cx="756.1" cy="638.4" r="1.333"/><circle cx="466.8" cy="812.7" r="1.333"/><circle cx="634.2" cy="722.1" r="1.333"/><circle cx="731.9" cy="677.4" r="1.333"/><circle cx="667.5" cy="815.6" r="1.333"/><circle cx="959.8" cy="539.2" r="1.333"/><circle cx="563.4" cy="789.5" r="1.333"/><circle cx="706.0" cy="663.1" r="1.333"/><circle cx="602.7" cy="737.1" r="1.333"/><circle cx="497.1" cy="823.6" r="1.333"/><circle cx="591.1" cy="810.6" r="1.333"/><circle cx="922.4" cy="544.7" r="1.333"/><circle cx="682.3" cy="715.2" r="1.333"/><circle cx="557.1" cy="757.7" r="1.333"/><circle cx="998.4" cy="492.7" r="1.333"/><circle cx="594.2" cy="777.7" r="1.333"/><circle cx="705.3" cy="723.3" r="1.333"/><circle cx="435.2" cy="879.3" r="1.333"/><circle cx="696.0" cy="712.6" r="1.333"/><circle cx="802.2" cy="633.0" r="1.333"/><circle cx="977.4" cy="489.6" r="1.333"/><circle cx="574.8" cy="755.6" r="1.333"/><circle cx="614.8" cy="733.8" r="1.333"/><circle cx="794.4" cy="626.3" r="1.333"/><circle cx="544.9" cy="877.2" r="1.333"/><circle cx="509.7" cy="791.5" r="1.333"/><circle cx="480.2" cy="838.5" r="1.333"/><circle cx="527.4" cy="780.1" r="1.333"/><circle cx="715.6" cy="663.1" r="1.333"/><circle cx="938.4" cy="539.6" r="1.333"/><circle cx="583.1" cy="845.2" r="1.333"/><circle cx="633.8" cy="698.6" r="1.333"/><circle cx="851.8" cy="587.8" r="1.333"/><circle cx="722.8" cy="665.5" r="1.333"/><circle cx="1024.4" cy="476.7" r="1.333"/><circle cx="637.0" cy="718.4" r="1.333"/><circle cx="647.7" cy="724.8" r="1.333"/><circle cx="721.2" cy="686.5" r="1.333"/><circle cx="910.6" cy="554.7" r="1.333"/><circle cx="670.2" cy="739.7" r="1.333"/><circle cx="597.2" cy="829.6" r="1.333"/><circle cx="560.8" cy="762.8" r="1.333"/><circle cx="549.9" cy="863.7" r="1.333"/><circle cx="608.3" cy="781.2" r="1.333"/><circle cx="562.6" cy="863.7" r="1.333"/><circle cx="853.0" cy="587.4" r="1.333"/><circle cx="970.0" cy="515.0" r="1.333"/><circle cx="684.3" cy="693.7" r="1.333"/><circle cx="1021.7" cy="494.7" r="1.333"/><circle cx="818.3" cy="767.0" r="1.333"/><circle cx="766.9" cy="672.4" r="1.333"/><circle cx="568.3" cy="737.9" r="1.333"/><circle cx="911.5" cy="539.8" r="1.333"/><circle cx="802.3" cy="606.7" r="1.333"/><circle cx="765.6" cy="711.1" r="1.333"/><circle cx="888.5" cy="540.0" r="1.333"/><circle cx="648.5" cy="697.6" r="1.333"/><circle cx="734.0" cy="623.7" r="1.333"/><circle cx="821.3" cy="609.6" r="1.333"/><circle cx="684.6" cy="690.8" r="1.333"/><circle cx="920.0" cy="553.6" r="1.333"/><circle cx="751.1" cy="701.4" r="1.333"/><circle cx="837.7" cy="603.7" r="1.333"/><circle cx="685.0" cy="810.3" r="1.333"/><circle cx="901.7" cy="532.8" r="1.333"/><circle cx="758.4" cy="628.1" r="1.333"/><circle cx="926.4" cy="543.6" r="1.333"/><circle cx="590.3" cy="847.3" r="1.333"/><circle cx="854.2" cy="651.6" r="1.333"/><circle cx="659.0" cy="754.4" r="1.333"/><circle cx="396.6" cy="881.0" r="1.333"/><circle cx="640.0" cy="697.9" r="1.333"/><circle cx="444.9" cy="816.3" r="1.333"/><circle cx="831.4" cy="644.3" r="1.333"/><circle cx="462.8" cy="814.7" r="1.333"/><circle cx="766.5" cy="662.4" r="1.333"/><circle cx="600.1" cy="767.2" r="1.333"/><circle cx="530.2" cy="796.6" r="1.333"/><circle cx="667.4" cy="748.0" r="1.333"/><circle cx="415.9" cy="854.9" r="1.333"/><circle cx="719.4" cy="695.9" r="1.333"/><circle cx="689.6" cy="714.6" r="1.333"/><circle cx="546.7" cy="770.5" r="1.333"/><circle cx="666.9" cy="747.5" r="1.333"/><circle cx="353.4" cy="874.6" r="1.333"/><circle cx="372.4" cy="849.9" r="1.333"/><circle cx="636.6" cy="789.8" r="1.333"/><circle cx="650.8" cy="751.7" r="1.333"/><circle cx="723.6" cy="686.4" r="1.333"/><circle cx="461.8" cy="811.4" r="1.333"/><circle cx="659.5" cy="700.9" r="1.333"/><circle cx="555.1" cy="809.2" r="1.333"/><circle cx="629.0" cy="769.1" r="1.333"/><circle cx="695.6" cy="838.0" r="1.333"/><circle cx="525.7" cy="780.1" r="1.333"/><circle cx="480.5" cy="846.8" r="1.333"/><circle cx="597.1" cy="815.0" r="1.333"/><circle cx="833.4" cy="656.0" r="1.333"/><circle cx="618.0" cy="694.3" r="1.333"/><circle cx="522.7" cy="746.7" r="1.333"/><circle cx="888.8" cy="553.1" r="1.333"/><circle cx="526.3" cy="852.9" r="1.333"/><circle cx="583.0" cy="776.4" r="1.333"/><circle cx="732.2" cy="651.1" r="1.333"/><circle cx="592.9" cy="838.5" r="1.333"/><circle cx="861.2" cy="593.3" r="1.333"/><circle cx="581.3" cy="780.5" r="1.333"/><circle cx="713.0" cy="759.4" r="1.333"/><circle cx="798.3" cy="594.6" r="1.333"/><circle cx="841.8" cy="595.2" r="1.333"/><circle cx="772.9" cy="632.2" r="1.333"/><circle cx="565.0" cy="757.4" r="1.333"/><circle cx="534.7" cy="737.2" r="1.333"/><circle cx="507.6" cy="828.7" r="1.333"/><circle cx="813.1" cy="588.2" r="1.333"/><circle cx="780.5" cy="620.6" r="1.333"/><circle cx="794.5" cy="612.5" r="1.333"/><circle cx="964.5" cy="535.3" r="1.333"/><circle cx="576.7" cy="779.0" r="1.333"/><circle cx="710.9" cy="665.4" r="1.333"/><circle cx="840.9" cy="584.0" r="1.333"/><circle cx="806.6" cy="682.3" r="1.333"/><circle cx="735.0" cy="677.9" r="1.333"/><circle cx="913.3" cy="557.4" r="1.333"/><circle cx="785.6" cy="631.2" r="1.333"/><circle cx="763.6" cy="602.6" r="1.333"/><circle cx="979.2" cy="520.2" r="1.333"/><circle cx="607.0" cy="706.9" r="1.333"/><circle cx="758.8" cy="727.1" r="1.333"/><circle cx="703.3" cy="633.3" r="1.333"/><circle cx="953.0" cy="488.1" r="1.333"/><circle cx="665.6" cy="678.7" r="1.333"/><circle cx="721.3" cy="726.5" r="1.333"/><circle cx="752.4" cy="714.7" r="1.333"/><circle cx="579.2" cy="752.1" r="1.333"/><circle cx="809.3" cy="591.7" r="1.333"/><circle cx="985.5" cy="532.0" r="1.333"/><circle cx="841.0" cy="698.5" r="1.333"/><circle cx="520.0" cy="765.1" r="1.333"/><circle cx="363.5" cy="853.3" r="1.333"/><circle cx="574.3" cy="832.9" r="1.333"/><circle cx="595.3" cy="728.7" r="1.333"/><circle cx="853.7" cy="636.1" r="1.333"/><circle cx="591.4" cy="801.9" r="1.333"/><circle cx="468.1" cy="838.6" r="1.333"/><circle cx="571.5" cy="749.1" r="1.333"/><circle cx="419.7" cy="834.7" r="1.333"/><circle cx="780.4" cy="689.4" r="1.333"/><circle cx="410.0" cy="842.5" r="1.333"/><circle cx="699.6" cy="679.7" r="1.333"/><circle cx="559.9" cy="769.2" r="1.333"/><circle cx="530.9" cy="805.9" r="1.333"/><circle cx="574.2" cy="799.1" r="1.333"/><circle cx="707.7" cy="688.0" r="1.333"/><circle cx="658.5" cy="745.3" r="1.333"/><circle cx="516.5" cy="733.8" r="1.333"/><circle cx="470.7" cy="805.3" r="1.333"/><circle cx="597.1" cy="780.1" r="1.333"/><circle cx="360.4" cy="878.0" r="1.333"/><circle cx="651.6" cy="747.3" r="1.333"/><circle cx="593.4" cy="775.4" r="1.333"/><circle cx="731.1" cy="684.4" r="1.333"/><circle cx="458.9" cy="804.1" r="1.333"/><circle cx="588.9" cy="773.2" r="1.333"/><circle cx="550.9" cy="813.3" r="1.333"/><circle cx="652.8" cy="786.5" r="1.333"/><circle cx="516.7" cy="762.9" r="1.333"/><circle cx="478.4" cy="792.3" r="1.333"/><circle cx="798.9" cy="633.9" r="1.333"/><circle cx="788.3" cy="615.7" r="1.333"/><circle cx="488.9" cy="827.2" r="1.333"/><circle cx="460.4" cy="788.5" r="1.333"/><circle cx="533.1" cy="855.3" r="1.333"/><circle cx="772.5" cy="683.6" r="1.333"/><circle cx="595.7" cy="733.5" r="1.333"/><circle cx="468.4" cy="786.8" r="1.333"/><circle cx="536.2" cy="828.1" r="1.333"/><circle cx="661.9" cy="673.5" r="1.333"/><circle cx="540.5" cy="852.2" r="1.333"/><circle cx="816.7" cy="615.7" r="1.333"/><circle cx="538.8" cy="780.3" r="1.333"/><circle cx="409.0" cy="809.2" r="1.333"/><circle cx="672.8" cy="698.3" r="1.333"/><circle cx="720.5" cy="711.9" r="1.333"/><circle cx="636.1" cy="726.7" r="1.333"/><circle cx="744.9" cy="629.3" r="1.333"/><circle cx="615.6" cy="770.9" r="1.333"/><circle cx="626.8" cy="727.7" r="1.333"/><circle cx="575.5" cy="802.5" r="1.333"/><circle cx="476.4" cy="846.2" r="1.333"/><circle cx="478.3" cy="779.9" r="1.333"/><circle cx="474.1" cy="788.6" r="1.333"/><circle cx="502.1" cy="787.4" r="1.333"/><circle cx="761.1" cy="746.5" r="1.333"/><circle cx="508.2" cy="803.5" r="1.333"/><circle cx="689.1" cy="737.1" r="1.333"/><circle cx="569.5" cy="811.4" r="1.333"/><circle cx="573.0" cy="837.9" r="1.333"/><circle cx="666.4" cy="723.6" r="1.333"/><circle cx="536.8" cy="807.8" r="1.333"/><circle cx="410.6" cy="868.1" r="1.333"/><circle cx="653.4" cy="751.4" r="1.333"/><circle cx="446.1" cy="819.4" r="1.333"/><circle cx="757.4" cy="688.3" r="1.333"/><circle cx="667.5" cy="736.1" r="1.333"/><circle cx="698.6" cy="628.4" r="1.333"/><circle cx="435.4" cy="833.5" r="1.333"/><circle cx="686.5" cy="684.6" r="1.333"/><circle cx="674.6" cy="711.6" r="1.333"/><circle cx="583.4" cy="803.2" r="1.333"/><circle cx="770.1" cy="741.6" r="1.333"/><circle cx="596.8" cy="784.0" r="1.333"/><circle cx="570.3" cy="787.2" r="1.333"/><circle cx="755.3" cy="668.6" r="1.333"/><circle cx="841.5" cy="570.9" r="1.333"/><circle cx="457.3" cy="846.6" r="1.333"/><circle cx="787.6" cy="652.0" r="1.333"/><circle cx="443.9" cy="795.2" r="1.333"/><circle cx="374.4" cy="848.3" r="1.333"/><circle cx="759.2" cy="626.9" r="1.333"/><circle cx="435.4" cy="857.9" r="1.333"/><circle cx="693.4" cy="733.5" r="1.333"/><circle cx="869.3" cy="579.5" r="1.333"/><circle cx="581.7" cy="819.5" r="1.333"/><circle cx="494.5" cy="795.6" r="1.333"/><circle cx="694.7" cy="698.3" r="1.333"/><circle cx="833.3" cy="657.2" r="1.333"/><circle cx="571.8" cy="763.1" r="1.333"/><circle cx="761.3" cy="608.9" r="1.333"/><circle cx="668.9" cy="698.0" r="1.333"/><circle cx="462.5" cy="787.5" r="1.333"/><circle cx="410.8" cy="877.7" r="1.333"/><circle cx="745.7" cy="639.7" r="1.333"/><circle cx="488.6" cy="860.3" r="1.333"/><circle cx="908.3" cy="529.4" r="1.333"/><circle cx="547.6" cy="761.0" r="1.333"/><circle cx="770.1" cy="629.6" r="1.333"/><circle cx="460.9" cy="798.6" r="1.333"/><circle cx="606.3" cy="684.2" r="1.333"/><circle cx="591.7" cy="765.8" r="1.333"/><circle cx="412.3" cy="818.0" r="1.333"/><circle cx="651.2" cy="822.0" r="1.333"/><circle cx="724.3" cy="744.4" r="1.333"/><circle cx="764.0" cy="654.6" r="1.333"/><circle cx="454.8" cy="802.1" r="1.333"/><circle cx="540.3" cy="855.8" r="1.333"/><circle cx="481.7" cy="846.6" r="1.333"/><circle cx="417.3" cy="831.8" r="1.333"/><circle cx="590.5" cy="821.2" r="1.333"/><circle cx="765.4" cy="674.0" r="1.333"/><circle cx="979.3" cy="567.4" r="1.333"/><circle cx="675.6" cy="802.0" r="1.333"/><circle cx="662.2" cy="752.7" r="1.333"/><circle cx="454.5" cy="837.4" r="1.333"/><circle cx="838.0" cy="667.1" r="1.333"/><circle cx="861.5" cy="637.1" r="1.333"/><circle cx="544.9" cy="706.9" r="1.333"/><circle cx="780.7" cy="587.2" r="1.333"/><circle cx="815.5" cy="640.4" r="1.333"/><circle cx="401.7" cy="796.3" r="1.333"/><circle cx="952.1" cy="521.7" r="1.333"/><circle cx="570.8" cy="704.8" r="1.333"/><circle cx="774.7" cy="642.8" r="1.333"/><circle cx="598.9" cy="792.0" r="1.333"/><circle cx="711.4" cy="624.9" r="1.333"/><circle cx="744.7" cy="662.8" r="1.333"/><circle cx="864.2" cy="585.3" r="1.333"/><circle cx="794.9" cy="630.5" r="1.333"/><circle cx="524.9" cy="819.4" r="1.333"/><circle cx="510.7" cy="794.2" r="1.333"/><circle cx="736.6" cy="698.6" r="1.333"/><circle cx="445.1" cy="822.6" r="1.333"/><circle cx="627.5" cy="701.3" r="1.333"/><circle cx="664.5" cy="766.0" r="1.333"/><circle cx="599.9" cy="740.4" r="1.333"/><circle cx="456.5" cy="819.4" r="1.333"/><circle cx="1001.6" cy="475.1" r="1.333"/><circle cx="590.2" cy="734.5" r="1.333"/><circle cx="794.8" cy="637.5" r="1.333"/><circle cx="649.8" cy="709.9" r="1.333"/><circle cx="636.6" cy="687.8" r="1.333"/><circle cx="429.3" cy="870.5" r="1.333"/><circle cx="628.4" cy="744.2" r="1.333"/><circle cx="480.8" cy="811.0" r="1.333"/><circle cx="481.3" cy="825.6" r="1.333"/><circle cx="786.2" cy="676.7" r="1.333"/><circle cx="832.2" cy="577.6" r="1.333"/><circle cx="821.1" cy="603.2" r="1.333"/><circle cx="656.1" cy="853.2" r="1.333"/><circle cx="502.1" cy="794.8" r="1.333"/><circle cx="550.4" cy="784.1" r="1.333"/><circle cx="672.7" cy="682.2" r="1.333"/><circle cx="701.4" cy="630.2" r="1.333"/><circle cx="629.7" cy="727.1" r="1.333"/><circle cx="582.6" cy="828.3" r="1.333"/><circle cx="761.3" cy="676.8" r="1.333"/><circle cx="657.5" cy="707.6" r="1.333"/><circle cx="464.3" cy="820.4" r="1.333"/><circle cx="510.0" cy="803.7" r="1.333"/><circle cx="569.4" cy="833.9" r="1.333"/><circle cx="711.7" cy="649.1" r="1.333"/><circle cx="568.0" cy="757.5" r="1.333"/><circle cx="793.2" cy="570.0" r="1.333"/><circle cx="915.6" cy="507.9" r="1.333"/><circle cx="443.8" cy="829.4" r="1.333"/><circle cx="469.8" cy="839.4" r="1.333"/><circle cx="687.2" cy="686.0" r="1.333"/><circle cx="795.7" cy="730.7" r="1.333"/><circle cx="981.1" cy="475.0" r="1.333"/><circle cx="694.6" cy="746.7" r="1.333"/><circle cx="705.2" cy="715.3" r="1.333"/><circle cx="761.0" cy="603.4" r="1.333"/><circle cx="717.6" cy="621.9" r="1.333"/><circle cx="641.9" cy="698.1" r="1.333"/><circle cx="784.7" cy="685.6" r="1.333"/><circle cx="622.5" cy="769.5" r="1.333"/><circle cx="588.5" cy="743.8" r="1.333"/><circle cx="544.4" cy="795.6" r="1.333"/><circle cx="715.6" cy="650.7" r="1.333"/><circle cx="560.2" cy="789.9" r="1.333"/><circle cx="586.5" cy="708.0" r="1.333"/><circle cx="627.8" cy="717.2" r="1.333"/><circle cx="740.9" cy="725.2" r="1.333"/><circle cx="940.2" cy="467.0" r="1.333"/><circle cx="831.7" cy="628.5" r="1.333"/><circle cx="600.6" cy="739.8" r="1.333"/><circle cx="702.8" cy="692.0" r="1.333"/><circle cx="506.6" cy="850.1" r="1.333"/><circle cx="504.7" cy="836.0" r="1.333"/><circle cx="474.2" cy="868.4" r="1.333"/><circle cx="564.4" cy="776.1" r="1.333"/><circle cx="802.7" cy="637.7" r="1.333"/><circle cx="550.1" cy="800.0" r="1.333"/><circle cx="473.7" cy="815.3" r="1.333"/><circle cx="442.5" cy="871.4" r="1.333"/><circle cx="536.1" cy="841.6" r="1.333"/><circle cx="910.4" cy="547.5" r="1.333"/><circle cx="486.2" cy="808.8" r="1.333"/><circle cx="589.5" cy="697.5" r="1.333"/><circle cx="630.4" cy="783.7" r="1.333"/><circle cx="623.5" cy="880.5" r="1.333"/><circle cx="658.0" cy="752.5" r="1.333"/><circle cx="679.7" cy="800.4" r="1.333"/><circle cx="514.1" cy="873.2" r="1.333"/><circle cx="765.8" cy="614.7" r="1.333"/><circle cx="430.8" cy="840.0" r="1.333"/><circle cx="592.3" cy="688.3" r="1.333"/><circle cx="802.1" cy="651.9" r="1.333"/><circle cx="1023.6" cy="502.4" r="1.333"/><circle cx="698.2" cy="655.0" r="1.333"/><circle cx="784.9" cy="615.7" r="1.333"/><circle cx="469.0" cy="777.9" r="1.333"/><circle cx="412.4" cy="855.9" r="1.333"/><circle cx="586.4" cy="733.0" r="1.333"/><circle cx="788.2" cy="698.3" r="1.333"/><circle cx="481.9" cy="796.7" r="1.333"/><circle cx="405.1" cy="798.9" r="1.333"/><circle cx="656.8" cy="728.2" r="1.333"/><circle cx="690.1" cy="766.8" r="1.333"/><circle cx="359.2" cy="878.6" r="1.333"/><circle cx="603.4" cy="722.6" r="1.333"/><circle cx="554.2" cy="722.3" r="1.333"/><circle cx="811.4" cy="643.0" r="1.333"/><circle cx="419.7" cy="880.1" r="1.333"/><circle cx="419.6" cy="846.8" r="1.333"/><circle cx="536.5" cy="781.0" r="1.333"/><circle cx="728.4" cy="669.3" r="1.333"/><circle cx="475.2" cy="826.9" r="1.333"/><circle cx="459.5" cy="817.9" r="1.333"/><circle cx="769.9" cy="625.0" r="1.333"/><circle cx="395.6" cy="846.8" r="1.333"/><circle cx="609.7" cy="814.6" r="1.333"/><circle cx="374.8" cy="866.9" r="1.333"/><circle cx="613.4" cy="718.9" r="1.333"/><circle cx="458.9" cy="822.7" r="1.333"/><circle cx="661.7" cy="676.2" r="1.333"/><circle cx="659.7" cy="694.8" r="1.333"/><circle cx="628.1" cy="732.4" r="1.333"/><circle cx="560.5" cy="749.4" r="1.333"/><circle cx="444.9" cy="845.2" r="1.333"/><circle cx="436.8" cy="827.1" r="1.333"/><circle cx="529.0" cy="760.9" r="1.333"/><circle cx="708.2" cy="714.2" r="1.333"/><circle cx="548.8" cy="779.7" r="1.333"/><circle cx="680.7" cy="683.8" r="1.333"/><circle cx="380.3" cy="847.7" r="1.333"/><circle cx="557.3" cy="758.6" r="1.333"/><circle cx="577.6" cy="860.8" r="1.333"/><circle cx="645.2" cy="754.0" r="1.333"/><circle cx="585.8" cy="735.3" r="1.333"/><circle cx="435.8" cy="866.4" r="1.333"/><circle cx="687.6" cy="693.0" r="1.333"/><circle cx="340.1" cy="880.1" r="1.333"/><circle cx="675.4" cy="728.5" r="1.333"/><circle cx="527.7" cy="778.2" r="1.333"/><circle cx="698.4" cy="664.1" r="1.333"/><circle cx="722.9" cy="656.8" r="1.333"/><circle cx="679.9" cy="709.6" r="1.333"/><circle cx="920.2" cy="533.2" r="1.333"/><circle cx="431.0" cy="829.4" r="1.333"/><circle cx="640.3" cy="749.7" r="1.333"/><circle cx="788.4" cy="613.0" r="1.333"/><circle cx="491.2" cy="800.8" r="1.333"/><circle cx="801.3" cy="606.3" r="1.333"/><circle cx="579.7" cy="746.8" r="1.333"/><circle cx="615.4" cy="758.2" r="1.333"/><circle cx="741.7" cy="642.3" r="1.333"/><circle cx="526.4" cy="793.3" r="1.333"/><circle cx="742.6" cy="648.0" r="1.333"/><circle cx="481.8" cy="808.1" r="1.333"/><circle cx="883.4" cy="543.2" r="1.333"/><circle cx="560.8" cy="788.7" r="1.333"/><circle cx="980.6" cy="565.1" r="1.333"/><circle cx="595.6" cy="781.1" r="1.333"/><circle cx="809.1" cy="678.9" r="1.333"/><circle cx="419.1" cy="810.9" r="1.333"/><circle cx="521.0" cy="801.3" r="1.333"/><circle cx="818.9" cy="657.1" r="1.333"/><circle cx="616.4" cy="758.0" r="1.333"/><circle cx="864.5" cy="621.6" r="1.333"/><circle cx="611.9" cy="822.2" r="1.333"/><circle cx="408.6" cy="839.6" r="1.333"/><circle cx="709.3" cy="665.4" r="1.333"/><circle cx="730.9" cy="666.4" r="1.333"/><circle cx="764.0" cy="722.9" r="1.333"/><circle cx="447.4" cy="869.6" r="1.333"/><circle cx="501.1" cy="803.2" r="1.333"/><circle cx="737.5" cy="745.5" r="1.333"/><circle cx="565.9" cy="739.4" r="1.333"/><circle cx="642.3" cy="729.1" r="1.333"/><circle cx="781.6" cy="660.0" r="1.333"/><circle cx="725.6" cy="715.1" r="1.333"/><circle cx="915.8" cy="504.8" r="1.333"/><circle cx="750.6" cy="713.1" r="1.333"/><circle cx="753.1" cy="691.2" r="1.333"/><circle cx="974.6" cy="499.0" r="1.333"/><circle cx="462.4" cy="810.7" r="1.333"/><circle cx="616.7" cy="743.6" r="1.333"/><circle cx="705.4" cy="665.6" r="1.333"/><circle cx="711.9" cy="711.9" r="1.333"/><circle cx="954.3" cy="482.1" r="1.333"/><circle cx="629.0" cy="770.4" r="1.333"/><circle cx="580.9" cy="689.5" r="1.333"/><circle cx="966.8" cy="551.0" r="1.333"/><circle cx="746.0" cy="739.0" r="1.333"/><circle cx="858.4" cy="603.5" r="1.333"/><circle cx="808.2" cy="693.6" r="1.333"/><circle cx="642.2" cy="717.2" r="1.333"/><circle cx="863.0" cy="601.8" r="1.333"/><circle cx="811.8" cy="588.4" r="1.333"/><circle cx="795.9" cy="576.3" r="1.333"/><circle cx="603.6" cy="744.6" r="1.333"/><circle cx="805.0" cy="683.1" r="1.333"/><circle cx="589.2" cy="768.5" r="1.333"/><circle cx="788.8" cy="676.3" r="1.333"/><circle cx="534.9" cy="781.3" r="1.333"/><circle cx="529.6" cy="826.3" r="1.333"/><circle cx="637.3" cy="763.5" r="1.333"/><circle cx="576.6" cy="784.6" r="1.333"/><circle cx="632.4" cy="755.7" r="1.333"/><circle cx="516.0" cy="817.9" r="1.333"/><circle cx="670.8" cy="747.2" r="1.333"/><circle cx="617.0" cy="696.6" r="1.333"/><circle cx="550.8" cy="767.5" r="1.333"/><circle cx="982.4" cy="520.5" r="1.333"/><circle cx="718.9" cy="705.6" r="1.333"/><circle cx="714.2" cy="669.1" r="1.333"/><circle cx="979.3" cy="512.7" r="1.333"/><circle cx="570.5" cy="820.8" r="1.333"/><circle cx="948.1" cy="551.1" r="1.333"/><circle cx="838.0" cy="616.0" r="1.333"/><circle cx="629.5" cy="831.3" r="1.333"/><circle cx="556.0" cy="864.3" r="1.333"/><circle cx="475.0" cy="781.2" r="1.333"/><circle cx="778.6" cy="626.9" r="1.333"/><circle cx="607.8" cy="755.7" r="1.333"/><circle cx="561.4" cy="831.4" r="1.333"/><circle cx="751.0" cy="670.8" r="1.333"/><circle cx="426.5" cy="835.0" r="1.333"/><circle cx="440.8" cy="849.8" r="1.333"/><circle cx="486.2" cy="808.6" r="1.333"/><circle cx="554.0" cy="822.6" r="1.333"/><circle cx="803.3" cy="703.4" r="1.333"/><circle cx="693.1" cy="742.6" r="1.333"/><circle cx="806.8" cy="596.0" r="1.333"/><circle cx="804.6" cy="675.5" r="1.333"/><circle cx="590.9" cy="809.3" r="1.333"/><circle cx="570.4" cy="804.4" r="1.333"/><circle cx="612.5" cy="674.1" r="1.333"/><circle cx="769.2" cy="610.9" r="1.333"/><circle cx="911.0" cy="540.5" r="1.333"/><circle cx="553.5" cy="767.7" r="1.333"/><circle cx="794.1" cy="619.6" r="1.333"/><circle cx="485.8" cy="815.1" r="1.333"/><circle cx="627.7" cy="750.4" r="1.333"/><circle cx="488.6" cy="801.4" r="1.333"/><circle cx="938.8" cy="537.8" r="1.333"/><circle cx="507.5" cy="826.9" r="1.333"/><circle cx="756.7" cy="621.2" r="1.333"/><circle cx="461.1" cy="815.8" r="1.333"/><circle cx="436.3" cy="841.0" r="1.333"/><circle cx="679.1" cy="683.7" r="1.333"/><circle cx="646.8" cy="749.2" r="1.333"/><circle cx="585.4" cy="819.1" r="1.333"/><circle cx="721.3" cy="654.1" r="1.333"/><circle cx="934.5" cy="532.3" r="1.333"/><circle cx="547.7" cy="793.1" r="1.333"/><circle cx="472.3" cy="866.3" r="1.333"/><circle cx="750.7" cy="662.7" r="1.333"/><circle cx="719.4" cy="718.3" r="1.333"/><circle cx="501.6" cy="844.7" r="1.333"/><circle cx="770.3" cy="628.9" r="1.333"/><circle cx="394.7" cy="874.5" r="1.333"/><circle cx="404.0" cy="871.6" r="1.333"/><circle cx="647.1" cy="737.9" r="1.333"/><circle cx="663.8" cy="822.2" r="1.333"/><circle cx="697.2" cy="629.6" r="1.333"/><circle cx="648.0" cy="679.8" r="1.333"/><circle cx="741.5" cy="633.0" r="1.333"/><circle cx="483.2" cy="845.9" r="1.333"/><circle cx="534.0" cy="786.1" r="1.333"/><circle cx="697.0" cy="704.9" r="1.333"/><circle cx="580.0" cy="761.9" r="1.333"/><circle cx="767.0" cy="630.3" r="1.333"/><circle cx="477.8" cy="873.7" r="1.333"/><circle cx="579.9" cy="768.5" r="1.333"/><circle cx="749.7" cy="694.9" r="1.333"/><circle cx="646.5" cy="702.7" r="1.333"/><circle cx="724.7" cy="640.9" r="1.333"/><circle cx="865.3" cy="762.6" r="1.333"/><circle cx="650.5" cy="737.8" r="1.333"/><circle cx="808.1" cy="708.8" r="1.333"/><circle cx="807.5" cy="571.5" r="1.333"/><circle cx="592.7" cy="726.8" r="1.333"/><circle cx="548.7" cy="843.8" r="1.333"/><circle cx="710.8" cy="769.0" r="1.333"/><circle cx="839.7" cy="636.1" r="1.333"/><circle cx="542.1" cy="705.9" r="1.333"/><circle cx="594.6" cy="849.3" r="1.333"/><circle cx="850.4" cy="687.4" r="1.333"/><circle cx="766.1" cy="672.6" r="1.333"/><circle cx="1014.2" cy="535.4" r="1.333"/><circle cx="540.5" cy="706.9" r="1.333"/><circle cx="786.0" cy="713.7" r="1.333"/><circle cx="627.4" cy="808.6" r="1.333"/><circle cx="630.4" cy="701.1" r="1.333"/><circle cx="490.8" cy="812.4" r="1.333"/><circle cx="811.4" cy="728.6" r="1.333"/><circle cx="549.5" cy="743.3" r="1.333"/><circle cx="844.4" cy="702.2" r="1.333"/><circle cx="687.9" cy="685.5" r="1.333"/><circle cx="660.2" cy="851.5" r="1.333"/><circle cx="511.9" cy="781.4" r="1.333"/><circle cx="738.6" cy="631.7" r="1.333"/><circle cx="467.4" cy="829.6" r="1.333"/><circle cx="547.0" cy="781.2" r="1.333"/><circle cx="430.8" cy="823.1" r="1.333"/><circle cx="904.9" cy="547.2" r="1.333"/><circle cx="452.7" cy="838.0" r="1.333"/><circle cx="756.4" cy="644.3" r="1.333"/><circle cx="493.6" cy="822.4" r="1.333"/><circle cx="392.7" cy="860.8" r="1.333"/><circle cx="637.5" cy="706.4" r="1.333"/><circle cx="617.9" cy="722.7" r="1.333"/><circle cx="660.4" cy="791.2" r="1.333"/><circle cx="703.9" cy="662.5" r="1.333"/><circle cx="924.8" cy="532.8" r="1.333"/><circle cx="557.9" cy="765.6" r="1.333"/><circle cx="695.0" cy="692.1" r="1.333"/><circle cx="407.2" cy="876.2" r="1.333"/><circle cx="899.8" cy="548.8" r="1.333"/><circle cx="404.0" cy="844.5" r="1.333"/><circle cx="603.3" cy="760.1" r="1.333"/><circle cx="614.2" cy="825.4" r="1.333"/><circle cx="727.4" cy="656.3" r="1.333"/><circle cx="642.6" cy="705.4" r="1.333"/><circle cx="711.0" cy="663.5" r="1.333"/><circle cx="432.4" cy="869.9" r="1.333"/><circle cx="558.7" cy="816.6" r="1.333"/><circle cx="571.7" cy="758.0" r="1.333"/><circle cx="705.5" cy="641.4" r="1.333"/><circle cx="512.2" cy="795.5" r="1.333"/><circle cx="703.7" cy="669.8" r="1.333"/><circle cx="609.1" cy="735.2" r="1.333"/><circle cx="555.4" cy="763.9" r="1.333"/><circle cx="561.4" cy="752.3" r="1.333"/><circle cx="382.2" cy="859.6" r="1.333"/><circle cx="994.6" cy="505.9" r="1.333"/><circle cx="680.9" cy="708.6" r="1.333"/><circle cx="597.1" cy="701.6" r="1.333"/><circle cx="578.8" cy="721.3" r="1.333"/><circle cx="545.0" cy="835.3" r="1.333"/><circle cx="654.4" cy="692.6" r="1.333"/><circle cx="779.1" cy="692.3" r="1.333"/><circle cx="470.5" cy="832.1" r="1.333"/><circle cx="872.0" cy="573.0" r="1.333"/><circle cx="790.3" cy="603.4" r="1.333"/><circle cx="936.9" cy="480.8" r="1.333"/><circle cx="564.0" cy="807.3" r="1.333"/><circle cx="724.0" cy="714.3" r="1.333"/><circle cx="982.1" cy="490.2" r="1.333"/><circle cx="632.1" cy="784.9" r="1.333"/><circle cx="841.8" cy="590.4" r="1.333"/><circle cx="801.3" cy="651.0" r="1.333"/><circle cx="917.1" cy="526.1" r="1.333"/><circle cx="600.3" cy="875.5" r="1.333"/><circle cx="600.6" cy="782.5" r="1.333"/><circle cx="659.0" cy="814.0" r="1.333"/><circle cx="941.0" cy="515.3" r="1.333"/><circle cx="705.9" cy="673.5" r="1.333"/><circle cx="859.8" cy="686.8" r="1.333"/><circle cx="524.5" cy="808.9" r="1.333"/><circle cx="759.3" cy="575.0" r="1.333"/><circle cx="915.8" cy="469.5" r="1.333"/><circle cx="754.0" cy="658.5" r="1.333"/><circle cx="420.6" cy="835.1" r="1.333"/><circle cx="627.1" cy="735.9" r="1.333"/><circle cx="468.3" cy="816.8" r="1.333"/><circle cx="552.0" cy="748.6" r="1.333"/><circle cx="544.9" cy="814.0" r="1.333"/><circle cx="644.2" cy="689.0" r="1.333"/><circle cx="398.5" cy="870.2" r="1.333"/><circle cx="560.0" cy="805.6" r="1.333"/><circle cx="456.6" cy="825.7" r="1.333"/><circle cx="643.0" cy="690.2" r="1.333"/><circle cx="589.1" cy="713.7" r="1.333"/><circle cx="789.0" cy="612.4" r="1.333"/><circle cx="409.9" cy="859.7" r="1.333"/><circle cx="631.5" cy="710.8" r="1.333"/><circle cx="617.9" cy="709.8" r="1.333"/><circle cx="528.5" cy="777.0" r="1.333"/><circle cx="713.2" cy="610.5" r="1.333"/><circle cx="607.7" cy="752.7" r="1.333"/><circle cx="570.0" cy="810.5" r="1.333"/><circle cx="518.5" cy="760.9" r="1.333"/><circle cx="730.9" cy="648.0" r="1.333"/><circle cx="420.5" cy="875.4" r="1.333"/><circle cx="860.2" cy="583.6" r="1.333"/><circle cx="547.4" cy="756.4" r="1.333"/><circle cx="516.7" cy="861.0" r="1.333"/><circle cx="598.6" cy="792.9" r="1.333"/><circle cx="503.7" cy="844.2" r="1.333"/><circle cx="801.4" cy="603.4" r="1.333"/><circle cx="379.4" cy="879.8" r="1.333"/><circle cx="555.8" cy="834.0" r="1.333"/><circle cx="608.5" cy="745.6" r="1.333"/><circle cx="436.7" cy="844.1" r="1.333"/><circle cx="554.4" cy="769.6" r="1.333"/><circle cx="593.0" cy="742.3" r="1.333"/><circle cx="833.1" cy="583.1" r="1.333"/><circle cx="550.0" cy="787.0" r="1.333"/><circle cx="607.3" cy="712.7" r="1.333"/><circle cx="493.0" cy="779.3" r="1.333"/><circle cx="524.2" cy="777.6" r="1.333"/><circle cx="650.3" cy="786.5" r="1.333"/><circle cx="456.1" cy="841.9" r="1.333"/><circle cx="773.8" cy="577.7" r="1.333"/><circle cx="748.1" cy="664.5" r="1.333"/><circle cx="681.6" cy="675.9" r="1.333"/><circle cx="1050.4" cy="471.2" r="1.333"/><circle cx="528.6" cy="811.5" r="1.333"/><circle cx="796.4" cy="604.1" r="1.333"/><circle cx="743.9" cy="632.9" r="1.333"/><circle cx="616.3" cy="696.0" r="1.333"/><circle cx="892.2" cy="562.6" r="1.333"/><circle cx="685.9" cy="725.6" r="1.333"/><circle cx="957.0" cy="554.2" r="1.333"/><circle cx="756.4" cy="629.2" r="1.333"/><circle cx="534.4" cy="821.4" r="1.333"/><circle cx="912.3" cy="478.3" r="1.333"/><circle cx="619.4" cy="805.5" r="1.333"/><circle cx="984.2" cy="500.0" r="1.333"/><circle cx="615.5" cy="733.8" r="1.333"/><circle cx="794.6" cy="713.4" r="1.333"/><circle cx="486.6" cy="833.9" r="1.333"/><circle cx="748.1" cy="592.4" r="1.333"/><circle cx="775.5" cy="648.5" r="1.333"/><circle cx="735.6" cy="711.0" r="1.333"/><circle cx="613.0" cy="764.5" r="1.333"/><circle cx="946.1" cy="511.1" r="1.333"/><circle cx="630.6" cy="796.0" r="1.333"/><circle cx="446.3" cy="788.5" r="1.333"/><circle cx="666.3" cy="822.6" r="1.333"/><circle cx="705.3" cy="646.7" r="1.333"/><circle cx="692.3" cy="878.4" r="1.333"/><circle cx="840.5" cy="766.4" r="1.333"/><circle cx="418.5" cy="857.4" r="1.333"/><circle cx="743.0" cy="627.7" r="1.333"/><circle cx="945.9" cy="514.3" r="1.333"/><circle cx="690.6" cy="811.8" r="1.333"/><circle cx="626.2" cy="830.9" r="1.333"/><circle cx="872.1" cy="592.1" r="1.333"/><circle cx="792.8" cy="593.6" r="1.333"/><circle cx="384.1" cy="839.0" r="1.333"/><circle cx="873.8" cy="583.8" r="1.333"/><circle cx="730.9" cy="615.4" r="1.333"/><circle cx="660.1" cy="701.0" r="1.333"/><circle cx="741.6" cy="602.4" r="1.333"/><circle cx="575.0" cy="807.6" r="1.333"/><circle cx="989.1" cy="504.2" r="1.333"/><circle cx="761.4" cy="673.7" r="1.333"/><circle cx="733.3" cy="775.4" r="1.333"/><circle cx="642.3" cy="839.6" r="1.333"/><circle cx="718.5" cy="742.7" r="1.333"/><circle cx="607.0" cy="747.1" r="1.333"/><circle cx="481.9" cy="831.4" r="1.333"/><circle cx="636.7" cy="701.0" r="1.333"/><circle cx="476.6" cy="780.0" r="1.333"/><circle cx="640.4" cy="734.4" r="1.333"/><circle cx="475.0" cy="841.0" r="1.333"/><circle cx="532.2" cy="774.4" r="1.333"/><circle cx="540.7" cy="847.9" r="1.333"/><circle cx="424.0" cy="873.9" r="1.333"/><circle cx="636.7" cy="709.9" r="1.333"/><circle cx="544.2" cy="761.9" r="1.333"/><circle cx="500.5" cy="814.0" r="1.333"/><circle cx="706.7" cy="670.9" r="1.333"/><circle cx="568.1" cy="735.6" r="1.333"/><circle cx="477.7" cy="820.3" r="1.333"/><circle cx="786.3" cy="639.7" r="1.333"/><circle cx="679.5" cy="754.4" r="1.333"/><circle cx="673.1" cy="767.2" r="1.333"/><circle cx="553.9" cy="802.2" r="1.333"/><circle cx="840.0" cy="583.2" r="1.333"/><circle cx="493.4" cy="791.7" r="1.333"/><circle cx="590.3" cy="818.1" r="1.333"/><circle cx="642.1" cy="675.4" r="1.333"/><circle cx="536.9" cy="770.8" r="1.333"/><circle cx="526.2" cy="824.2" r="1.333"/><circle cx="753.9" cy="628.1" r="1.333"/><circle cx="456.9" cy="857.1" r="1.333"/><circle cx="728.3" cy="704.9" r="1.333"/><circle cx="403.8" cy="873.9" r="1.333"/><circle cx="792.0" cy="604.0" r="1.333"/><circle cx="570.6" cy="796.2" r="1.333"/><circle cx="579.5" cy="814.0" r="1.333"/><circle cx="640.1" cy="710.4" r="1.333"/><circle cx="717.1" cy="675.6" r="1.333"/><circle cx="753.2" cy="628.5" r="1.333"/><circle cx="429.0" cy="876.3" r="1.333"/><circle cx="762.3" cy="623.7" r="1.333"/><circle cx="437.0" cy="813.6" r="1.333"/><circle cx="627.6" cy="802.7" r="1.333"/><circle cx="660.3" cy="789.4" r="1.333"/><circle cx="627.6" cy="768.2" r="1.333"/><circle cx="501.4" cy="848.4" r="1.333"/><circle cx="722.8" cy="741.2" r="1.333"/><circle cx="555.9" cy="809.5" r="1.333"/><circle cx="851.2" cy="588.4" r="1.333"/><circle cx="693.1" cy="711.1" r="1.333"/><circle cx="922.2" cy="554.7" r="1.333"/><circle cx="781.3" cy="601.6" r="1.333"/><circle cx="377.9" cy="846.9" r="1.333"/><circle cx="720.9" cy="769.0" r="1.333"/><circle cx="778.2" cy="658.0" r="1.333"/><circle cx="461.7" cy="850.5" r="1.333"/><circle cx="465.2" cy="815.8" r="1.333"/><circle cx="532.3" cy="828.6" r="1.333"/><circle cx="670.9" cy="787.3" r="1.333"/><circle cx="396.2" cy="874.0" r="1.333"/><circle cx="628.9" cy="872.6" r="1.333"/><circle cx="593.6" cy="768.5" r="1.333"/><circle cx="380.2" cy="870.5" r="1.333"/><circle cx="641.2" cy="716.9" r="1.333"/><circle cx="457.9" cy="785.4" r="1.333"/><circle cx="756.5" cy="608.9" r="1.333"/><circle cx="611.9" cy="713.7" r="1.333"/><circle cx="631.5" cy="835.0" r="1.333"/><circle cx="446.9" cy="797.6" r="1.333"/><circle cx="729.7" cy="675.3" r="1.333"/><circle cx="677.1" cy="689.6" r="1.333"/><circle cx="634.0" cy="804.7" r="1.333"/><circle cx="373.1" cy="867.2" r="1.333"/><circle cx="527.9" cy="779.7" r="1.333"/><circle cx="484.9" cy="819.7" r="1.333"/><circle cx="367.8" cy="865.9" r="1.333"/><circle cx="799.8" cy="637.0" r="1.333"/><circle cx="481.7" cy="795.3" r="1.333"/><circle cx="739.6" cy="643.8" r="1.333"/><circle cx="668.8" cy="695.2" r="1.333"/><circle cx="472.8" cy="838.7" r="1.333"/><circle cx="582.5" cy="677.2" r="1.333"/><circle cx="596.0" cy="709.0" r="1.333"/><circle cx="538.7" cy="744.4" r="1.333"/><circle cx="384.9" cy="825.0" r="1.333"/><circle cx="929.8" cy="537.8" r="1.333"/><circle cx="558.0" cy="756.8" r="1.333"/><circle cx="447.0" cy="828.8" r="1.333"/><circle cx="705.9" cy="680.6" r="1.333"/><circle cx="617.0" cy="806.2" r="1.333"/><circle cx="453.1" cy="859.1" r="1.333"/><circle cx="713.2" cy="668.4" r="1.333"/><circle cx="553.2" cy="723.2" r="1.333"/><circle cx="457.9" cy="865.6" r="1.333"/><circle cx="473.7" cy="785.5" r="1.333"/><circle cx="420.8" cy="829.9" r="1.333"/><circle cx="575.6" cy="738.4" r="1.333"/><circle cx="739.7" cy="631.1" r="1.333"/><circle cx="534.2" cy="801.9" r="1.333"/><circle cx="736.9" cy="643.4" r="1.333"/><circle cx="661.2" cy="771.7" r="1.333"/><circle cx="757.4" cy="706.9" r="1.333"/><circle cx="604.4" cy="756.6" r="1.333"/><circle cx="927.7" cy="490.5" r="1.333"/><circle cx="844.9" cy="590.9" r="1.333"/><circle cx="943.6" cy="479.4" r="1.333"/><circle cx="465.7" cy="868.4" r="1.333"/><circle cx="438.5" cy="861.4" r="1.333"/><circle cx="893.4" cy="543.4" r="1.333"/><circle cx="813.8" cy="659.8" r="1.333"/><circle cx="1007.5" cy="479.2" r="1.333"/><circle cx="775.7" cy="640.2" r="1.333"/><circle cx="950.6" cy="544.8" r="1.333"/><circle cx="790.7" cy="710.2" r="1.333"/><circle cx="734.9" cy="722.4" r="1.333"/><circle cx="864.7" cy="623.1" r="1.333"/><circle cx="489.3" cy="808.8" r="1.333"/><circle cx="896.8" cy="535.1" r="1.333"/><circle cx="892.5" cy="562.0" r="1.333"/><circle cx="575.6" cy="760.7" r="1.333"/><circle cx="529.3" cy="821.1" r="1.333"/><circle cx="453.8" cy="778.5" r="1.333"/><circle cx="598.8" cy="865.3" r="1.333"/><circle cx="537.8" cy="730.8" r="1.333"/><circle cx="552.6" cy="809.3" r="1.333"/><circle cx="732.4" cy="672.5" r="1.333"/><circle cx="522.4" cy="756.7" r="1.333"/><circle cx="434.1" cy="817.5" r="1.333"/><circle cx="782.7" cy="628.6" r="1.333"/><circle cx="546.8" cy="772.5" r="1.333"/><circle cx="672.6" cy="765.5" r="1.333"/><circle cx="506.3" cy="797.6" r="1.333"/><circle cx="697.6" cy="647.2" r="1.333"/><circle cx="865.0" cy="601.5" r="1.333"/><circle cx="447.5" cy="811.7" r="1.333"/><circle cx="646.3" cy="801.8" r="1.333"/><circle cx="371.8" cy="871.6" r="1.333"/><circle cx="584.3" cy="680.6" r="1.333"/><circle cx="681.2" cy="749.9" r="1.333"/><circle cx="627.8" cy="803.3" r="1.333"/><circle cx="791.3" cy="614.9" r="1.333"/><circle cx="576.1" cy="841.4" r="1.333"/><circle cx="701.9" cy="687.5" r="1.333"/><circle cx="356.0" cy="862.6" r="1.333"/><circle cx="529.0" cy="787.9" r="1.333"/><circle cx="604.5" cy="812.4" r="1.333"/><circle cx="617.3" cy="704.3" r="1.333"/><circle cx="600.0" cy="696.0" r="1.333"/><circle cx="600.3" cy="740.5" r="1.333"/><circle cx="782.7" cy="629.6" r="1.333"/><circle cx="639.5" cy="752.6" r="1.333"/><circle cx="747.4" cy="610.3" r="1.333"/><circle cx="806.4" cy="643.5" r="1.333"/><circle cx="716.9" cy="685.9" r="1.333"/><circle cx="890.0" cy="521.2" r="1.333"/><circle cx="657.4" cy="806.1" r="1.333"/><circle cx="806.4" cy="668.5" r="1.333"/><circle cx="678.0" cy="680.7" r="1.333"/><circle cx="827.1" cy="676.7" r="1.333"/><circle cx="703.9" cy="686.7" r="1.333"/><circle cx="516.5" cy="729.8" r="1.333"/><circle cx="414.8" cy="868.2" r="1.333"/><circle cx="797.3" cy="614.3" r="1.333"/><circle cx="532.8" cy="759.4" r="1.333"/><circle cx="492.1" cy="785.2" r="1.333"/><circle cx="529.6" cy="850.0" r="1.333"/><circle cx="847.0" cy="669.5" r="1.333"/><circle cx="802.3" cy="615.4" r="1.333"/><circle cx="970.7" cy="499.3" r="1.333"/><circle cx="590.6" cy="759.5" r="1.333"/><circle cx="905.0" cy="495.1" r="1.333"/><circle cx="573.3" cy="713.5" r="1.333"/><circle cx="499.5" cy="810.6" r="1.333"/><circle cx="695.1" cy="759.7" r="1.333"/><circle cx="343.2" cy="862.8" r="1.333"/><circle cx="385.9" cy="863.9" r="1.333"/><circle cx="768.7" cy="748.0" r="1.333"/><circle cx="696.7" cy="755.5" r="1.333"/><circle cx="488.8" cy="823.3" r="1.333"/><circle cx="725.3" cy="693.3" r="1.333"/><circle cx="670.1" cy="770.3" r="1.333"/><circle cx="631.7" cy="793.8" r="1.333"/><circle cx="586.3" cy="783.0" r="1.333"/><circle cx="587.1" cy="773.3" r="1.333"/><circle cx="831.2" cy="622.1" r="1.333"/><circle cx="794.8" cy="625.4" r="1.333"/><circle cx="580.5" cy="818.0" r="1.333"/><circle cx="463.6" cy="799.9" r="1.333"/><circle cx="590.3" cy="857.3" r="1.333"/><circle cx="845.7" cy="663.3" r="1.333"/><circle cx="410.1" cy="788.7" r="1.333"/><circle cx="801.3" cy="589.0" r="1.333"/><circle cx="477.9" cy="816.1" r="1.333"/><circle cx="744.6" cy="684.2" r="1.333"/><circle cx="632.0" cy="867.1" r="1.333"/><circle cx="862.7" cy="595.7" r="1.333"/><circle cx="645.0" cy="798.1" r="1.333"/><circle cx="450.5" cy="789.4" r="1.333"/><circle cx="731.6" cy="679.6" r="1.333"/><circle cx="851.6" cy="716.3" r="1.333"/><circle cx="644.6" cy="715.7" r="1.333"/><circle cx="394.5" cy="831.4" r="1.333"/><circle cx="810.1" cy="606.4" r="1.333"/><circle cx="833.6" cy="748.9" r="1.333"/><circle cx="775.1" cy="651.1" r="1.333"/><circle cx="529.8" cy="787.6" r="1.333"/><circle cx="709.7" cy="577.7" r="1.333"/><circle cx="762.1" cy="719.5" r="1.333"/><circle cx="590.7" cy="790.0" r="1.333"/><circle cx="623.8" cy="728.4" r="1.333"/><circle cx="750.3" cy="696.2" r="1.333"/><circle cx="811.5" cy="624.2" r="1.333"/><circle cx="689.6" cy="750.4" r="1.333"/><circle cx="615.2" cy="793.8" r="1.333"/><circle cx="663.6" cy="792.6" r="1.333"/><circle cx="787.6" cy="630.1" r="1.333"/><circle cx="657.4" cy="824.9" r="1.333"/><circle cx="650.7" cy="760.7" r="1.333"/><circle cx="553.9" cy="879.1" r="1.333"/><circle cx="705.3" cy="670.1" r="1.333"/><circle cx="558.8" cy="748.3" r="1.333"/><circle cx="876.3" cy="575.4" r="1.333"/><circle cx="744.9" cy="643.6" r="1.333"/><circle cx="917.3" cy="519.3" r="1.333"/><circle cx="437.1" cy="824.7" r="1.333"/><circle cx="709.2" cy="672.3" r="1.333"/><circle cx="851.4" cy="595.9" r="1.333"/><circle cx="633.1" cy="738.5" r="1.333"/><circle cx="750.1" cy="642.7" r="1.333"/><circle cx="564.3" cy="773.8" r="1.333"/><circle cx="549.7" cy="732.2" r="1.333"/><circle cx="705.7" cy="705.7" r="1.333"/><circle cx="552.4" cy="792.3" r="1.333"/><circle cx="1039.6" cy="477.3" r="1.333"/><circle cx="760.1" cy="647.8" r="1.333"/><circle cx="844.6" cy="573.4" r="1.333"/><circle cx="737.8" cy="641.8" r="1.333"/><circle cx="542.1" cy="821.5" r="1.333"/><circle cx="575.2" cy="838.6" r="1.333"/><circle cx="488.9" cy="839.2" r="1.333"/><circle cx="985.0" cy="497.2" r="1.333"/><circle cx="474.1" cy="839.1" r="1.333"/><circle cx="910.9" cy="549.6" r="1.333"/><circle cx="541.9" cy="790.5" r="1.333"/><circle cx="690.3" cy="837.5" r="1.333"/><circle cx="503.7" cy="880.7" r="1.333"/><circle cx="1027.9" cy="468.2" r="1.333"/><circle cx="634.3" cy="708.5" r="1.333"/><circle cx="817.1" cy="739.6" r="1.333"/><circle cx="576.3" cy="687.7" r="1.333"/><circle cx="517.6" cy="834.1" r="1.333"/><circle cx="512.6" cy="786.2" r="1.333"/><circle cx="808.5" cy="624.0" r="1.333"/><circle cx="553.7" cy="721.0" r="1.333"/><circle cx="828.4" cy="632.8" r="1.333"/><circle cx="777.9" cy="676.7" r="1.333"/><circle cx="660.1" cy="705.9" r="1.333"/><circle cx="388.4" cy="827.5" r="1.333"/><circle cx="632.1" cy="802.6" r="1.333"/><circle cx="516.7" cy="811.3" r="1.333"/><circle cx="756.3" cy="586.1" r="1.333"/><circle cx="408.7" cy="848.9" r="1.333"/><circle cx="705.9" cy="609.1" r="1.333"/><circle cx="566.2" cy="745.5" r="1.333"/><circle cx="603.3" cy="832.0" r="1.333"/><circle cx="675.7" cy="854.6" r="1.333"/><circle cx="615.4" cy="704.2" r="1.333"/><circle cx="663.6" cy="839.2" r="1.333"/><circle cx="646.7" cy="826.5" r="1.333"/><circle cx="545.4" cy="802.7" r="1.333"/><circle cx="802.7" cy="629.3" r="1.333"/><circle cx="522.8" cy="682.1" r="1.333"/><circle cx="717.2" cy="758.7" r="1.333"/><circle cx="873.5" cy="757.8" r="1.333"/><circle cx="535.3" cy="693.7" r="1.333"/><circle cx="835.1" cy="590.4" r="1.333"/><circle cx="613.3" cy="852.8" r="1.333"/><circle cx="590.4" cy="776.8" r="1.333"/><circle cx="744.5" cy="745.4" r="1.333"/><circle cx="801.4" cy="700.6" r="1.333"/><circle cx="712.7" cy="676.6" r="1.333"/><circle cx="367.3" cy="830.1" r="1.333"/><circle cx="723.8" cy="716.1" r="1.333"/><circle cx="834.1" cy="748.5" r="1.333"/><circle cx="725.0" cy="681.3" r="1.333"/><circle cx="689.3" cy="687.9" r="1.333"/><circle cx="657.6" cy="726.1" r="1.333"/><circle cx="495.9" cy="873.0" r="1.333"/><circle cx="673.0" cy="754.3" r="1.333"/><circle cx="614.3" cy="705.7" r="1.333"/><circle cx="849.3" cy="572.5" r="1.333"/><circle cx="587.4" cy="765.4" r="1.333"/><circle cx="641.3" cy="686.5" r="1.333"/><circle cx="659.6" cy="723.1" r="1.333"/><circle cx="412.4" cy="872.8" r="1.333"/><circle cx="739.6" cy="671.9" r="1.333"/><circle cx="448.0" cy="841.9" r="1.333"/><circle cx="552.6" cy="712.2" r="1.333"/><circle cx="580.7" cy="802.4" r="1.333"/><circle cx="692.6" cy="784.1" r="1.333"/><circle cx="649.2" cy="694.2" r="1.333"/><circle cx="542.1" cy="744.7" r="1.333"/><circle cx="719.8" cy="662.8" r="1.333"/><circle cx="516.1" cy="845.5" r="1.333"/><circle cx="730.4" cy="604.1" r="1.333"/><circle cx="618.0" cy="762.9" r="1.333"/><circle cx="670.8" cy="714.5" r="1.333"/><circle cx="651.1" cy="685.5" r="1.333"/><circle cx="563.4" cy="781.5" r="1.333"/><circle cx="739.3" cy="677.2" r="1.333"/><circle cx="596.1" cy="753.8" r="1.333"/><circle cx="601.6" cy="728.7" r="1.333"/><circle cx="578.1" cy="696.3" r="1.333"/><circle cx="859.8" cy="743.1" r="1.333"/><circle cx="784.6" cy="651.7" r="1.333"/><circle cx="835.8" cy="612.7" r="1.333"/><circle cx="537.3" cy="872.9" r="1.333"/><circle cx="813.5" cy="645.4" r="1.333"/><circle cx="731.3" cy="617.1" r="1.333"/><circle cx="683.8" cy="724.2" r="1.333"/><circle cx="406.3" cy="862.6" r="1.333"/><circle cx="736.5" cy="620.3" r="1.333"/><circle cx="750.7" cy="610.5" r="1.333"/><circle cx="998.7" cy="499.1" r="1.333"/><circle cx="951.9" cy="551.7" r="1.333"/><circle cx="623.4" cy="682.8" r="1.333"/><circle cx="844.2" cy="578.0" r="1.333"/><circle cx="735.5" cy="614.6" r="1.333"/><circle cx="817.2" cy="645.0" r="1.333"/><circle cx="878.1" cy="533.4" r="1.333"/><circle cx="957.7" cy="502.0" r="1.333"/><circle cx="973.6" cy="529.9" r="1.333"/><circle cx="831.2" cy="594.9" r="1.333"/><circle cx="1021.9" cy="468.0" r="1.333"/><circle cx="572.4" cy="741.7" r="1.333"/><circle cx="840.2" cy="695.8" r="1.333"/><circle cx="493.7" cy="856.5" r="1.333"/><circle cx="525.6" cy="823.3" r="1.333"/><circle cx="1017.0" cy="514.2" r="1.333"/><circle cx="452.0" cy="816.3" r="1.333"/><circle cx="829.9" cy="602.5" r="1.333"/><circle cx="594.4" cy="696.4" r="1.333"/><circle cx="858.9" cy="599.6" r="1.333"/><circle cx="810.0" cy="646.1" r="1.333"/><circle cx="727.9" cy="661.1" r="1.333"/><circle cx="415.9" cy="806.1" r="1.333"/><circle cx="665.0" cy="767.0" r="1.333"/><circle cx="501.2" cy="825.2" r="1.333"/><circle cx="474.3" cy="805.9" r="1.333"/><circle cx="635.1" cy="702.1" r="1.333"/><circle cx="620.2" cy="815.6" r="1.333"/><circle cx="943.9" cy="512.9" r="1.333"/><circle cx="693.8" cy="782.7" r="1.333"/><circle cx="695.6" cy="718.9" r="1.333"/><circle cx="534.1" cy="711.9" r="1.333"/><circle cx="929.3" cy="563.6" r="1.333"/><circle cx="647.8" cy="815.7" r="1.333"/><circle cx="976.7" cy="490.0" r="1.333"/><circle cx="769.2" cy="573.6" r="1.333"/><circle cx="665.2" cy="680.1" r="1.333"/><circle cx="681.4" cy="803.3" r="1.333"/><circle cx="860.8" cy="729.8" r="1.333"/><circle cx="804.6" cy="661.4" r="1.333"/><circle cx="654.3" cy="721.7" r="1.333"/><circle cx="440.3" cy="828.5" r="1.333"/><circle cx="758.6" cy="654.6" r="1.333"/><circle cx="775.1" cy="651.8" r="1.333"/><circle cx="745.9" cy="749.0" r="1.333"/><circle cx="941.8" cy="550.8" r="1.333"/><circle cx="606.3" cy="754.4" r="1.333"/><circle cx="817.5" cy="605.0" r="1.333"/><circle cx="720.7" cy="674.9" r="1.333"/><circle cx="451.7" cy="872.3" r="1.333"/><circle cx="572.9" cy="822.0" r="1.333"/><circle cx="967.3" cy="505.2" r="1.333"/><circle cx="633.8" cy="754.2" r="1.333"/><circle cx="496.3" cy="787.1" r="1.333"/><circle cx="983.7" cy="494.8" r="1.333"/><circle cx="631.4" cy="754.5" r="1.333"/><circle cx="702.0" cy="718.8" r="1.333"/><circle cx="598.5" cy="783.6" r="1.333"/><circle cx="896.5" cy="548.8" r="1.333"/><circle cx="812.4" cy="645.4" r="1.333"/><circle cx="777.6" cy="641.3" r="1.333"/><circle cx="831.0" cy="596.8" r="1.333"/><circle cx="999.2" cy="506.3" r="1.333"/><circle cx="863.1" cy="724.8" r="1.333"/><circle cx="933.1" cy="488.2" r="1.333"/><circle cx="821.4" cy="617.3" r="1.333"/><circle cx="751.3" cy="647.4" r="1.333"/><circle cx="719.1" cy="728.4" r="1.333"/><circle cx="763.3" cy="665.5" r="1.333"/><circle cx="844.5" cy="609.9" r="1.333"/><circle cx="771.9" cy="634.9" r="1.333"/><circle cx="835.0" cy="608.0" r="1.333"/><circle cx="937.6" cy="563.7" r="1.333"/><circle cx="800.9" cy="681.1" r="1.333"/><circle cx="663.6" cy="754.2" r="1.333"/><circle cx="567.1" cy="817.6" r="1.333"/><circle cx="886.0" cy="500.3" r="1.333"/><circle cx="839.5" cy="631.5" r="1.333"/><circle cx="1035.8" cy="484.9" r="1.333"/><circle cx="1011.2" cy="472.8" r="1.333"/><circle cx="668.6" cy="852.2" r="1.333"/><circle cx="827.8" cy="641.2" r="1.333"/><circle cx="577.0" cy="758.0" r="1.333"/><circle cx="630.5" cy="754.7" r="1.333"/><circle cx="707.1" cy="643.8" r="1.333"/><circle cx="729.8" cy="656.0" r="1.333"/><circle cx="885.5" cy="521.9" r="1.333"/><circle cx="581.5" cy="716.0" r="1.333"/><circle cx="778.2" cy="636.0" r="1.333"/><circle cx="997.2" cy="476.6" r="1.333"/><circle cx="782.2" cy="622.3" r="1.333"/><circle cx="783.8" cy="618.8" r="1.333"/><circle cx="777.4" cy="686.9" r="1.333"/><circle cx="853.5" cy="576.8" r="1.333"/><circle cx="903.4" cy="537.5" r="1.333"/><circle cx="776.9" cy="774.3" r="1.333"/><circle cx="836.4" cy="603.1" r="1.333"/><circle cx="452.1" cy="869.5" r="1.333"/><circle cx="745.2" cy="687.8" r="1.333"/><circle cx="496.3" cy="786.4" r="1.333"/><circle cx="411.7" cy="819.2" r="1.333"/><circle cx="738.5" cy="706.7" r="1.333"/><circle cx="694.0" cy="748.7" r="1.333"/><circle cx="579.1" cy="748.5" r="1.333"/><circle cx="540.7" cy="877.0" r="1.333"/><circle cx="794.2" cy="594.2" r="1.333"/><circle cx="572.2" cy="719.6" r="1.333"/><circle cx="541.1" cy="742.6" r="1.333"/><circle cx="733.7" cy="639.5" r="1.333"/><circle cx="358.8" cy="868.3" r="1.333"/><circle cx="764.9" cy="590.2" r="1.333"/><circle cx="469.2" cy="816.1" r="1.333"/><circle cx="560.0" cy="789.7" r="1.333"/><circle cx="501.6" cy="798.2" r="1.333"/><circle cx="806.8" cy="669.8" r="1.333"/><circle cx="884.7" cy="551.7" r="1.333"/><circle cx="843.4" cy="658.4" r="1.333"/><circle cx="801.0" cy="699.7" r="1.333"/><circle cx="850.6" cy="761.1" r="1.333"/><circle cx="837.9" cy="570.7" r="1.333"/><circle cx="672.9" cy="751.5" r="1.333"/><circle cx="760.5" cy="742.5" r="1.333"/><circle cx="613.2" cy="814.7" r="1.333"/><circle cx="791.3" cy="659.1" r="1.333"/><circle cx="711.5" cy="678.1" r="1.333"/><circle cx="1039.2" cy="563.4" r="1.333"/><circle cx="633.5" cy="707.3" r="1.333"/><circle cx="611.1" cy="731.5" r="1.333"/><circle cx="902.4" cy="512.0" r="1.333"/><circle cx="553.7" cy="711.2" r="1.333"/><circle cx="712.4" cy="635.7" r="1.333"/><circle cx="473.3" cy="881.0" r="1.333"/><circle cx="878.5" cy="528.2" r="1.333"/><circle cx="983.8" cy="485.7" r="1.333"/><circle cx="1045.4" cy="498.0" r="1.333"/><circle cx="746.5" cy="709.8" r="1.333"/><circle cx="762.7" cy="649.9" r="1.333"/><circle cx="427.0" cy="826.4" r="1.333"/><circle cx="770.2" cy="768.8" r="1.333"/><circle cx="846.9" cy="706.9" r="1.333"/><circle cx="603.7" cy="736.2" r="1.333"/><circle cx="758.5" cy="705.8" r="1.333"/><circle cx="861.0" cy="666.2" r="1.333"/><circle cx="809.0" cy="648.1" r="1.333"/><circle cx="677.7" cy="767.4" r="1.333"/><circle cx="566.0" cy="847.9" r="1.333"/><circle cx="601.0" cy="737.3" r="1.333"/><circle cx="613.4" cy="777.3" r="1.333"/><circle cx="692.0" cy="819.8" r="1.333"/><circle cx="800.8" cy="707.2" r="1.333"/><circle cx="612.7" cy="745.9" r="1.333"/><circle cx="684.0" cy="771.9" r="1.333"/><circle cx="505.6" cy="865.2" r="1.333"/><circle cx="665.2" cy="876.1" r="1.333"/><circle cx="623.0" cy="705.6" r="1.333"/><circle cx="714.1" cy="743.3" r="1.333"/><circle cx="586.0" cy="830.2" r="1.333"/><circle cx="667.2" cy="800.8" r="1.333"/><circle cx="871.7" cy="644.9" r="1.333"/><circle cx="596.4" cy="711.6" r="1.333"/><circle cx="768.7" cy="746.2" r="1.333"/><circle cx="765.6" cy="741.5" r="1.333"/><circle cx="585.9" cy="712.1" r="1.333"/><circle cx="606.2" cy="790.7" r="1.333"/><circle cx="722.8" cy="623.4" r="1.333"/><circle cx="739.8" cy="574.9" r="1.333"/><circle cx="908.0" cy="560.2" r="1.333"/><circle cx="809.9" cy="738.9" r="1.333"/><circle cx="433.7" cy="799.7" r="1.333"/><circle cx="665.3" cy="673.9" r="1.333"/><circle cx="857.3" cy="574.8" r="1.333"/><circle cx="478.9" cy="826.7" r="1.333"/><circle cx="633.6" cy="760.2" r="1.333"/><circle cx="453.4" cy="846.5" r="1.333"/><circle cx="619.1" cy="735.8" r="1.333"/><circle cx="540.4" cy="784.1" r="1.333"/><circle cx="362.6" cy="862.7" r="1.333"/><circle cx="818.5" cy="650.1" r="1.333"/><circle cx="542.3" cy="812.5" r="1.333"/><circle cx="696.0" cy="735.0" r="1.333"/><circle cx="561.0" cy="865.8" r="1.333"/><circle cx="596.1" cy="753.8" r="1.333"/><circle cx="786.2" cy="681.2" r="1.333"/><circle cx="632.7" cy="685.0" r="1.333"/><circle cx="723.0" cy="682.8" r="1.333"/><circle cx="992.7" cy="501.7" r="1.333"/><circle cx="1003.6" cy="508.9" r="1.333"/><circle cx="945.6" cy="537.7" r="1.333"/><circle cx="951.3" cy="568.7" r="1.333"/><circle cx="975.6" cy="475.8" r="1.333"/><circle cx="643.8" cy="699.3" r="1.333"/><circle cx="648.7" cy="725.4" r="1.333"/><circle cx="815.4" cy="578.8" r="1.333"/><circle cx="787.2" cy="632.1" r="1.333"/><circle cx="918.3" cy="524.2" r="1.333"/><circle cx="485.7" cy="785.1" r="1.333"/><circle cx="679.7" cy="707.4" r="1.333"/><circle cx="906.6" cy="517.2" r="1.333"/><circle cx="665.3" cy="682.1" r="1.333"/><circle cx="733.7" cy="642.7" r="1.333"/><circle cx="644.6" cy="765.7" r="1.333"/><circle cx="712.5" cy="655.6" r="1.333"/><circle cx="529.1" cy="807.9" r="1.333"/><circle cx="784.1" cy="611.5" r="1.333"/><circle cx="744.3" cy="647.5" r="1.333"/><circle cx="988.4" cy="525.4" r="1.333"/><circle cx="639.6" cy="865.5" r="1.333"/><circle cx="843.8" cy="579.6" r="1.333"/><circle cx="678.8" cy="780.7" r="1.333"/><circle cx="671.4" cy="781.3" r="1.333"/><circle cx="497.8" cy="869.2" r="1.333"/><circle cx="787.8" cy="604.7" r="1.333"/><circle cx="949.3" cy="559.7" r="1.333"/><circle cx="693.2" cy="728.3" r="1.333"/><circle cx="896.7" cy="494.5" r="1.333"/><circle cx="588.0" cy="863.2" r="1.333"/><circle cx="722.7" cy="657.8" r="1.333"/><circle cx="345.4" cy="875.1" r="1.333"/><circle cx="521.0" cy="876.8" r="1.333"/><circle cx="581.5" cy="823.8" r="1.333"/><circle cx="701.3" cy="776.2" r="1.333"/><circle cx="636.1" cy="700.6" r="1.333"/><circle cx="791.8" cy="590.3" r="1.333"/><circle cx="500.2" cy="803.7" r="1.333"/><circle cx="829.6" cy="593.1" r="1.333"/><circle cx="889.5" cy="542.3" r="1.333"/><circle cx="690.0" cy="681.8" r="1.333"/><circle cx="687.5" cy="712.2" r="1.333"/><circle cx="918.3" cy="486.8" r="1.333"/><circle cx="515.6" cy="824.9" r="1.333"/><circle cx="745.2" cy="671.5" r="1.333"/><circle cx="636.6" cy="768.0" r="1.333"/><circle cx="387.6" cy="814.7" r="1.333"/><circle cx="981.5" cy="465.6" r="1.333"/><circle cx="817.9" cy="776.3" r="1.333"/><circle cx="715.3" cy="695.0" r="1.333"/><circle cx="808.6" cy="657.7" r="1.333"/><circle cx="583.0" cy="812.5" r="1.333"/><circle cx="727.3" cy="675.0" r="1.333"/><circle cx="619.7" cy="818.9" r="1.333"/><circle cx="511.1" cy="854.7" r="1.333"/><circle cx="626.6" cy="828.4" r="1.333"/><circle cx="647.3" cy="852.4" r="1.333"/><circle cx="983.8" cy="506.3" r="1.333"/><circle cx="627.7" cy="802.0" r="1.333"/><circle cx="733.3" cy="685.2" r="1.333"/><circle cx="1010.0" cy="522.6" r="1.333"/><circle cx="567.6" cy="823.1" r="1.333"/><circle cx="679.4" cy="685.1" r="1.333"/><circle cx="578.5" cy="754.0" r="1.333"/><circle cx="924.4" cy="539.9" r="1.333"/><circle cx="719.0" cy="625.4" r="1.333"/><circle cx="986.6" cy="499.5" r="1.333"/><circle cx="748.7" cy="743.3" r="1.333"/><circle cx="438.9" cy="837.8" r="1.333"/><circle cx="383.9" cy="836.3" r="1.333"/><circle cx="538.9" cy="731.2" r="1.333"/><circle cx="752.2" cy="676.3" r="1.333"/><circle cx="418.2" cy="821.1" r="1.333"/><circle cx="626.1" cy="741.1" r="1.333"/><circle cx="612.5" cy="874.7" r="1.333"/><circle cx="523.2" cy="773.7" r="1.333"/><circle cx="699.9" cy="641.0" r="1.333"/><circle cx="496.1" cy="802.9" r="1.333"/><circle cx="686.5" cy="688.0" r="1.333"/><circle cx="657.6" cy="792.8" r="1.333"/><circle cx="752.1" cy="635.5" r="1.333"/><circle cx="817.1" cy="716.4" r="1.333"/><circle cx="632.7" cy="865.2" r="1.333"/><circle cx="606.4" cy="808.3" r="1.333"/><circle cx="990.4" cy="560.1" r="1.333"/><circle cx="603.6" cy="694.5" r="1.333"/><circle cx="655.4" cy="797.0" r="1.333"/><circle cx="436.6" cy="819.8" r="1.333"/><circle cx="778.0" cy="680.1" r="1.333"/><circle cx="938.6" cy="493.6" r="1.333"/><circle cx="722.9" cy="711.3" r="1.333"/><circle cx="637.4" cy="714.9" r="1.333"/><circle cx="938.7" cy="524.5" r="1.333"/><circle cx="811.9" cy="754.0" r="1.333"/><circle cx="546.1" cy="759.7" r="1.333"/><circle cx="939.7" cy="521.3" r="1.333"/><circle cx="750.1" cy="602.7" r="1.333"/><circle cx="445.6" cy="876.2" r="1.333"/><circle cx="714.5" cy="607.6" r="1.333"/><circle cx="791.8" cy="647.7" r="1.333"/><circle cx="628.2" cy="868.8" r="1.333"/><circle cx="867.1" cy="593.6" r="1.333"/><circle cx="654.8" cy="805.4" r="1.333"/><circle cx="683.5" cy="798.2" r="1.333"/><circle cx="938.2" cy="480.4" r="1.333"/><circle cx="441.3" cy="818.6" r="1.333"/><circle cx="491.5" cy="852.3" r="1.333"/><circle cx="588.0" cy="852.2" r="1.333"/><circle cx="691.8" cy="873.7" r="1.333"/><circle cx="517.4" cy="874.8" r="1.333"/><circle cx="524.8" cy="868.1" r="1.333"/><circle cx="535.6" cy="878.7" r="1.333"/><circle cx="627.6" cy="832.5" r="1.333"/><circle cx="613.9" cy="869.0" r="1.333"/><circle cx="671.8" cy="849.4" r="1.333"/><circle cx="750.8" cy="718.7" r="1.333"/><circle cx="709.2" cy="770.4" r="1.333"/><circle cx="718.3" cy="753.8" r="1.333"/><circle cx="619.0" cy="785.7" r="1.333"/><circle cx="631.2" cy="848.3" r="1.333"/><circle cx="836.2" cy="731.9" r="1.333"/><circle cx="677.4" cy="785.6" r="1.333"/><circle cx="805.0" cy="770.8" r="1.333"/><circle cx="865.1" cy="776.7" r="1.333"/><circle cx="629.7" cy="789.5" r="1.333"/><circle cx="673.5" cy="846.6" r="1.333"/><circle cx="525.4" cy="868.4" r="1.333"/><circle cx="517.0" cy="880.8" r="1.333"/><circle cx="561.1" cy="866.9" r="1.333"/><circle cx="580.4" cy="805.7" r="1.333"/><circle cx="605.0" cy="817.4" r="1.333"/><circle cx="582.2" cy="805.9" r="1.333"/><circle cx="576.0" cy="825.0" r="1.333"/><circle cx="832.7" cy="748.8" r="1.333"/><circle cx="670.2" cy="795.3" r="1.333"/><circle cx="724.9" cy="747.7" r="1.333"/><circle cx="643.6" cy="869.6" r="1.333"/><circle cx="603.5" cy="837.8" r="1.333"/><circle cx="614.3" cy="843.3" r="1.333"/><circle cx="807.8" cy="733.3" r="1.333"/><circle cx="827.5" cy="757.0" r="1.333"/><circle cx="750.4" cy="744.6" r="1.333"/><circle cx="553.4" cy="880.0" r="1.333"/><circle cx="642.5" cy="860.7" r="1.333"/><circle cx="765.0" cy="765.5" r="1.333"/><circle cx="601.8" cy="859.5" r="1.333"/><circle cx="711.5" cy="752.2" r="1.333"/><circle cx="840.0" cy="741.9" r="1.333"/><circle cx="758.1" cy="749.4" r="1.333"/><circle cx="510.9" cy="869.2" r="1.333"/><circle cx="743.0" cy="772.4" r="1.333"/><circle cx="812.0" cy="714.7" r="1.333"/><circle cx="691.1" cy="835.8" r="1.333"/><circle cx="662.4" cy="839.2" r="1.333"/><circle cx="693.4" cy="855.6" r="1.333"/><circle cx="788.5" cy="737.5" r="1.333"/><circle cx="638.4" cy="813.4" r="1.333"/><circle cx="622.9" cy="793.5" r="1.333"/><circle cx="480.4" cy="868.2" r="1.333"/><circle cx="673.4" cy="801.7" r="1.333"/><circle cx="824.6" cy="686.9" r="1.333"/><circle cx="647.4" cy="862.4" r="1.333"/><circle cx="687.9" cy="795.9" r="1.333"/><circle cx="507.4" cy="477.3" r="1.333"/><circle cx="526.4" cy="359.6" r="1.333"/><circle cx="634.3" cy="387.5" r="1.333"/><circle cx="605.2" cy="418.7" r="1.333"/><circle cx="517.8" cy="424.8" r="1.333"/><circle cx="748.3" cy="297.6" r="1.333"/><circle cx="876.9" cy="341.6" r="1.333"/><circle cx="875.8" cy="361.7" r="1.333"/><circle cx="845.0" cy="386.4" r="1.333"/><circle cx="856.1" cy="395.4" r="1.333"/><circle cx="865.1" cy="408.3" r="1.333"/><circle cx="831.0" cy="419.4" r="1.333"/><circle cx="806.3" cy="427.3" r="1.333"/><circle cx="817.4" cy="426.6" r="1.333"/><circle cx="840.0" cy="425.5" r="1.333"/><circle cx="845.0" cy="431.6" r="1.333"/><circle cx="864.0" cy="436.6" r="1.333"/><circle cx="768.3" cy="441.6" r="1.333"/><circle cx="794.1" cy="452.7" r="1.333"/><circle cx="793.1" cy="457.8" r="1.333"/><circle cx="812.1" cy="453.5" r="1.333"/><circle cx="828.2" cy="450.6" r="1.333"/><circle cx="742.2" cy="457.4" r="1.333"/><circle cx="747.2" cy="460.6" r="1.333"/><circle cx="826.0" cy="460.6" r="1.333"/><circle cx="828.2" cy="463.5" r="1.333"/><circle cx="839.3" cy="460.6" r="1.333"/><circle cx="843.2" cy="457.8" r="1.333"/><circle cx="850.4" cy="464.2" r="1.333"/><circle cx="870.1" cy="463.5" r="1.333"/><circle cx="873.3" cy="465.6" r="1.333"/><circle cx="703.1" cy="465.3" r="1.333"/><circle cx="1003.1" cy="180.2" r="1.333"/><circle cx="923.2" cy="234.3" r="1.333"/><circle cx="1018.3" cy="276.1" r="1.333"/><circle cx="1018.3" cy="290.2" r="1.333"/><circle cx="1048.3" cy="285.4" r="1.333"/><circle cx="1058.2" cy="290.2" r="1.333"/><circle cx="1055.8" cy="298.2" r="1.333"/><circle cx="931.2" cy="297.1" r="1.333"/><circle cx="941.1" cy="304.3" r="1.333"/><circle cx="1020.4" cy="332.2" r="1.333"/><circle cx="879.1" cy="341.3" r="1.333"/><circle cx="1002.3" cy="342.1" r="1.333"/><circle cx="930.4" cy="349.3" r="1.333"/><circle cx="949.1" cy="352.2" r="1.333"/><circle cx="976.2" cy="353.3" r="1.333"/><circle cx="967.4" cy="359.1" r="1.333"/><circle cx="976.2" cy="360.7" r="1.333"/><circle cx="1019.3" cy="350.3" r="1.333"/><circle cx="1015.1" cy="355.1" r="1.333"/><circle cx="1042.2" cy="347.4" r="1.333"/><circle cx="1049.4" cy="350.3" r="1.333"/><circle cx="1053.1" cy="356.4" r="1.333"/><circle cx="1055.8" cy="360.4" r="1.333"/><circle cx="1106.1" cy="194.1" r="1.333"/><circle cx="1224.3" cy="224.2" r="1.333"/><circle cx="1083.2" cy="246.3" r="1.333"/><circle cx="1114.4" cy="242.3" r="1.333"/><circle cx="1219.2" cy="253.2" r="1.333"/><circle cx="1132.2" cy="264.6" r="1.333"/><circle cx="1132.4" cy="265.2" r="1.333"/><circle cx="1167.1" cy="258.2" r="1.333"/><circle cx="1173.2" cy="271.3" r="1.333"/><circle cx="1227.2" cy="276.1" r="1.333"/><circle cx="1067.3" cy="282.2" r="1.333"/><circle cx="1132.2" cy="280.3" r="1.333"/><circle cx="1158.3" cy="288.3" r="1.333"/><circle cx="1090.1" cy="300.3" r="1.333"/><circle cx="1102.1" cy="300.3" r="1.333"/><circle cx="1121.3" cy="311.2" r="1.333"/><circle cx="1188.1" cy="306.1" r="1.333"/><circle cx="1215.2" cy="304.3" r="1.333"/><circle cx="1223.2" cy="317.3" r="1.333"/><circle cx="1090.1" cy="318.1" r="1.333"/><circle cx="1117.3" cy="318.1" r="1.333"/><circle cx="1157.2" cy="317.3" r="1.333"/><circle cx="1160.4" cy="315.5" r="1.333"/><circle cx="1175.0" cy="320.0" r="1.333"/><circle cx="1094.1" cy="324.2" r="1.333"/><circle cx="1108.2" cy="324.2" r="1.333"/><circle cx="1129.3" cy="322.4" r="1.333"/><circle cx="1128.2" cy="327.2" r="1.333"/><circle cx="1134.6" cy="326.1" r="1.333"/><circle cx="1169.2" cy="323.2" r="1.333"/><circle cx="1073.4" cy="328.2" r="1.333"/><circle cx="1120.2" cy="330.4" r="1.333"/><circle cx="1130.3" cy="332.2" r="1.333"/><circle cx="1135.7" cy="331.4" r="1.333"/><circle cx="1107.2" cy="333.3" r="1.333"/><circle cx="1237.1" cy="332.2" r="1.333"/><circle cx="1174.3" cy="336.2" r="1.333"/><circle cx="1079.2" cy="337.3" r="1.333"/><circle cx="1073.4" cy="344.2" r="1.333"/><circle cx="1095.2" cy="345.3" r="1.333"/><circle cx="1121.3" cy="345.3" r="1.333"/><circle cx="1129.3" cy="346.3" r="1.333"/><circle cx="1166.0" cy="342.3" r="1.333"/><circle cx="1169.2" cy="340.5" r="1.333"/><circle cx="1169.6" cy="341.0" r="1.333"/><circle cx="1168.1" cy="348.2" r="1.333"/><circle cx="1181.2" cy="350.3" r="1.333"/><circle cx="1188.1" cy="346.3" r="1.333"/><circle cx="1199.3" cy="346.3" r="1.333"/><circle cx="1203.3" cy="347.4" r="1.333"/><circle cx="1204.3" cy="342.6" r="1.333"/><circle cx="1204.6" cy="343.0" r="1.333"/><circle cx="1216.3" cy="345.3" r="1.333"/><circle cx="1101.3" cy="350.3" r="1.333"/><circle cx="1109.3" cy="348.2" r="1.333"/><circle cx="1106.1" cy="352.5" r="1.333"/><circle cx="1140.2" cy="355.1" r="1.333"/><circle cx="1179.3" cy="354.3" r="1.333"/><circle cx="1376.2" cy="105.2" r="1.333"/><circle cx="1324.3" cy="135.2" r="1.333"/><circle cx="1261.1" cy="210.3" r="1.333"/><circle cx="1329.3" cy="206.2" r="1.333"/><circle cx="1417.0" cy="213.3" r="1.333"/><circle cx="1431.2" cy="194.0" r="1.333"/><circle cx="1433.5" cy="197.5" r="1.333"/><circle cx="1334.1" cy="252.2" r="1.333"/><circle cx="1250.3" cy="267.3" r="1.333"/><circle cx="1296.3" cy="273.3" r="1.333"/><circle cx="1261.1" cy="280.4" r="1.333"/><circle cx="1269.1" cy="290.2" r="1.333"/><circle cx="1309.2" cy="290.2" r="1.333"/><circle cx="1272.3" cy="303.3" r="1.333"/><circle cx="1349.2" cy="303.3" r="1.333"/><circle cx="1245.3" cy="312.2" r="1.333"/><circle cx="1260.2" cy="321.2" r="1.333"/><circle cx="1247.4" cy="327.2" r="1.333"/><circle cx="1249.4" cy="325.4" r="1.333"/><circle cx="1265.4" cy="334.2" r="1.333"/><circle cx="1259.3" cy="344.3" r="1.333"/><circle cx="1252.4" cy="351.3" r="1.333"/><circle cx="1349.1" cy="344.3" r="1.333"/><circle cx="1263.1" cy="361.4" r="1.333"/><circle cx="1277.3" cy="383.1" r="1.333"/><circle cx="1278.4" cy="388.3" r="1.333"/><circle cx="1242.2" cy="398.4" r="1.333"/><circle cx="1244.3" cy="427.2" r="1.333"/><circle cx="1266.3" cy="447.4" r="1.333"/><circle cx="1289.4" cy="522.2" r="1.333"/><circle cx="1283.3" cy="672.5" r="1.333"/><circle cx="1083.3" cy="581.3" r="1.333"/><circle cx="1060.6" cy="596.3" r="1.333"/><circle cx="1099.9" cy="593.5" r="1.333"/><circle cx="1113.3" cy="594.3" r="1.333"/><circle cx="1067.1" cy="610.1" r="1.333"/><circle cx="1123.0" cy="613.3" r="1.333"/><circle cx="1114.1" cy="621.0" r="1.333"/><circle cx="1177.2" cy="638.4" r="1.333"/><circle cx="1069.9" cy="660.3" r="1.333"/><circle cx="1148.1" cy="661.1" r="1.333"/><circle cx="1133.1" cy="679.3" r="1.333"/><circle cx="1132.3" cy="689.5" r="1.333"/><circle cx="1069.9" cy="683.4" r="1.333"/><circle cx="1075.2" cy="690.3" r="1.333"/><circle cx="1184.1" cy="708.1" r="1.333"/><circle cx="1101.1" cy="712.1" r="1.333"/><circle cx="1076.0" cy="719.4" r="1.333"/><circle cx="1065.1" cy="729.1" r="1.333"/><circle cx="1079.2" cy="730.3" r="1.333"/><circle cx="1114.1" cy="727.1" r="1.333"/><circle cx="1098.3" cy="745.3" r="1.333"/><circle cx="1090.2" cy="752.2" r="1.333"/><circle cx="1106.4" cy="761.1" r="1.333"/><circle cx="1109.2" cy="767.2" r="1.333"/><circle cx="1088.2" cy="804.0" r="1.333"/><circle cx="1117.3" cy="845.3" r="1.333"/><circle cx="1065.2" cy="473.2" r="1.333"/><circle cx="1069.5" cy="474.4" r="1.333"/><circle cx="1063.4" cy="477.5" r="1.333"/><circle cx="1075.4" cy="476.4" r="1.333"/><circle cx="1084.3" cy="476.4" r="1.333"/><circle cx="1091.3" cy="474.4" r="1.333"/><circle cx="1103.2" cy="473.4" r="1.333"/><circle cx="1107.5" cy="471.4" r="1.333"/><circle cx="1079.4" cy="481.4" r="1.333"/><circle cx="1114.3" cy="482.1" r="1.333"/><circle cx="1114.3" cy="486.5" r="1.333"/><circle cx="1063.4" cy="485.4" r="1.333"/><circle cx="1060.4" cy="489.7" r="1.333"/><circle cx="1059.4" cy="493.5" r="1.333"/><circle cx="1069.5" cy="491.3" r="1.333"/><circle cx="1071.4" cy="494.4" r="1.333"/><circle cx="1065.5" cy="497.7" r="1.333"/><circle cx="1065.8" cy="498.0" r="1.333"/><circle cx="1086.4" cy="496.5" r="1.333"/><circle cx="1072.4" cy="500.4" r="1.333"/><circle cx="1079.4" cy="504.5" r="1.333"/><circle cx="1060.4" cy="513.8" r="1.333"/><circle cx="1060.6" cy="514.2" r="1.333"/><circle cx="1063.4" cy="518.3" r="1.333"/><circle cx="1085.4" cy="519.4" r="1.333"/><circle cx="1115.4" cy="521.3" r="1.333"/><circle cx="1128.3" cy="534.3" r="1.333"/><circle cx="1069.4" cy="535.9" r="1.333"/><circle cx="1069.4" cy="539.1" r="1.333"/><circle cx="1082.4" cy="544.3" r="1.333"/><circle cx="1071.4" cy="547.4" r="1.333"/><circle cx="1095.4" cy="548.3" r="1.333"/><circle cx="1063.4" cy="563.4" r="1.333"/><circle cx="886.4" cy="678.3" r="1.333"/><circle cx="898.2" cy="682.4" r="1.333"/><circle cx="909.4" cy="677.2" r="1.333"/><circle cx="920.4" cy="681.2" r="1.333"/><circle cx="926.4" cy="676.3" r="1.333"/><circle cx="881.2" cy="693.3" r="1.333"/><circle cx="883.2" cy="700.2" r="1.333"/><circle cx="927.3" cy="692.2" r="1.333"/><circle cx="953.2" cy="698.2" r="1.333"/><circle cx="961.3" cy="695.3" r="1.333"/><circle cx="968.2" cy="694.2" r="1.333"/><circle cx="976.3" cy="693.3" r="1.333"/><circle cx="1034.2" cy="695.3" r="1.333"/><circle cx="1032.5" cy="705.4" r="1.333"/><circle cx="1006.5" cy="710.3" r="1.333"/><circle cx="1041.4" cy="719.3" r="1.333"/><circle cx="893.3" cy="707.4" r="1.333"/><circle cx="889.0" cy="719.3" r="1.333"/><circle cx="893.6" cy="719.3" r="1.333"/><circle cx="893.6" cy="723.3" r="1.333"/><circle cx="908.3" cy="733.4" r="1.333"/><circle cx="921.2" cy="731.4" r="1.333"/><circle cx="966.5" cy="732.2" r="1.333"/><circle cx="883.2" cy="742.3" r="1.333"/><circle cx="906.2" cy="743.2" r="1.333"/><circle cx="939.4" cy="747.2" r="1.333"/><circle cx="947.2" cy="742.3" r="1.333"/><circle cx="888.4" cy="752.1" r="1.333"/><circle cx="895.3" cy="756.4" r="1.333"/><circle cx="971.1" cy="758.2" r="1.333"/><circle cx="1023.3" cy="749.2" r="1.333"/><circle cx="892.1" cy="767.1" r="1.333"/><circle cx="894.4" cy="776.3" r="1.333"/><circle cx="1024.4" cy="771.4" r="1.333"/><circle cx="1051.2" cy="783.2" r="1.333"/><circle cx="947.2" cy="788.4" r="1.333"/><circle cx="934.5" cy="799.4" r="1.333"/><circle cx="1010.3" cy="794.2" r="1.333"/><circle cx="1011.4" cy="799.4" r="1.333"/><circle cx="902.5" cy="815.2" r="1.333"/><circle cx="896.2" cy="822.1" r="1.333"/><circle cx="927.3" cy="812.3" r="1.333"/><circle cx="970.2" cy="811.2" r="1.333"/><circle cx="934.5" cy="831.4" r="1.333"/><circle cx="895.3" cy="848.1" r="1.333"/><circle cx="893.3" cy="859.3" r="1.333"/><circle cx="917.5" cy="856.2" r="1.333"/><circle cx="952.4" cy="869.1" r="1.333"/><circle cx="704.4" cy="885.4" r="1.333"/><circle cx="710.4" cy="881.8" r="1.333"/><circle cx="722.3" cy="889.4" r="1.333"/><circle cx="721.4" cy="895.5" r="1.333"/><circle cx="737.4" cy="895.5" r="1.333"/><circle cx="721.4" cy="903.5" r="1.333"/><circle cx="748.4" cy="903.5" r="1.333"/><circle cx="764.4" cy="901.4" r="1.333"/><circle cx="772.4" cy="904.4" r="1.333"/><circle cx="874.4" cy="899.4" r="1.333"/><circle cx="712.3" cy="917.3" r="1.333"/><circle cx="728.3" cy="931.4" r="1.333"/><circle cx="732.5" cy="929.4" r="1.333"/><circle cx="814.4" cy="924.4" r="1.333"/><circle cx="311.5" cy="882.4" r="1.333"/><circle cx="332.9" cy="889.4" r="1.333"/><circle cx="322.5" cy="892.4" r="1.333"/><circle cx="324.5" cy="899.4" r="1.333"/><circle cx="297.4" cy="901.3" r="1.333"/><circle cx="288.6" cy="910.3" r="1.333"/><circle cx="285.2" cy="914.5" r="1.333"/><circle cx="323.3" cy="907.3" r="1.333"/><circle cx="324.2" cy="911.5" r="1.333"/><circle cx="323.3" cy="914.5" r="1.333"/><circle cx="334.4" cy="909.3" r="1.333"/><circle cx="304.3" cy="913.9" r="1.333"/><circle cx="304.8" cy="916.8" r="1.333"/><circle cx="307.5" cy="919.2" r="1.333"/><circle cx="314.3" cy="916.6" r="1.333"/><circle cx="329.4" cy="916.2" r="1.333"/><circle cx="297.4" cy="918.3" r="1.333"/><circle cx="290.2" cy="922.3" r="1.333"/><circle cx="325.4" cy="920.4" r="1.333"/><circle cx="330.2" cy="922.8" r="1.333"/><circle cx="330.8" cy="925.8" r="1.333"/><circle cx="332.6" cy="927.6" r="1.333"/><circle cx="297.4" cy="924.2" r="1.333"/><circle cx="297.4" cy="929.4" r="1.333"/><circle cx="306.3" cy="930.2" r="1.333"/><circle cx="321.3" cy="928.4" r="1.333"/><circle cx="255.3" cy="920.3" r="1.333"/><circle cx="273.2" cy="929.4" r="1.333"/><circle cx="286.4" cy="933.2" r="1.333"/><circle cx="258.2" cy="937.3" r="1.333"/><circle cx="267.1" cy="937.3" r="1.333"/><circle cx="272.3" cy="937.3" r="1.333"/><circle cx="334.2" cy="935.4" r="1.333"/><circle cx="287.6" cy="940.7" r="1.333"/><circle cx="287.6" cy="944.3" r="1.333"/><circle cx="263.9" cy="945.3" r="1.333"/><circle cx="261.5" cy="947.3" r="1.333"/><circle cx="263.3" cy="949.3" r="1.333"/><circle cx="273.2" cy="949.3" r="1.333"/><circle cx="273.2" cy="951.5" r="1.333"/><circle cx="316.2" cy="942.2" r="1.333"/><circle cx="318.3" cy="946.2" r="1.333"/><circle cx="326.0" cy="944.3" r="1.333"/><circle cx="331.4" cy="945.3" r="1.333"/><circle cx="304.3" cy="948.3" r="1.333"/><circle cx="244.3" cy="950.3" r="1.333"/><circle cx="251.4" cy="951.3" r="1.333"/><circle cx="252.3" cy="956.3" r="1.333"/><circle cx="265.1" cy="956.3" r="1.333"/><circle cx="239.2" cy="958.3" r="1.333"/><circle cx="224.3" cy="955.3" r="1.333"/><circle cx="210.4" cy="957.2" r="1.333"/><circle cx="227.5" cy="968.3" r="1.333"/><circle cx="238.2" cy="966.3" r="1.333"/><circle cx="240.3" cy="973.2" r="1.333"/><circle cx="286.3" cy="959.4" r="1.333"/><circle cx="300.4" cy="974.2" r="1.333"/><circle cx="264.4" cy="878.2" r="1.333"/><circle cx="333.9" cy="831.4" r="1.333"/><circle cx="333.0" cy="865.3" r="1.333"/><circle cx="333.9" cy="874.0" r="1.333"/><circle cx="330.1" cy="880.3" r="1.333"/><circle cx="430.3" cy="708.5" r="1.333"/><circle cx="445.4" cy="713.4" r="1.333"/><circle cx="510.4" cy="699.4" r="1.333"/><circle cx="498.3" cy="709.5" r="1.333"/><circle cx="512.4" cy="722.4" r="1.333"/><circle cx="507.3" cy="724.4" r="1.333"/><circle cx="500.4" cy="726.3" r="1.333"/><circle cx="512.4" cy="730.4" r="1.333"/><circle cx="454.2" cy="737.3" r="1.333"/><circle cx="483.3" cy="736.4" r="1.333"/><circle cx="478.4" cy="739.4" r="1.333"/><circle cx="500.4" cy="736.4" r="1.333"/><circle cx="506.3" cy="735.3" r="1.333"/><circle cx="507.3" cy="738.3" r="1.333"/><circle cx="510.4" cy="739.4" r="1.333"/><circle cx="443.4" cy="744.4" r="1.333"/><circle cx="513.9" cy="745.3" r="1.333"/><circle cx="512.3" cy="747.4" r="1.333"/><circle cx="501.9" cy="748.9" r="1.333"/><circle cx="502.2" cy="749.3" r="1.333"/><circle cx="508.4" cy="751.4" r="1.333"/><circle cx="513.9" cy="753.5" r="1.333"/><circle cx="513.0" cy="756.4" r="1.333"/><circle cx="513.9" cy="761.2" r="1.333"/><circle cx="362.4" cy="757.4" r="1.333"/><circle cx="431.3" cy="757.4" r="1.333"/><circle cx="437.4" cy="754.4" r="1.333"/><circle cx="447.3" cy="757.4" r="1.333"/><circle cx="480.3" cy="757.4" r="1.333"/><circle cx="497.2" cy="755.4" r="1.333"/><circle cx="503.3" cy="755.4" r="1.333"/><circle cx="477.3" cy="762.4" r="1.333"/><circle cx="475.3" cy="766.4" r="1.333"/><circle cx="490.3" cy="763.4" r="1.333"/><circle cx="481.4" cy="768.4" r="1.333"/><circle cx="486.7" cy="768.4" r="1.333"/><circle cx="487.3" cy="769.6" r="1.333"/><circle cx="496.3" cy="767.2" r="1.333"/><circle cx="495.1" cy="769.6" r="1.333"/><circle cx="503.3" cy="768.4" r="1.333"/><circle cx="506.3" cy="767.2" r="1.333"/><circle cx="507.3" cy="770.3" r="1.333"/><circle cx="512.3" cy="772.3" r="1.333"/><circle cx="515.4" cy="770.3" r="1.333"/><circle cx="400.4" cy="767.3" r="1.333"/><circle cx="445.4" cy="768.4" r="1.333"/><circle cx="454.2" cy="770.3" r="1.333"/><circle cx="467.3" cy="775.0" r="1.333"/><circle cx="484.3" cy="773.3" r="1.333"/><circle cx="492.2" cy="773.3" r="1.333"/><circle cx="489.1" cy="775.6" r="1.333"/><circle cx="504.3" cy="774.4" r="1.333"/><circle cx="511.2" cy="775.6" r="1.333"/><circle cx="571.3" cy="476.5" r="1.333"/><circle cx="618.4" cy="470.4" r="1.333"/><circle cx="649.2" cy="480.5" r="1.333"/><circle cx="652.4" cy="481.4" r="1.333"/><circle cx="686.4" cy="493.5" r="1.333"/><circle cx="679.3" cy="509.4" r="1.333"/><circle cx="694.8" cy="509.4" r="1.333"/><circle cx="681.5" cy="517.4" r="1.333"/><circle cx="682.1" cy="516.4" r="1.333"/><circle cx="562.4" cy="519.4" r="1.333"/><circle cx="525.3" cy="532.3" r="1.333"/><circle cx="659.4" cy="537.4" r="1.333"/><circle cx="696.4" cy="540.3" r="1.333"/><circle cx="678.2" cy="549.4" r="1.333"/><circle cx="683.3" cy="552.3" r="1.333"/><circle cx="680.3" cy="557.4" r="1.333"/><circle cx="585.3" cy="564.3" r="1.333"/><circle cx="628.3" cy="568.7" r="1.333"/><circle cx="643.5" cy="567.3" r="1.333"/><circle cx="656.4" cy="568.7" r="1.333"/><circle cx="694.9" cy="568.7" r="1.333"/><circle cx="691.4" cy="569.7" r="1.333"/><circle cx="433.3" cy="575.3" r="1.333"/><circle cx="499.3" cy="574.3" r="1.333"/><circle cx="471.3" cy="584.3" r="1.333"/><circle cx="428.3" cy="594.4" r="1.333"/><circle cx="455.3" cy="664.1" r="1.333"/><circle cx="509.3" cy="665.1" r="1.333"/><circle cx="1072.3" cy="366.1" r="1.333"/><circle cx="1071.4" cy="369.4" r="1.333"/><circle cx="1085.4" cy="363.7" r="1.333"/><circle cx="1090.4" cy="364.6" r="1.333"/><circle cx="1094.4" cy="372.4" r="1.333"/><circle cx="1111.4" cy="378.4" r="1.333"/><circle cx="1116.5" cy="373.3" r="1.333"/><circle cx="1122.4" cy="372.4" r="1.333"/><circle cx="1133.3" cy="377.2" r="1.333"/><circle cx="1138.2" cy="377.2" r="1.333"/><circle cx="1146.3" cy="382.2" r="1.333"/><circle cx="1069.6" cy="383.4" r="1.333"/><circle cx="1070.5" cy="385.4" r="1.333"/><circle cx="1097.4" cy="393.3" r="1.333"/><circle cx="1117.4" cy="389.2" r="1.333"/><circle cx="1134.4" cy="390.3" r="1.333"/><circle cx="1136.2" cy="394.2" r="1.333"/><circle cx="1141.5" cy="394.2" r="1.333"/><circle cx="1144.5" cy="395.6" r="1.333"/><circle cx="1076.5" cy="398.3" r="1.333"/><circle cx="1083.4" cy="397.2" r="1.333"/><circle cx="1112.3" cy="396.5" r="1.333"/><circle cx="1117.4" cy="402.3" r="1.333"/><circle cx="1135.3" cy="401.3" r="1.333"/><circle cx="1081.1" cy="405.2" r="1.333"/><circle cx="1079.4" cy="406.1" r="1.333"/><circle cx="1076.5" cy="409.3" r="1.333"/><circle cx="1087.5" cy="406.3" r="1.333"/><circle cx="1089.6" cy="407.5" r="1.333"/><circle cx="1096.4" cy="407.2" r="1.333"/><circle cx="1119.4" cy="409.2" r="1.333"/><circle cx="1128.4" cy="409.2" r="1.333"/><circle cx="1122.4" cy="413.5" r="1.333"/><circle cx="1133.5" cy="412.4" r="1.333"/><circle cx="1107.4" cy="412.4" r="1.333"/><circle cx="1101.5" cy="414.4" r="1.333"/><circle cx="1061.6" cy="414.7" r="1.333"/><circle cx="1061.8" cy="415.2" r="1.333"/><circle cx="1060.8" cy="422.2" r="1.333"/><circle cx="1070.3" cy="422.2" r="1.333"/><circle cx="1099.4" cy="422.2" r="1.333"/><circle cx="1114.4" cy="421.3" r="1.333"/><circle cx="1082.4" cy="426.3" r="1.333"/><circle cx="1103.4" cy="426.3" r="1.333"/><circle cx="1138.5" cy="424.5" r="1.333"/><circle cx="1070.3" cy="430.0" r="1.333"/><circle cx="1070.5" cy="429.5" r="1.333"/><circle cx="1113.5" cy="429.1" r="1.333"/><circle cx="1059.9" cy="431.4" r="1.333"/><circle cx="1108.2" cy="434.4" r="1.333"/><circle cx="1059.9" cy="437.4" r="1.333"/><circle cx="1095.3" cy="437.4" r="1.333"/><circle cx="1123.3" cy="438.3" r="1.333"/><circle cx="1148.6" cy="436.3" r="1.333"/><circle cx="1082.4" cy="440.3" r="1.333"/><circle cx="1116.4" cy="442.4" r="1.333"/><circle cx="1065.4" cy="443.3" r="1.333"/><circle cx="1059.9" cy="443.3" r="1.333"/><circle cx="1059.5" cy="447.5" r="1.333"/><circle cx="1069.4" cy="451.2" r="1.333"/><circle cx="1116.4" cy="450.4" r="1.333"/><circle cx="1095.3" cy="452.5" r="1.333"/><circle cx="1069.4" cy="456.2" r="1.333"/><circle cx="1083.4" cy="456.2" r="1.333"/><circle cx="1089.3" cy="456.2" r="1.333"/><circle cx="1135.3" cy="455.3" r="1.333"/><circle cx="1103.4" cy="459.3" r="1.333"/><circle cx="1079.4" cy="463.1" r="1.333"/><circle cx="1097.4" cy="463.1" r="1.333"/><circle cx="1105.4" cy="464.0" r="1.333"/><circle cx="1129.3" cy="463.1" r="1.333"/><circle cx="1125.2" cy="465.4" r="1.333"/><circle cx="1176.5" cy="366.3" r="1.333"/><circle cx="1183.4" cy="372.4" r="1.333"/><circle cx="1157.4" cy="375.3" r="1.333"/><circle cx="1157.4" cy="378.5" r="1.333"/><circle cx="1172.3" cy="382.4" r="1.333"/><circle cx="1212.3" cy="369.4" r="1.333"/><circle cx="1219.4" cy="376.4" r="1.333"/><circle cx="1182.2" cy="390.3" r="1.333"/><circle cx="1156.3" cy="396.5" r="1.333"/><circle cx="1197.3" cy="402.4" r="1.333"/><circle cx="1168.4" cy="410.4" r="1.333"/><circle cx="1171.4" cy="421.5" r="1.333"/><circle cx="1206.3" cy="430.3" r="1.333"/><circle cx="1153.4" cy="465.4" r="1.333"/></g></g>
   <g id="matplotlib.axis_1">
    <g id="xtick_1">
     <g id="line2d_1">
      <path d="M 57.75 385.5 
L 57.75 22.875 
" clip-path="url(#p649a1bbf76)" style="fill: none; stroke: #b0b0b0; stroke-opacity: 0.3; stroke-width: 0.8; stroke-linecap: square"/>
     </g>
     <g id="line2d_2">
      <defs>
       <path id="m98d4bec337" d="M 0 0 
L 0 3.5 
" style="stroke: #000000; stroke-width: 0.8"/>
      </defs>
      <g>
       <use xlink:href="#m98d4bec337" x="57.75" y="385.5" style="stroke: #000000; stroke-width: 0.8"/>
      </g>
     </g>
     <g id="XT1" transform="translate(0.1125 0.3000)">
      <!-- 0 -->
      <g transform="translate(54.975 400.459375) scale(0.1 -0.1)">
       <defs>
        <path id="NotoSansCJKjp-Regular-30" d="M 1779 -83 
C 2669 -83 3238 723 3238 2362 
C 3238 3987 2669 4774 1779 4774 
C 883 4774 320 3987 320 2362 
C 320 723 883 -83 1779 -83 
z
M 1779 390 
C 1248 390 883 986 883 2362 
C 883 3731 1248 4314 1779 4314 
C 2310 4314 2675 3731 2675 2362 
C 2675 986 2310 390 1779 390 
z
" transform="scale(0.015625)"/>
       </defs>
       <use xlink:href="#NotoSansCJKjp-Regular-30"/>
      </g>
     </g>
    </g>
    <g id="xtick_2">
     <g id="line2d_3">
      <path d="M 125.625 385.5 
L 125.625 22.875 
" clip-path="url(#p649a1bbf76)" style="fill: none; stroke: #b0b0b0; stroke-opacity: 0.3; stroke-width: 0.8; stroke-linecap: square"/>
     </g>
     <g id="line2d_4">
      <g>
       <use xlink:href="#m98d4bec337" x="125.625" y="385.5" style="stroke: #000000; stroke-width: 0.8"/>
      </g>
     </g>
     <g id="XT2" transform="translate(0.1125 0.3000)">
      <!-- 1 -->
      <g transform="translate(122.85 400.459375) scale(0.1 -0.1)">
       <defs>
        <path id="NotoSansCJKjp-Regular-31" d="M 563 0 
L 3136 0 
L 3136 486 
L 2195 486 
L 2195 4691 
L 1747 4691 
C 1491 4544 1190 4435 774 4358 
L 774 3987 
L 1613 3987 
L 1613 486 
L 563 486 
L 563 0 
z
" transform="scale(0.015625)"/>
       </defs>
       <use xlink:href="#NotoSansCJKjp-Regular-31"/>
      </g>
     </g>
    </g>
    <g id="xtick_3">
     <g id="line2d_5">
      <path d="M 193.5 385.5 
L 193.5 22.875 
" clip-path="url(#p649a1bbf76)" style="fill: none; stroke: #b0b0b0; stroke-opacity: 0.3; stroke-width: 0.8; stroke-linecap: square"/>
     </g>
     <g id="line2d_6">
      <g>
       <use xlink:href="#m98d4bec337" x="193.5" y="385.5" style="stroke: #000000; stroke-width: 0.8"/>
      </g>
     </g>
     <g id="XT3" transform="translate(0.1125 0.3000)">
      <!-- 2 -->
      <g transform="translate(190.725 400.459375) scale(0.1 -0.1)">
       <defs>
        <path id="NotoSansCJKjp-Regular-32" d="M 282 0 
L 3232 0 
L 3232 506 
L 1933 506 
C 1696 506 1408 480 1165 461 
C 2266 1504 3008 2458 3008 3398 
C 3008 4230 2477 4774 1638 4774 
C 1043 4774 634 4506 256 4090 
L 595 3757 
C 858 4070 1184 4301 1568 4301 
C 2150 4301 2432 3910 2432 3373 
C 2432 2566 1754 1632 282 346 
L 282 0 
z
" transform="scale(0.015625)"/>
       </defs>
       <use xlink:href="#NotoSansCJKjp-Regular-32"/>
      </g>
     </g>
    </g>
    <g id="xtick_4">
     <g id="line2d_7">
      <path d="M 261.375 385.5 
L 261.375 22.875 
" clip-path="url(#p649a1bbf76)" style="fill: none; stroke: #b0b0b0; stroke-opacity: 0.3; stroke-width: 0.8; stroke-linecap: square"/>
     </g>
     <g id="line2d_8">
      <g>
       <use xlink:href="#m98d4bec337" x="261.375" y="385.5" style="stroke: #000000; stroke-width: 0.8"/>
      </g>
     </g>
     <g id="XT4" transform="translate(0.1125 0.3000)">
      <!-- 3 -->
      <g transform="translate(258.6 400.459375) scale(0.1 -0.1)">
       <defs>
        <path id="NotoSansCJKjp-Regular-33" d="M 1683 -83 
C 2522 -83 3194 416 3194 1254 
C 3194 1901 2752 2310 2202 2445 
L 2202 2477 
C 2701 2650 3034 3034 3034 3603 
C 3034 4346 2458 4774 1664 4774 
C 1126 4774 710 4538 358 4218 
L 672 3846 
C 941 4115 1267 4301 1645 4301 
C 2138 4301 2438 4006 2438 3558 
C 2438 3053 2112 2662 1139 2662 
L 1139 2214 
C 2227 2214 2598 1843 2598 1274 
C 2598 736 2208 403 1645 403 
C 1114 403 762 659 486 941 
L 186 563 
C 493 224 954 -83 1683 -83 
z
" transform="scale(0.015625)"/>
       </defs>
       <use xlink:href="#NotoSansCJKjp-Regular-33"/>
      </g>
     </g>
    </g>
    <g id="xtick_5">
     <g id="line2d_9">
      <path d="M 329.25 385.5 
L 329.25 22.875 
" clip-path="url(#p649a1bbf76)" style="fill: none; stroke: #b0b0b0; stroke-opacity: 0.3; stroke-width: 0.8; stroke-linecap: square"/>
     </g>
     <g id="line2d_10">
      <g>
       <use xlink:href="#m98d4bec337" x="329.25" y="385.5" style="stroke: #000000; stroke-width: 0.8"/>
      </g>
     </g>
     <g id="XT5" transform="translate(0.1125 0.3000)">
      <!-- 4 -->
      <g transform="translate(326.475 400.459375) scale(0.1 -0.1)">
       <defs>
        <path id="NotoSansCJKjp-Regular-34" d="M 2176 0 
L 2726 0 
L 2726 1293 
L 3354 1293 
L 3354 1760 
L 2726 1760 
L 2726 4691 
L 2080 4691 
L 128 1677 
L 128 1293 
L 2176 1293 
L 2176 0 
z
M 2176 1760 
L 736 1760 
L 1805 3360 
C 1939 3590 2067 3827 2182 4051 
L 2208 4051 
C 2195 3814 2176 3430 2176 3200 
L 2176 1760 
z
" transform="scale(0.015625)"/>
       </defs>
       <use xlink:href="#NotoSansCJKjp-Regular-34"/>
      </g>
     </g>
    </g>
    <g id="xtick_6">
     <g id="line2d_11">
      <path d="M 397.125 385.5 
L 397.125 22.875 
" clip-path="url(#p649a1bbf76)" style="fill: none; stroke: #b0b0b0; stroke-opacity: 0.3; stroke-width: 0.8; stroke-linecap: square"/>
     </g>
     <g id="line2d_12">
      <g>
       <use xlink:href="#m98d4bec337" x="397.125" y="385.5" style="stroke: #000000; stroke-width: 0.8"/>
      </g>
     </g>
     <g id="XT6" transform="translate(0.1125 0.3000)">
      <!-- 5 -->
      <g transform="translate(394.35 400.459375) scale(0.1 -0.1)">
       <defs>
        <path id="NotoSansCJKjp-Regular-35" d="M 1677 -83 
C 2464 -83 3213 499 3213 1523 
C 3213 2560 2573 3021 1798 3021 
C 1517 3021 1306 2950 1094 2835 
L 1216 4192 
L 2982 4192 
L 2982 4691 
L 704 4691 
L 550 2502 
L 864 2304 
C 1133 2483 1331 2579 1645 2579 
C 2234 2579 2618 2182 2618 1510 
C 2618 826 2176 403 1619 403 
C 1075 403 730 653 467 922 
L 173 538 
C 493 224 941 -83 1677 -83 
z
" transform="scale(0.015625)"/>
       </defs>
       <use xlink:href="#NotoSansCJKjp-Regular-35"/>
      </g>
     </g>
    </g>
    <g id="xtick_7">
     <g id="line2d_13">
      <path d="M 465 385.5 
L 465 22.875 
" clip-path="url(#p649a1bbf76)" style="fill: none; stroke: #b0b0b0; stroke-opacity: 0.3; stroke-width: 0.8; stroke-linecap: square"/>
     </g>
     <g id="line2d_14">
      <g>
       <use xlink:href="#m98d4bec337" x="465" y="385.5" style="stroke: #000000; stroke-width: 0.8"/>
      </g>
     </g>
     <g id="XT7" transform="translate(0.1125 0.3000)">
      <!-- 6 -->
      <g transform="translate(462.225 400.459375) scale(0.1 -0.1)">
       <defs>
        <path id="NotoSansCJKjp-Regular-36" d="M 1926 -83 
C 2656 -83 3277 531 3277 1440 
C 3277 2426 2765 2912 1971 2912 
C 1606 2912 1197 2701 909 2349 
C 934 3802 1466 4294 2118 4294 
C 2400 4294 2682 4154 2861 3936 
L 3194 4294 
C 2931 4576 2579 4774 2093 4774 
C 1184 4774 358 4077 358 2240 
C 358 691 1030 -83 1926 -83 
z
M 922 1882 
C 1229 2317 1587 2477 1875 2477 
C 2445 2477 2720 2074 2720 1440 
C 2720 800 2374 378 1926 378 
C 1338 378 986 909 922 1882 
z
" transform="scale(0.015625)"/>
       </defs>
       <use xlink:href="#NotoSansCJKjp-Regular-36"/>
      </g>
     </g>
    </g>
    <g id="xtick_8">
     <g id="line2d_15">
      <path d="M 532.875 385.5 
L 532.875 22.875 
" clip-path="url(#p649a1bbf76)" style="fill: none; stroke: #b0b0b0; stroke-opacity: 0.3; stroke-width: 0.8; stroke-linecap: square"/>
     </g>
     <g id="line2d_16">
      <g>
       <use xlink:href="#m98d4bec337" x="532.875" y="385.5" style="stroke: #000000; stroke-width: 0.8"/>
      </g>
     </g>
     <g id="XT8" transform="translate(0.1125 0.3000)">
      <!-- 7 -->
      <g transform="translate(530.1 400.459375) scale(0.1 -0.1)">
       <defs>
        <path id="NotoSansCJKjp-Regular-37" d="M 1267 0 
L 1875 0 
C 1952 1837 2150 2931 3251 4339 
L 3251 4691 
L 314 4691 
L 314 4192 
L 2592 4192 
C 1670 2912 1350 1779 1267 0 
z
" transform="scale(0.015625)"/>
       </defs>
       <use xlink:href="#NotoSansCJKjp-Regular-37"/>
      </g>
     </g>
    </g>
    <g id="XLABEL" transform="translate(0.2438 0.0000)">
     <!-- Original Distances -->
     <g transform="translate(255.184375 414.709375) scale(0.1 -0.1)">
      <defs>
       <path id="NotoSansCJKjp-Regular-4f" d="M 2374 -83 
C 3552 -83 4378 858 4378 2362 
C 4378 3866 3552 4774 2374 4774 
C 1197 4774 371 3866 371 2362 
C 371 858 1197 -83 2374 -83 
z
M 2374 435 
C 1530 435 979 1190 979 2362 
C 979 3533 1530 4256 2374 4256 
C 3219 4256 3770 3533 3770 2362 
C 3770 1190 3219 435 2374 435 
z
" transform="scale(0.015625)"/>
       <path id="NotoSansCJKjp-Regular-72" d="M 589 0 
L 1178 0 
L 1178 2234 
C 1408 2822 1760 3040 2048 3040 
C 2195 3040 2272 3021 2387 2982 
L 2496 3488 
C 2387 3546 2278 3565 2125 3565 
C 1741 3565 1382 3283 1139 2842 
L 1126 2842 
L 1069 3475 
L 589 3475 
L 589 0 
z
" transform="scale(0.015625)"/>
       <path id="NotoSansCJKjp-Regular-69" d="M 589 0 
L 1178 0 
L 1178 3475 
L 589 3475 
L 589 0 
z
M 883 4192 
C 1114 4192 1274 4346 1274 4582 
C 1274 4806 1114 4960 883 4960 
C 653 4960 499 4806 499 4582 
C 499 4346 653 4192 883 4192 
z
" transform="scale(0.015625)"/>
       <path id="NotoSansCJKjp-Regular-67" d="M 1760 -1600 
C 2835 -1600 3520 -1043 3520 -397 
C 3520 179 3110 429 2310 429 
L 1626 429 
C 1158 429 1018 589 1018 806 
C 1018 998 1114 1114 1242 1222 
C 1395 1146 1587 1101 1754 1101 
C 2470 1101 3027 1568 3027 2310 
C 3027 2611 2912 2867 2746 3027 
L 3456 3027 
L 3456 3475 
L 2246 3475 
C 2125 3526 1952 3565 1754 3565 
C 1056 3565 454 3085 454 2323 
C 454 1907 678 1568 909 1389 
L 909 1363 
C 723 1235 525 1005 525 717 
C 525 442 659 256 838 147 
L 838 115 
C 512 -83 326 -371 326 -672 
C 326 -1267 915 -1600 1760 -1600 
z
M 1754 1498 
C 1357 1498 1018 1818 1018 2323 
C 1018 2835 1350 3136 1754 3136 
C 2170 3136 2496 2835 2496 2323 
C 2496 1818 2157 1498 1754 1498 
z
M 1843 -1197 
C 1210 -1197 838 -960 838 -589 
C 838 -390 941 -179 1190 0 
C 1344 -38 1510 -51 1638 -51 
L 2240 -51 
C 2701 -51 2944 -166 2944 -493 
C 2944 -851 2515 -1197 1843 -1197 
z
" transform="scale(0.015625)"/>
       <path id="NotoSansCJKjp-Regular-6e" d="M 589 0 
L 1178 0 
L 1178 2522 
C 1523 2874 1766 3053 2125 3053 
C 2586 3053 2784 2778 2784 2125 
L 2784 0 
L 3366 0 
L 3366 2202 
C 3366 3085 3034 3565 2304 3565 
C 1830 3565 1466 3302 1139 2970 
L 1126 2970 
L 1069 3475 
L 589 3475 
L 589 0 
z
" transform="scale(0.015625)"/>
       <path id="NotoSansCJKjp-Regular-61" d="M 1389 -83 
C 1818 -83 2208 141 2541 416 
L 2560 416 
L 2611 0 
L 3091 0 
L 3091 2138 
C 3091 3002 2739 3565 1888 3565 
C 1325 3565 838 3315 525 3110 
L 749 2707 
C 1024 2893 1389 3078 1792 3078 
C 2362 3078 2509 2650 2509 2202 
C 1030 2035 378 1658 378 902 
C 378 275 806 -83 1389 -83 
z
M 1555 390 
C 1210 390 941 544 941 941 
C 941 1389 1338 1677 2509 1811 
L 2509 845 
C 2170 544 1888 390 1555 390 
z
" transform="scale(0.015625)"/>
       <path id="NotoSansCJKjp-Regular-6c" d="M 1203 -83 
C 1363 -83 1459 -58 1542 -32 
L 1459 416 
C 1395 403 1370 403 1338 403 
C 1248 403 1178 474 1178 653 
L 1178 5094 
L 589 5094 
L 589 691 
C 589 198 768 -83 1203 -83 
z
" transform="scale(0.015625)"/>
       <path id="NotoSansCJKjp-Regular-20" transform="scale(0.015625)"/>
       <path id="NotoSansCJKjp-Regular-44" d="M 646 0 
L 1843 0 
C 3258 0 4026 877 4026 2362 
C 4026 3859 3258 4691 1818 4691 
L 646 4691 
L 646 0 
z
M 1235 486 
L 1235 4211 
L 1766 4211 
C 2874 4211 3418 3552 3418 2362 
C 3418 1178 2874 486 1766 486 
L 1235 486 
z
" transform="scale(0.015625)"/>
       <path id="NotoSansCJKjp-Regular-73" d="M 1498 -83 
C 2317 -83 2758 384 2758 947 
C 2758 1606 2208 1811 1702 2003 
C 1312 2150 954 2278 954 2605 
C 954 2880 1158 3110 1600 3110 
C 1907 3110 2150 2976 2387 2803 
L 2669 3168 
C 2406 3386 2022 3565 1594 3565 
C 832 3565 397 3130 397 2579 
C 397 1984 922 1754 1408 1574 
C 1792 1434 2202 1267 2202 915 
C 2202 614 1978 371 1517 371 
C 1101 371 794 538 486 787 
L 205 397 
C 531 122 1005 -83 1498 -83 
z
" transform="scale(0.015625)"/>
       <path id="NotoSansCJKjp-Regular-74" d="M 1677 -83 
C 1894 -83 2125 -19 2323 45 
L 2208 486 
C 2093 435 1939 390 1811 390 
C 1408 390 1274 634 1274 1056 
L 1274 3002 
L 2221 3002 
L 2221 3475 
L 1274 3475 
L 1274 4454 
L 787 4454 
L 723 3475 
L 173 3443 
L 173 3002 
L 691 3002 
L 691 1075 
C 691 378 941 -83 1677 -83 
z
" transform="scale(0.015625)"/>
       <path id="NotoSansCJKjp-Regular-63" d="M 1958 -83 
C 2374 -83 2771 83 3085 352 
L 2829 749 
C 2611 557 2330 403 2010 403 
C 1370 403 934 934 934 1734 
C 934 2534 1395 3072 2029 3072 
C 2298 3072 2522 2950 2720 2771 
L 3014 3155 
C 2771 3373 2458 3565 2003 3565 
C 1107 3565 333 2893 333 1734 
C 333 582 1037 -83 1958 -83 
z
" transform="scale(0.015625)"/>
       <path id="NotoSansCJKjp-Regular-65" d="M 1997 -83 
C 2464 -83 2835 70 3136 269 
L 2931 659 
C 2669 486 2400 384 2061 384 
C 1402 384 947 858 909 1600 
L 3251 1600 
C 3264 1690 3277 1805 3277 1933 
C 3277 2925 2778 3565 1888 3565 
C 1094 3565 333 2867 333 1734 
C 333 589 1069 -83 1997 -83 
z
M 902 2016 
C 973 2707 1408 3098 1901 3098 
C 2445 3098 2765 2720 2765 2016 
L 902 2016 
z
" transform="scale(0.015625)"/>
      </defs>
      <use xlink:href="#NotoSansCJKjp-Regular-4f"/>
      <use xlink:href="#NotoSansCJKjp-Regular-72" transform="translate(74.199982 0)"/>
      <use xlink:href="#NotoSansCJKjp-Regular-69" transform="translate(112.999969 0)"/>
      <use xlink:href="#NotoSansCJKjp-Regular-67" transform="translate(140.499954 0)"/>
      <use xlink:href="#NotoSansCJKjp-Regular-69" transform="translate(196.899948 0)"/>
      <use xlink:href="#NotoSansCJKjp-Regular-6e" transform="translate(224.399933 0)"/>
      <use xlink:href="#NotoSansCJKjp-Regular-61" transform="translate(285.399918 0)"/>
      <use xlink:href="#NotoSansCJKjp-Regular-6c" transform="translate(341.699905 0)"/>
      <use xlink:href="#NotoSansCJKjp-Regular-20" transform="translate(370.099899 0)"/>
      <use xlink:href="#NotoSansCJKjp-Regular-44" transform="translate(392.499893 0)"/>
      <use xlink:href="#NotoSansCJKjp-Regular-69" transform="translate(461.299881 0)"/>
      <use xlink:href="#NotoSansCJKjp-Regular-73" transform="translate(488.799866 0)"/>
      <use xlink:href="#NotoSansCJKjp-Regular-74" transform="translate(535.599854 0)"/>
      <use xlink:href="#NotoSansCJKjp-Regular-61" transform="translate(573.29985 0)"/>
      <use xlink:href="#NotoSansCJKjp-Regular-6e" transform="translate(629.599838 0)"/>
      <use xlink:href="#NotoSansCJKjp-Regular-63" transform="translate(690.599823 0)"/>
      <use xlink:href="#NotoSansCJKjp-Regular-65" transform="translate(741.599808 0)"/>
      <use xlink:href="#NotoSansCJKjp-Regular-73" transform="translate(796.999802 0)"/>
     </g>
    </g>
   </g>
   <g id="matplotlib.axis_2">
    <g id="ytick_1">
     <g id="line2d_17">
      <path d="M 33.75 369.375 
L 561 369.375 
" clip-path="url(#p649a1bbf76)" style="fill: none; stroke: #b0b0b0; stroke-opacity: 0.3; stroke-width: 0.8; stroke-linecap: square"/>
     </g>
     <g id="line2d_18">
      <defs>
       <path id="mc05a9ddb0d" d="M 0 0 
L -3.5 0 
" style="stroke: #000000; stroke-width: 0.8"/>
      </defs>
      <g>
       <use xlink:href="#mc05a9ddb0d" x="33.75" y="369.375" style="stroke: #000000; stroke-width: 0.8"/>
      </g>
     </g>
     <g id="YT1" transform="translate(0.1875 0.0750)">
      <!-- 0 -->
      <g transform="translate(21.2 373.354688) scale(0.1 -0.1)">
       <use xlink:href="#NotoSansCJKjp-Regular-30"/>
      </g>
     </g>
    </g>
    <g id="ytick_2">
     <g id="line2d_19">
      <path d="M 33.75 291.46875 
L 561 291.46875 
" clip-path="url(#p649a1bbf76)" style="fill: none; stroke: #b0b0b0; stroke-opacity: 0.3; stroke-width: 0.8; stroke-linecap: square"/>
     </g>
     <g id="line2d_20">
      <g>
       <use xlink:href="#mc05a9ddb0d" x="33.75" y="291.46875" style="stroke: #000000; stroke-width: 0.8"/>
      </g>
     </g>
     <g id="YT2" transform="translate(0.1875 0.0750)">
      <!-- 2 -->
      <g transform="translate(21.2 295.448438) scale(0.1 -0.1)">
       <use xlink:href="#NotoSansCJKjp-Regular-32"/>
      </g>
     </g>
    </g>
    <g id="ytick_3">
     <g id="line2d_21">
      <path d="M 33.75 213.5625 
L 561 213.5625 
" clip-path="url(#p649a1bbf76)" style="fill: none; stroke: #b0b0b0; stroke-opacity: 0.3; stroke-width: 0.8; stroke-linecap: square"/>
     </g>
     <g id="line2d_22">
      <g>
       <use xlink:href="#mc05a9ddb0d" x="33.75" y="213.5625" style="stroke: #000000; stroke-width: 0.8"/>
      </g>
     </g>
     <g id="YT3" transform="translate(0.1875 0.0750)">
      <!-- 4 -->
      <g transform="translate(21.2 217.542188) scale(0.1 -0.1)">
       <use xlink:href="#NotoSansCJKjp-Regular-34"/>
      </g>
     </g>
    </g>
    <g id="ytick_4">
     <g id="line2d_23">
      <path d="M 33.75 135.65625 
L 561 135.65625 
" clip-path="url(#p649a1bbf76)" style="fill: none; stroke: #b0b0b0; stroke-opacity: 0.3; stroke-width: 0.8; stroke-linecap: square"/>
     </g>
     <g id="line2d_24">
      <g>
       <use xlink:href="#mc05a9ddb0d" x="33.75" y="135.65625" style="stroke: #000000; stroke-width: 0.8"/>
      </g>
     </g>
     <g id="YT4" transform="translate(0.1875 0.0750)">
      <!-- 6 -->
      <g transform="translate(21.2 139.635938) scale(0.1 -0.1)">
       <use xlink:href="#NotoSansCJKjp-Regular-36"/>
      </g>
     </g>
    </g>
    <g id="ytick_5">
     <g id="line2d_25">
      <path d="M 33.75 57.75 
L 561 57.75 
" clip-path="url(#p649a1bbf76)" style="fill: none; stroke: #b0b0b0; stroke-opacity: 0.3; stroke-width: 0.8; stroke-linecap: square"/>
     </g>
     <g id="line2d_26">
      <g>
       <use xlink:href="#mc05a9ddb0d" x="33.75" y="57.75" style="stroke: #000000; stroke-width: 0.8"/>
      </g>
     </g>
     <g id="YT5" transform="translate(0.1875 0.0750)">
      <!-- 8 -->
      <g transform="translate(21.2 61.729688) scale(0.1 -0.1)">
       <defs>
        <path id="NotoSansCJKjp-Regular-38" d="M 1792 -83 
C 2669 -83 3258 448 3258 1126 
C 3258 1773 2880 2125 2470 2362 
L 2470 2394 
C 2746 2611 3091 3034 3091 3526 
C 3091 4250 2605 4762 1805 4762 
C 1075 4762 518 4282 518 3571 
C 518 3078 813 2726 1152 2490 
L 1152 2464 
C 723 2234 294 1792 294 1165 
C 294 442 922 -83 1792 -83 
z
M 2112 2547 
C 1555 2765 1050 3014 1050 3571 
C 1050 4026 1363 4326 1798 4326 
C 2298 4326 2592 3962 2592 3494 
C 2592 3149 2426 2829 2112 2547 
z
M 1798 352 
C 1235 352 813 717 813 1216 
C 813 1664 1082 2035 1459 2278 
C 2125 2010 2701 1779 2701 1146 
C 2701 678 2342 352 1798 352 
z
" transform="scale(0.015625)"/>
       </defs>
       <use xlink:href="#NotoSansCJKjp-Regular-38"/>
      </g>
     </g>
    </g>
    <g id="YLABEL" transform="translate(-0.3375 0.7500)">
     <!-- MDS Distances -->
     <g transform="translate(14.909375 238.352344) rotate(-90) scale(0.1 -0.1)">
      <defs>
       <path id="NotoSansCJKjp-Regular-4d" d="M 646 0 
L 1178 0 
L 1178 2598 
C 1178 3002 1139 3571 1101 3981 
L 1126 3981 
L 1504 2912 
L 2394 474 
L 2790 474 
L 3674 2912 
L 4051 3981 
L 4077 3981 
C 4045 3571 4000 3002 4000 2598 
L 4000 0 
L 4550 0 
L 4550 4691 
L 3840 4691 
L 2944 2182 
C 2835 1862 2739 1530 2618 1203 
L 2592 1203 
C 2477 1530 2374 1862 2253 2182 
L 1357 4691 
L 646 4691 
L 646 0 
z
" transform="scale(0.015625)"/>
       <path id="NotoSansCJKjp-Regular-53" d="M 1946 -83 
C 2925 -83 3539 506 3539 1248 
C 3539 1946 3117 2266 2573 2502 
L 1907 2790 
C 1542 2944 1126 3117 1126 3578 
C 1126 3994 1472 4256 2003 4256 
C 2438 4256 2784 4090 3072 3821 
L 3379 4198 
C 3053 4538 2560 4774 2003 4774 
C 1152 4774 525 4256 525 3533 
C 525 2848 1043 2515 1478 2330 
L 2150 2035 
C 2598 1837 2938 1683 2938 1197 
C 2938 742 2573 435 1952 435 
C 1466 435 992 666 659 1018 
L 307 608 
C 710 186 1280 -83 1946 -83 
z
" transform="scale(0.015625)"/>
      </defs>
      <use xlink:href="#NotoSansCJKjp-Regular-4d"/>
      <use xlink:href="#NotoSansCJKjp-Regular-44" transform="translate(81.199982 0)"/>
      <use xlink:href="#NotoSansCJKjp-Regular-53" transform="translate(149.999969 0)"/>
      <use xlink:href="#NotoSansCJKjp-Regular-20" transform="translate(209.59996 0)"/>
      <use xlink:href="#NotoSansCJKjp-Regular-44" transform="translate(231.999954 0)"/>
      <use xlink:href="#NotoSansCJKjp-Regular-69" transform="translate(300.799942 0)"/>
      <use xlink:href="#NotoSansCJKjp-Regular-73" transform="translate(328.299927 0)"/>
      <use xlink:href="#NotoSansCJKjp-Regular-74" transform="translate(375.099915 0)"/>
      <use xlink:href="#NotoSansCJKjp-Regular-61" transform="translate(412.799911 0)"/>
      <use xlink:href="#NotoSansCJKjp-Regular-6e" transform="translate(469.099899 0)"/>
      <use xlink:href="#NotoSansCJKjp-Regular-63" transform="translate(530.099884 0)"/>
      <use xlink:href="#NotoSansCJKjp-Regular-65" transform="translate(581.099869 0)"/>
      <use xlink:href="#NotoSansCJKjp-Regular-73" transform="translate(636.499863 0)"/>
     </g>
    </g>
   </g>
   <g id="line2d_27">
    <path d="M 57.75 369.375 
L 537.015375 94.326984 
" clip-path="url(#p649a1bbf76)" style="fill: none; stroke-dasharray: 5.55,2.4; stroke-dashoffset: 0; stroke: #ff0000; stroke-opacity: 0.8; stroke-width: 1.5"/>
   </g>
   <g id="patch_3">
    <path d="M 33.75 385.5 
L 33.75 22.875 
" style="fill: none; stroke: #000000; stroke-width: 0.8; stroke-linejoin: miter; stroke-linecap: square"/>
   </g>
   <g id="patch_4">
    <path d="M 561 385.5 
L 561 22.875 
" style="fill: none; stroke: #000000; stroke-width: 0.8; stroke-linejoin: miter; stroke-linecap: square"/>
   </g>
   <g id="patch_5">
    <path d="M 33.75 385.5 
L 561 385.5 
" style="fill: none; stroke: #000000; stroke-width: 0.8; stroke-linejoin: miter; stroke-linecap: square"/>
   </g>
   <g id="patch_6">
    <path d="M 33.75 22.875 
L 561 22.875 
" style="fill: none; stroke: #000000; stroke-width: 0.8; stroke-linejoin: miter; stroke-linecap: square"/>
   </g>
   <g id="TITLE" transform="translate(0.1613 0.4500)">
    <!-- Shepard Diagram - 거리 보존 정도 -->
    <g transform="translate(207.961875 16.875) scale(0.12 -0.12)">
     <defs>
      <path id="NotoSansCJKjp-Regular-68" d="M 589 0 
L 1178 0 
L 1178 2522 
C 1523 2874 1766 3053 2125 3053 
C 2586 3053 2784 2778 2784 2125 
L 2784 0 
L 3366 0 
L 3366 2202 
C 3366 3085 3034 3565 2304 3565 
C 1830 3565 1472 3302 1152 2982 
L 1178 3699 
L 1178 5094 
L 589 5094 
L 589 0 
z
" transform="scale(0.015625)"/>
      <path id="NotoSansCJKjp-Regular-70" d="M 589 -1466 
L 1178 -1466 
L 1178 -288 
L 1158 320 
C 1472 58 1805 -83 2118 -83 
C 2912 -83 3629 602 3629 1792 
C 3629 2867 3142 3565 2246 3565 
C 1843 3565 1453 3334 1139 3072 
L 1126 3072 
L 1069 3475 
L 589 3475 
L 589 -1466 
z
M 2022 410 
C 1792 410 1485 499 1178 768 
L 1178 2598 
C 1510 2906 1811 3072 2099 3072 
C 2765 3072 3021 2560 3021 1786 
C 3021 928 2598 410 2022 410 
z
" transform="scale(0.015625)"/>
      <path id="NotoSansCJKjp-Regular-64" d="M 1773 -83 
C 2189 -83 2560 141 2829 410 
L 2848 410 
L 2899 0 
L 3379 0 
L 3379 5094 
L 2790 5094 
L 2790 3757 
L 2822 3162 
C 2515 3411 2253 3565 1843 3565 
C 1050 3565 339 2861 339 1734 
C 339 576 902 -83 1773 -83 
z
M 1901 410 
C 1293 410 941 902 941 1741 
C 941 2534 1389 3072 1946 3072 
C 2234 3072 2502 2970 2790 2707 
L 2790 883 
C 2502 563 2221 410 1901 410 
z
" transform="scale(0.015625)"/>
      <path id="NotoSansCJKjp-Regular-6d" d="M 589 0 
L 1178 0 
L 1178 2522 
C 1491 2880 1786 3053 2048 3053 
C 2490 3053 2694 2778 2694 2125 
L 2694 0 
L 3277 0 
L 3277 2522 
C 3603 2880 3885 3053 4154 3053 
C 4595 3053 4800 2778 4800 2125 
L 4800 0 
L 5382 0 
L 5382 2202 
C 5382 3085 5043 3565 4333 3565 
C 3904 3565 3546 3290 3181 2899 
C 3040 3309 2758 3565 2221 3565 
C 1805 3565 1446 3302 1139 2970 
L 1126 2970 
L 1069 3475 
L 589 3475 
L 589 0 
z
" transform="scale(0.015625)"/>
      <path id="NotoSansCJKjp-Regular-2d" d="M 294 1568 
L 1933 1568 
L 1933 2016 
L 294 2016 
L 294 1568 
z
" transform="scale(0.015625)"/>
      <path id="NotoSansCJKjp-Regular-ac70" d="M 3200 2970 
L 3200 2528 
L 4550 2528 
L 4550 -499 
L 5075 -499 
L 5075 5293 
L 4550 5293 
L 4550 2970 
L 3200 2970 
z
M 570 4666 
L 570 4237 
L 2682 4237 
C 2579 2886 1875 1779 320 1018 
L 608 602 
C 2534 1562 3213 3014 3213 4666 
L 570 4666 
z
" transform="scale(0.015625)"/>
      <path id="NotoSansCJKjp-Regular-b9ac" d="M 4538 5293 
L 4538 -506 
L 5062 -506 
L 5062 5293 
L 4538 5293 
z
M 640 4755 
L 640 4320 
L 2778 4320 
L 2778 3117 
L 653 3117 
L 653 896 
L 1133 896 
C 2131 896 3002 934 4045 1107 
L 3994 1542 
C 2982 1382 2138 1338 1190 1338 
L 1190 2688 
L 3315 2688 
L 3315 4755 
L 640 4755 
z
" transform="scale(0.015625)"/>
      <path id="NotoSansCJKjp-Regular-bcf4" d="M 1466 3418 
L 4410 3418 
L 4410 2355 
L 1466 2355 
L 1466 3418 
z
M 934 4883 
L 934 1920 
L 2669 1920 
L 2669 678 
L 320 678 
L 320 237 
L 5568 237 
L 5568 678 
L 3194 678 
L 3194 1920 
L 4934 1920 
L 4934 4883 
L 4410 4883 
L 4410 3853 
L 1466 3853 
L 1466 4883 
L 934 4883 
z
" transform="scale(0.015625)"/>
      <path id="NotoSansCJKjp-Regular-c874" d="M 800 5011 
L 800 4576 
L 2592 4576 
C 2592 3866 1664 3283 634 3149 
L 832 2720 
C 1779 2861 2624 3328 2931 4006 
C 3245 3328 4096 2861 5037 2720 
L 5235 3149 
C 4211 3283 3277 3866 3277 4576 
L 5075 4576 
L 5075 5011 
L 800 5011 
z
M 992 1267 
L 992 -371 
L 4966 -371 
L 4966 64 
L 1523 64 
L 1523 1267 
L 992 1267 
z
M 2669 3130 
L 2669 2170 
L 320 2170 
L 320 1734 
L 5562 1734 
L 5562 2170 
L 3194 2170 
L 3194 3130 
L 2669 3130 
z
" transform="scale(0.015625)"/>
      <path id="NotoSansCJKjp-Regular-c815" d="M 3174 1664 
C 1978 1664 1248 1267 1248 582 
C 1248 -96 1978 -493 3174 -493 
C 4371 -493 5101 -96 5101 582 
C 5101 1267 4371 1664 3174 1664 
z
M 3174 1248 
C 4045 1248 4576 1005 4576 582 
C 4576 166 4045 -77 3174 -77 
C 2304 -77 1773 166 1773 582 
C 1773 1005 2304 1248 3174 1248 
z
M 4550 5293 
L 4550 3789 
L 3411 3789 
L 3411 3347 
L 4550 3347 
L 4550 1843 
L 5082 1843 
L 5082 5293 
L 4550 5293 
z
M 506 4870 
L 506 4435 
L 1792 4435 
L 1792 4237 
C 1792 3411 1203 2630 339 2317 
L 614 1894 
C 1299 2157 1824 2688 2074 3360 
C 2323 2771 2816 2291 3462 2054 
L 3731 2477 
C 2893 2771 2330 3494 2330 4243 
L 2330 4435 
L 3597 4435 
L 3597 4870 
L 506 4870 
z
" transform="scale(0.015625)"/>
      <path id="NotoSansCJKjp-Regular-b3c4" d="M 986 4826 
L 986 2157 
L 2669 2157 
L 2669 672 
L 320 672 
L 320 230 
L 5568 230 
L 5568 672 
L 3194 672 
L 3194 2157 
L 4960 2157 
L 4960 2586 
L 1517 2586 
L 1517 4390 
L 4902 4390 
L 4902 4826 
L 986 4826 
z
" transform="scale(0.015625)"/>
     </defs>
     <use xlink:href="#NotoSansCJKjp-Regular-53"/>
     <use xlink:href="#NotoSansCJKjp-Regular-68" transform="translate(59.599991 0)"/>
     <use xlink:href="#NotoSansCJKjp-Regular-65" transform="translate(120.299988 0)"/>
     <use xlink:href="#NotoSansCJKjp-Regular-70" transform="translate(175.699982 0)"/>
     <use xlink:href="#NotoSansCJKjp-Regular-61" transform="translate(237.699966 0)"/>
     <use xlink:href="#NotoSansCJKjp-Regular-72" transform="translate(293.999954 0)"/>
     <use xlink:href="#NotoSansCJKjp-Regular-64" transform="translate(332.799942 0)"/>
     <use xlink:href="#NotoSansCJKjp-Regular-20" transform="translate(394.799927 0)"/>
     <use xlink:href="#NotoSansCJKjp-Regular-44" transform="translate(417.199921 0)"/>
     <use xlink:href="#NotoSansCJKjp-Regular-69" transform="translate(485.999908 0)"/>
     <use xlink:href="#NotoSansCJKjp-Regular-61" transform="translate(513.499893 0)"/>
     <use xlink:href="#NotoSansCJKjp-Regular-67" transform="translate(569.799881 0)"/>
     <use xlink:href="#NotoSansCJKjp-Regular-72" transform="translate(626.199875 0)"/>
     <use xlink:href="#NotoSansCJKjp-Regular-61" transform="translate(664.999863 0)"/>
     <use xlink:href="#NotoSansCJKjp-Regular-6d" transform="translate(721.29985 0)"/>
     <use xlink:href="#NotoSansCJKjp-Regular-20" transform="translate(813.899841 0)"/>
     <use xlink:href="#NotoSansCJKjp-Regular-2d" transform="translate(836.299835 0)"/>
     <use xlink:href="#NotoSansCJKjp-Regular-20" transform="translate(870.999832 0)"/>
     <use xlink:href="#NotoSansCJKjp-Regular-ac70" transform="translate(893.399826 0)"/>
     <use xlink:href="#NotoSansCJKjp-Regular-b9ac" transform="translate(985.399811 0)"/>
     <use xlink:href="#NotoSansCJKjp-Regular-20" transform="translate(1077.399796 0)"/>
     <use xlink:href="#NotoSansCJKjp-Regular-bcf4" transform="translate(1099.799789 0)"/>
     <use xlink:href="#NotoSansCJKjp-Regular-c874" transform="translate(1191.799774 0)"/>
     <use xlink:href="#NotoSansCJKjp-Regular-20" transform="translate(1283.799759 0)"/>
     <use xlink:href="#NotoSansCJKjp-Regular-c815" transform="translate(1306.199753 0)"/>
     <use xlink:href="#NotoSansCJKjp-Regular-b3c4" transform="translate(1398.199738 0)"/>
    </g>
   </g>
  </g>
 </g>
 <defs>
  <clipPath id="p649a1bbf76">
   <rect x="33.75" y="22.875" width="527.25" height="362.625"/>
  </clipPath>
 </defs>
</svg>
</body></html>
